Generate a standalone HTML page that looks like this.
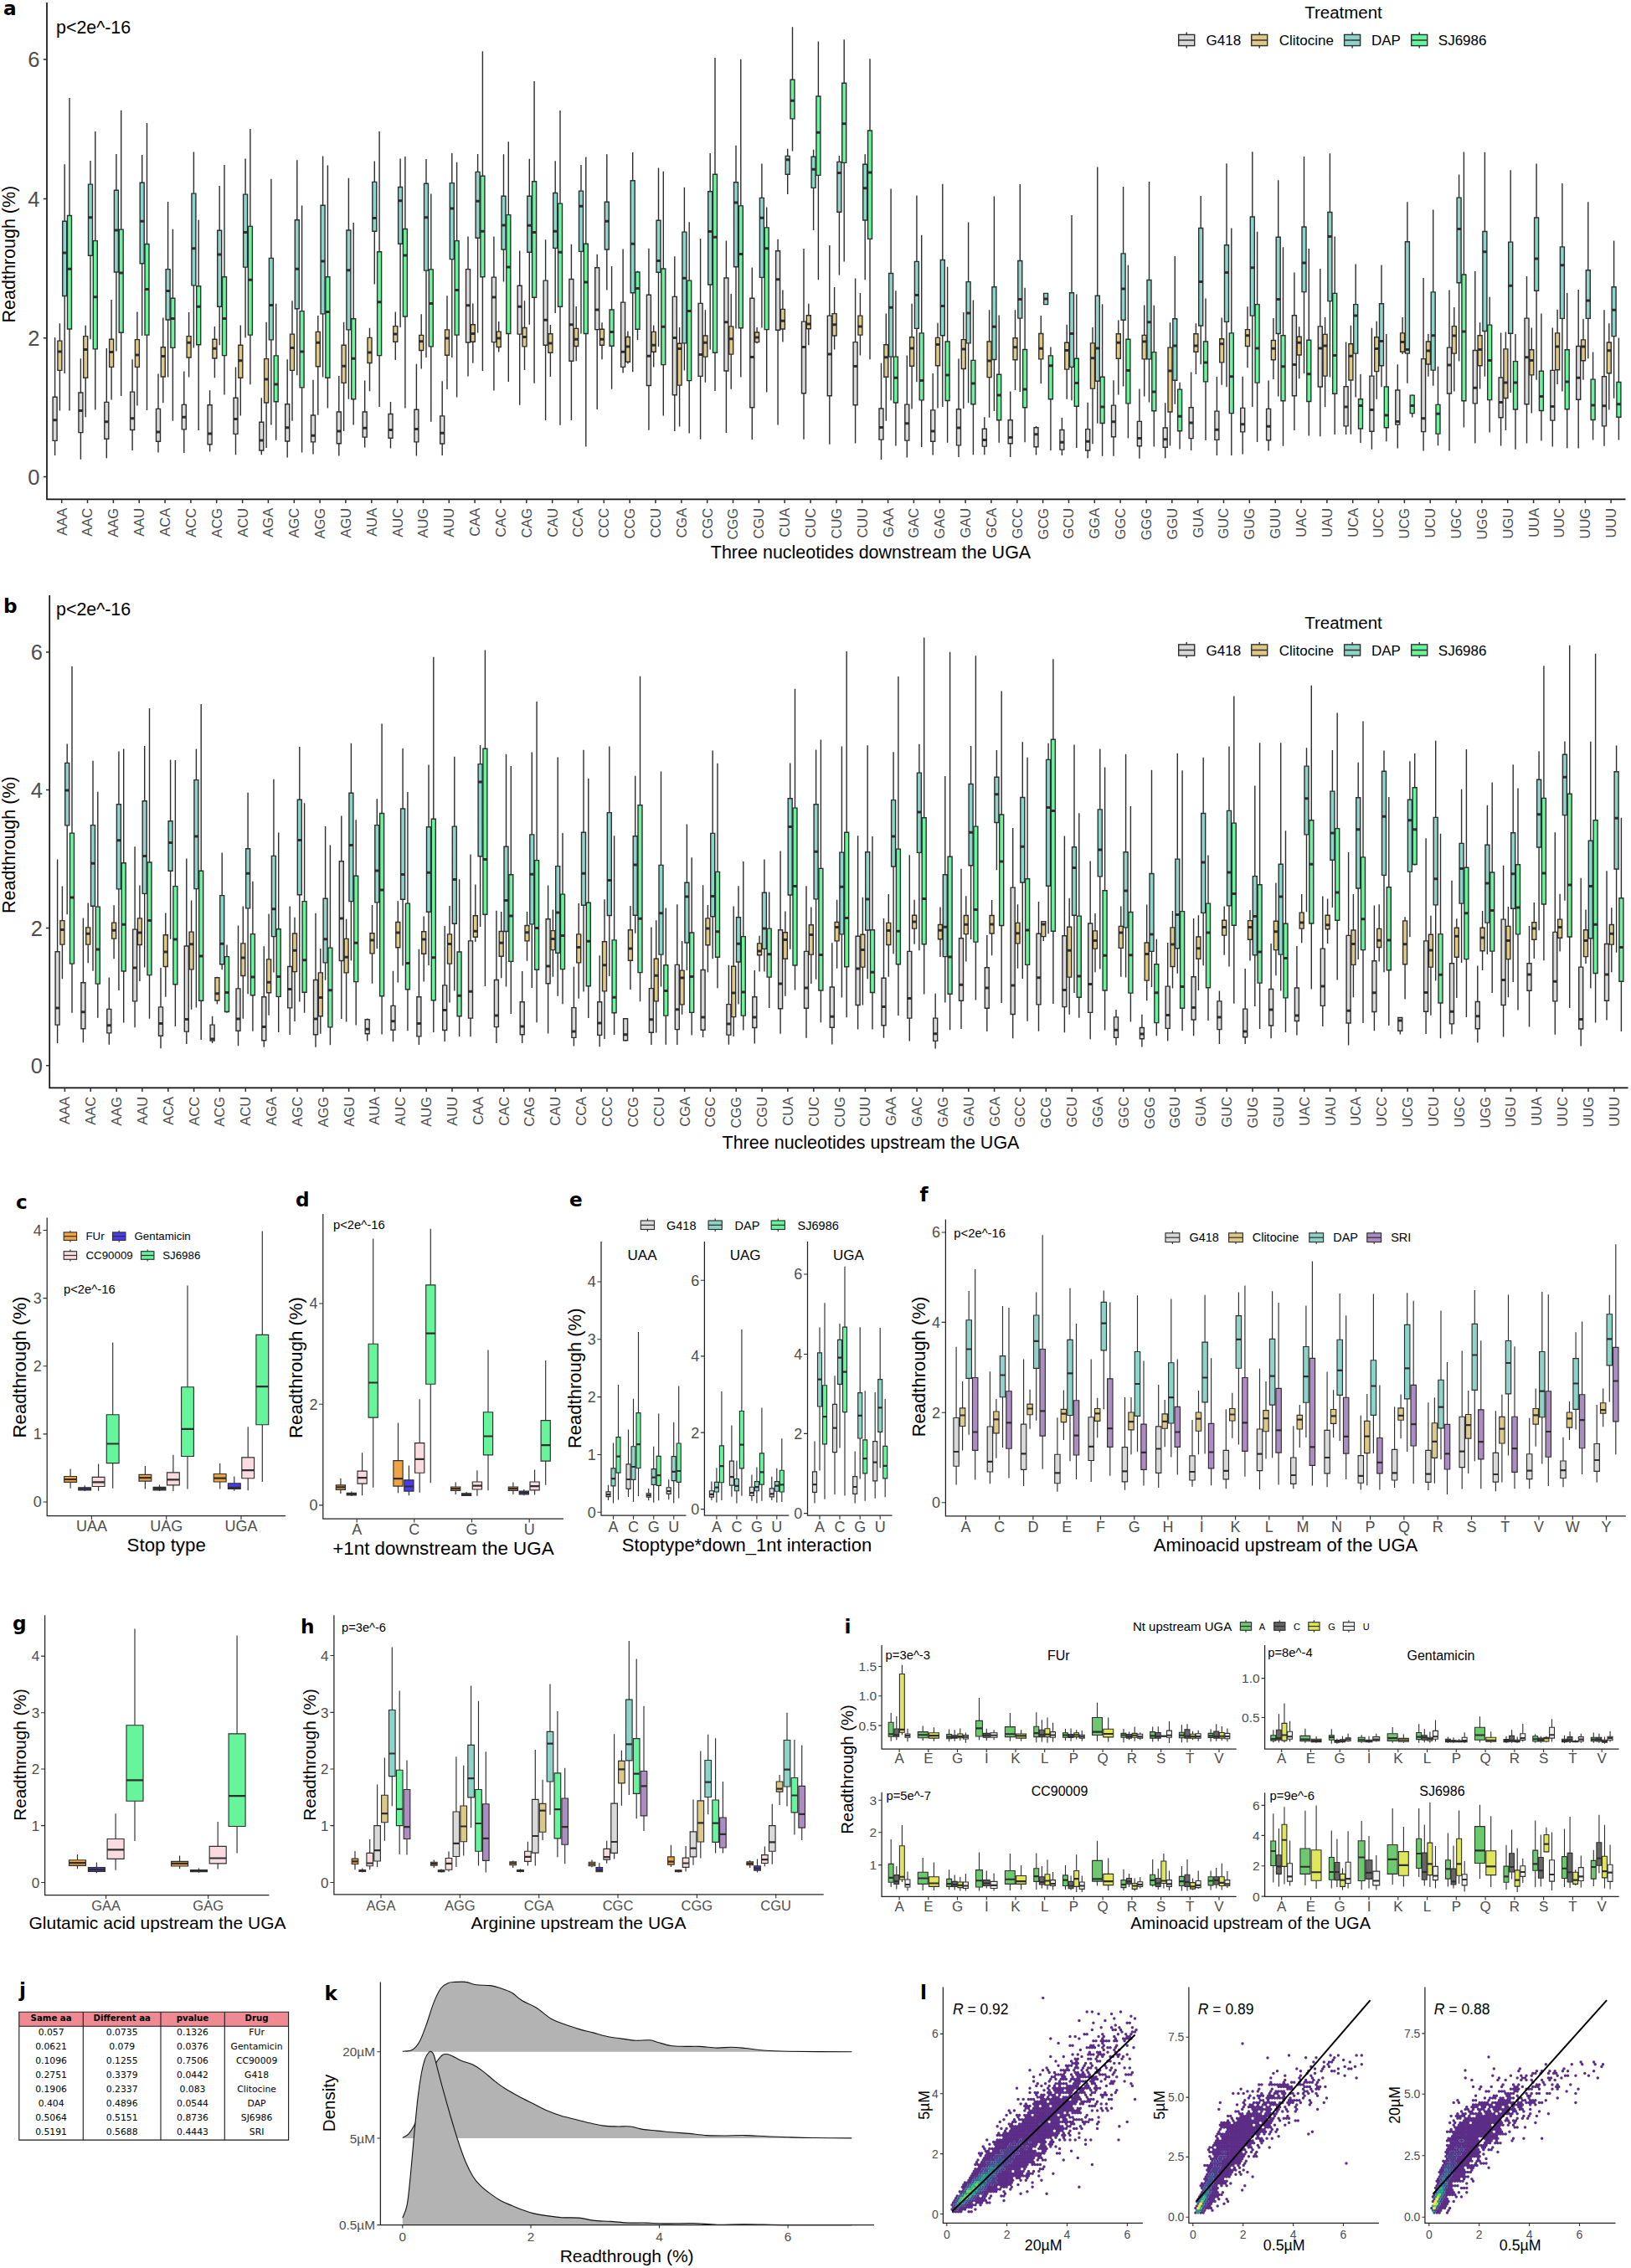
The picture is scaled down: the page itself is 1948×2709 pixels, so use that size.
<!DOCTYPE html>
<html lang="en"><head><meta charset="utf-8"><title>Readthrough figure</title>
<style>html,body{margin:0;padding:0;background:#fff}svg{display:block}</style></head>
<body>
<svg width="1948" height="2709" viewBox="0 0 1948 2709" font-family="Liberation Sans, sans-serif">
<rect width="1948" height="2709" fill="#fff"/>
<path d="M65.6 403.1V544.1M96.4 428.3V548.7M127.3 416V547.2M158.1 429.2V538M189 446.4V540.5M219.8 443.6V541.1M250.6 466.3V539.5M281.5 438.4V543.2M312.3 475.2V543.2M343.2 429.2V546.6M374 453.7V542.6M404.8 449.1V544.5M435.7 454.6V534.6M466.5 480.1V535.6M497.4 434.7V544.5M528.2 455.2V544.1M559 282.6V449.4M589.9 282.6V466.6M620.7 299.5V483.8M651.6 286.3V502.1M682.4 291.8V502.1M713.2 303.8V489M744.1 297.4V445.4M774.9 296.8V513.8M805.8 306.3V515M836.6 285.1V524.8M867.4 287.6V516.9M898.3 319.4V525.1M929.1 285.7V507.4M960 297.1V524.8M990.8 293.1V530.7M1021.6 332.6V529.4M1052.5 433.8V549M1083.3 424.6V546.6M1114.2 446V543.5M1145 428.6V546M1175.8 498.2V543.2M1206.7 467.5V546M1237.5 508.9V543.5M1268.4 499.1V544.1M1299.2 480.7V547.2M1330 454.3V544.8M1360.9 464.4V547.8M1391.7 481.3V547.2M1422.6 444.5V538M1453.4 450V544.1M1484.2 449.7V542.6M1515.1 454.6V538.6M1545.9 325.6V514.1M1576.8 321V521.2M1607.6 408.6V519M1638.4 391.8V536.8M1669.3 435.3V535.6M1700.1 332V538.6M1731 346.4V538.6M1761.8 324V529.4M1792.6 397.6V532.5M1823.5 329.9V529.4M1854.3 391.5V533.4M1885.2 346.1V535.6M1916 370.3V532.8" stroke="#2e2e2e" stroke-width="1.4" fill="none"/>
<path d="M63.1 474.2h5V526.4h-5zM93.9 469h5V516.6h-5zM124.8 480.4h5V524.2h-5zM155.6 468.1h5V513.5h-5zM186.5 488.4h5V527.3h-5zM217.3 483.4h5V512.9h-5zM248.1 483.8h5V530.7h-5zM279 475.2h5V518.4h-5zM309.8 504.3h5V538h-5zM340.7 482.8h5V527h-5zM371.5 496h5V527.9h-5zM402.3 492h5V529.7h-5zM433.2 492h5V522.1h-5zM464 494.5h5V523.3h-5zM494.9 489.3h5V527.9h-5zM525.7 496.9h5V530h-5zM556.5 321.6h5V409h-5zM587.4 331.1h5V408.6h-5zM618.2 341.2h5V399.1h-5zM649.1 335.1h5V412.3h-5zM679.9 333.5h5V431.3h-5zM710.7 319.7h5V393.6h-5zM741.6 361.1h5V438.4h-5zM772.4 352.2h5V460.5h-5zM803.3 354.4h5V471.8h-5zM834.1 362.4h5V449.4h-5zM864.9 332h5V443h-5zM895.8 356.2h5V486.8h-5zM926.6 299.8h5V394.2h-5zM957.5 384.1h5V469.7h-5zM988.3 377.1h5V472.7h-5zM1019.1 408.6h5V483.8h-5zM1050 488h5V525.1h-5zM1080.8 483.1h5V526.1h-5zM1111.7 489.9h5V527.3h-5zM1142.5 488.7h5V531.9h-5zM1173.3 512.3h5V533.1h-5zM1204.2 501.8h5V529.7h-5zM1235 510.7h5V533.7h-5zM1265.9 513.5h5V537.1h-5zM1296.7 512.6h5V538h-5zM1327.5 484.1h5V521.8h-5zM1358.4 503.4h5V532.8h-5zM1389.2 511h5V534.3h-5zM1420.1 486.8h5V523.6h-5zM1450.9 491.1h5V525.4h-5zM1481.7 487.4h5V515.9h-5zM1512.6 488.4h5V525.8h-5zM1543.4 376.8h5V472.7h-5zM1574.3 389.9h5V462h-5zM1605.1 461.7h5V508.9h-5zM1635.9 449.1h5V515.3h-5zM1666.8 466h5V507.1h-5zM1697.6 428.6h5V515.6h-5zM1728.5 415.1h5V470h-5zM1759.3 418.5h5V481.9h-5zM1790.1 451h5V498.8h-5zM1821 380.1h5V482.8h-5zM1851.8 442.4h5V502.1h-5zM1882.7 413.5h5V477.3h-5zM1913.5 449.7h5V508.9h-5z" stroke="#2e2e2e" stroke-width="1.4" fill="#d9d9d9"/>
<path d="M63.1 501.8h5M93.9 490.5h5M124.8 503.7h5M155.6 499.7h5M186.5 515.9h5M217.3 498.2h5M248.1 518.1h5M279 500.6h5M309.8 526.1h5M340.7 510.7h5M371.5 520.2h5M402.3 515h5M433.2 511.3h5M464 513.5h5M494.9 512.6h5M525.7 517.2h5M556.5 364.8h5M587.4 355h5M618.2 366.3h5M649.1 382.3h5M679.9 387.8h5M710.7 370h5M741.6 420.3h5M772.4 425.2h5M803.3 403.4h5M834.1 423.4h5M864.9 384.7h5M895.8 426.4h5M926.6 333.8h5M957.5 414.5h5M988.3 423.1h5M1019.1 437.5h5M1050 510.4h5M1080.8 505.8h5M1111.7 515h5M1142.5 511h5M1173.3 525.4h5M1204.2 522.4h5M1235 518.7h5M1265.9 528.2h5M1296.7 527.3h5M1327.5 503.7h5M1358.4 523.6h5M1389.2 524.8h5M1420.1 504.9h5M1450.9 513.2h5M1481.7 506.7h5M1512.6 509.2h5M1543.4 435.6h5M1574.3 416h5M1605.1 485.9h5M1635.9 489.6h5M1666.8 503.4h5M1697.6 499.7h5M1728.5 435.9h5M1759.3 463.2h5M1790.1 480.4h5M1821 426.7h5M1851.8 485.6h5M1882.7 451.3h5M1913.5 484.7h5" stroke="#2e2e2e" stroke-width="3.0" fill="none"/>
<path d="M71.4 386.3V490.5M102.2 388.7V498.2M133.1 358.1V477.6M163.9 372.5V484.4M194.8 379.5V481.3M225.6 373.1V450.6M256.4 389.9V451.3M287.3 388.4V496.6M318.1 384.7V534.9M349 359.3V502.8M379.8 377.1V495.7M410.6 384.7V515M441.5 391.8V467.2M472.3 372.5V430.1M503.2 375.2V440.5M534 353.2V465.1M564.8 362.4V433.8M595.7 384.1V420.6M626.5 359.3V442.1M657.4 388.1V450M688.2 366V431.3M719 385.3V429.2M749.9 395.5V434.4M780.7 388.4V438.4M811.6 390.9V509.5M842.4 370.3V456.8M873.2 351V464.7M904.1 390.9V410.2M934.9 346.4V408.6M965.8 362.7V412.3M996.6 343V417.5M1027.4 350.1V424.6M1058.3 374.6V502.8M1089.1 362.7V488.4M1120 385.7V487.4M1150.8 373.1V488M1181.6 370.3V498.8M1212.5 370.3V466M1243.3 377.1V458.3M1274.2 387.8V476.7M1305 390.9V530.3M1335.8 382.6V471.5M1366.7 364.5V473.6M1397.5 385.3V532.5M1428.4 386.3V447M1459.2 379.5V459.8M1490 366.3V439.3M1520.9 380.1V453.1M1551.7 390.3V452.2M1582.6 378.9V485.9M1613.4 388.7V518.7M1644.2 383.8V476.7M1675.1 378.9V423.1M1705.9 399.1V449.7M1736.8 367V467.5M1767.6 385.3V464.4M1798.4 396.4V514.1M1829.3 391.5V493.6M1860.1 369.7V458.9M1891 381.1V453.7M1921.8 386.3V489.6" stroke="#2e2e2e" stroke-width="1.4" fill="none"/>
<path d="M68.9 407.1h5V442.4h-5zM99.7 401.6h5V451.3h-5zM130.6 405.3h5V438.4h-5zM161.4 405.6h5V438.4h-5zM192.3 414.8h5V450h-5zM223.1 401.6h5V427h-5zM253.9 405.3h5V428h-5zM284.8 412.3h5V451.3h-5zM315.6 428.6h5V481h-5zM346.5 399.1h5V442.4h-5zM377.3 396.4h5V437.8h-5zM408.1 412.3h5V457.4h-5zM439 403.4h5V433.5h-5zM469.8 389.6h5V408.3h-5zM500.7 400.4h5V418.5h-5zM531.5 393.9h5V424.3h-5zM562.3 387.8h5V408.3h-5zM593.2 396.1h5V414.5h-5zM624 391.5h5V413.9h-5zM654.9 398.8h5V421.2h-5zM685.7 392.4h5V413.5h-5zM716.5 393.3h5V412.3h-5zM747.4 402.5h5V432.3h-5zM778.2 396.4h5V420.3h-5zM809.1 410.2h5V460.1h-5zM839.9 401h5V426.1h-5zM870.7 389.9h5V423.1h-5zM901.6 397h5V408.6h-5zM932.4 369.4h5V393h-5zM963.3 376.8h5V392.7h-5zM994.1 374.6h5V401h-5zM1024.9 377.1h5V400.1h-5zM1055.8 411.7h5V450.3h-5zM1086.6 402.8h5V437.2h-5zM1117.5 403.4h5V436.8h-5zM1148.3 405.6h5V440.5h-5zM1179.1 408h5V450.6h-5zM1210 403.7h5V429.8h-5zM1240.8 398.5h5V428.9h-5zM1271.7 409.3h5V441.1h-5zM1302.5 409.9h5V464.1h-5zM1333.3 398.8h5V428.3h-5zM1364.2 400.4h5V428.9h-5zM1395 415.1h5V492h-5zM1425.9 398.8h5V420.3h-5zM1456.7 404.7h5V432.9h-5zM1487.5 393.6h5V413.5h-5zM1518.4 406.5h5V429.8h-5zM1549.2 402.2h5V424h-5zM1580.1 399.4h5V449.1h-5zM1610.9 410.8h5V454h-5zM1641.7 402.8h5V443.6h-5zM1672.6 397.9h5V420.3h-5zM1703.4 408h5V435h-5zM1734.3 389.6h5V422.1h-5zM1765.1 400.7h5V436.8h-5zM1795.9 416.9h5V475.5h-5zM1826.8 417.8h5V447.9h-5zM1857.6 397.9h5V441.8h-5zM1888.5 405.9h5V430.7h-5zM1919.3 409h5V445.7h-5z" stroke="#2e2e2e" stroke-width="1.4" fill="#dec887"/>
<path d="M68.9 420h5M99.7 417.5h5M130.6 420.6h5M161.4 424h5M192.3 425.5h5M223.1 409.3h5M253.9 416.3h5M284.8 430.7h5M315.6 453.1h5M346.5 415.4h5M377.3 409.3h5M408.1 437.2h5M439 420.9h5M469.8 399.1h5M500.7 407.7h5M531.5 404h5M562.3 398.5h5M593.2 404h5M624 402.5h5M654.9 409.9h5M685.7 405.3h5M716.5 405.3h5M747.4 413.9h5M778.2 412.3h5M809.1 416.6h5M839.9 409.3h5M870.7 404.7h5M901.6 403.1h5M932.4 383.2h5M963.3 386.9h5M994.1 387.8h5M1024.9 389.9h5M1055.8 426.7h5M1086.6 416h5M1117.5 411.4h5M1148.3 416.9h5M1179.1 431h5M1210 414.8h5M1240.8 416.3h5M1271.7 418.5h5M1302.5 427.7h5M1333.3 409.3h5M1364.2 408h5M1395 443h5M1425.9 412.9h5M1456.7 410.8h5M1487.5 400.7h5M1518.4 416.3h5M1549.2 409.3h5M1580.1 412.9h5M1610.9 425.2h5M1641.7 416.6h5M1672.6 408.6h5M1703.4 419.1h5M1734.3 401h5M1765.1 417.5h5M1795.9 457.1h5M1826.8 430.4h5M1857.6 413.9h5M1888.5 413.9h5M1919.3 418.8h5" stroke="#2e2e2e" stroke-width="3.0" fill="none"/>
<path d="M77.2 196.2V446M108 191.9V405.3M138.9 183.9V419.4M169.7 184.9V401M200.6 241V450.6M231.4 181.5V415.4M262.2 221.9V412.3M293.1 189.5V403.4M323.9 213.7V507.4M354.8 191.3V448.2M385.6 186.4V450.6M416.4 212.8V476.7M447.3 192.5V339.4M478.1 189.5V390.9M509 190.1V427M539.8 183V427M570.6 183.9V397.6M601.5 184.2V336.6M632.3 189.8V387.8M663.2 192.2V374M694 197.1V398.5M724.8 184.2V346.4M755.7 182.1V444.2M786.5 200.5V413.9M817.4 223.8V442.4M848.2 183V417.5M879 173.8V392.4M909.9 195.6V391.5M940.7 177.8V232.1M971.6 178.7V275M1002.4 186.1V328.6M1033.2 184.2V334.2M1064.1 225.6V478.2M1094.9 233.6V456.2M1125.8 219.8V485.9M1156.6 265.5V481.3M1187.4 234.5V491.1M1218.3 220.1V468.1M1249.1 350.1V363.9M1280 256.9V478.2M1310.8 199.6V505.8M1341.6 222.9V461.4M1372.5 217V480.4M1403.3 305.9V482.8M1434.2 233.9V435.3M1465 195.3V462.3M1495.8 181.2V485.9M1526.7 215.2V473.6M1557.5 187V446M1588.4 183.3V450.6M1619.2 315.5V474.6M1650 316.4V462.3M1680.9 241.3V457.7M1711.7 250.5V460.8M1742.6 208.5V431.6M1773.4 181.8V449.7M1804.2 203.2V469M1835.1 195.6V453.7M1865.9 218.9V467.5M1896.8 241.3V428.3M1927.6 287.6V475.8" stroke="#2e2e2e" stroke-width="1.4" fill="none"/>
<path d="M74.7 264.3h5V353.5h-5zM105.5 220.1h5V305.3h-5zM136.4 227.2h5V325h-5zM167.2 218.3h5V314.8h-5zM198.1 321.6h5V382h-5zM228.9 231.1h5V340.9h-5zM259.7 275.3h5V366.3h-5zM290.6 232.1h5V319.1h-5zM321.4 308.4h5V405.9h-5zM352.3 262.7h5V368.8h-5zM383.1 245.2h5V374.9h-5zM413.9 275h5V393.9h-5zM444.8 217.4h5V276.2h-5zM475.6 223.5h5V291.2h-5zM506.5 219.2h5V323.1h-5zM537.3 218.6h5V309.6h-5zM568.1 205.4h5V284.2h-5zM599 234.2h5V298h-5zM629.8 234.2h5V301.3h-5zM660.7 230.5h5V296.4h-5zM691.5 228.1h5V300.4h-5zM722.3 241.3h5V298h-5zM753.2 215.8h5V349.8h-5zM784 263.3h5V325.3h-5zM814.9 277.1h5V409.9h-5zM845.7 228.7h5V340h-5zM876.5 217.7h5V318.8h-5zM907.4 236.4h5V331.4h-5zM938.2 186.4h5V208.2h-5zM969.1 187.3h5V224.4h-5zM999.9 193.4h5V253.2h-5zM1030.7 196.2h5V263h-5zM1061.6 326.5h5V426.1h-5zM1092.4 312.4h5V392.4h-5zM1123.3 310.5h5V400.7h-5zM1154.1 336.6h5V409.9h-5zM1184.9 342.7h5V429.5h-5zM1215.8 311.5h5V380.1h-5zM1246.6 350.4h5V363.6h-5zM1277.5 349.8h5V438.4h-5zM1308.3 353.2h5V455.2h-5zM1339.1 302.9h5V382.3h-5zM1370 334.5h5V428.9h-5zM1400.8 380.7h5V454.3h-5zM1431.7 272.5h5V389h-5zM1462.5 292.8h5V384.4h-5zM1493.3 259h5V377.1h-5zM1524.2 283.3h5V398.5h-5zM1555 271h5V348.6h-5zM1585.9 253.5h5V359.6h-5zM1616.7 363.6h5V422.1h-5zM1647.5 362.7h5V436.8h-5zM1678.4 288.8h5V422.1h-5zM1709.2 348.9h5V442.1h-5zM1740.1 236.1h5V337.8h-5zM1770.9 276.5h5V395.5h-5zM1801.7 289.1h5V398.2h-5zM1832.6 260h5V347.3h-5zM1863.4 294.9h5V380.4h-5zM1894.3 322.8h5V380.4h-5zM1925.1 342.7h5V401.6h-5z" stroke="#2e2e2e" stroke-width="1.4" fill="#8dd3c7"/>
<path d="M74.7 302h5M105.5 259.7h5M136.4 275h5M167.2 264.3h5M198.1 347.6h5M228.9 296.8h5M259.7 304.1h5M290.6 277.4h5M321.4 364.5h5M352.3 321.3h5M383.1 312.1h5M413.9 322.8h5M444.8 260.6h5M475.6 239.7h5M506.5 259.7h5M537.3 248.9h5M568.1 240.3h5M599 268.9h5M629.8 269.2h5M660.7 276.2h5M691.5 246.2h5M722.3 264.3h5M753.2 291.2h5M784 311.5h5M814.9 332.3h5M845.7 276.5h5M876.5 241.9h5M907.4 260.3h5M938.2 190.7h5M969.1 202.3h5M999.9 206.6h5M1030.7 224.7h5M1061.6 367.3h5M1092.4 352.5h5M1123.3 365.4h5M1154.1 374h5M1184.9 390.3h5M1215.8 357.4h5M1246.6 357.1h5M1277.5 398.5h5M1308.3 416h5M1339.1 344.9h5M1370 384.7h5M1400.8 412.9h5M1431.7 336.6h5M1462.5 325.6h5M1493.3 319.7h5M1524.2 357.4h5M1555 313.9h5M1585.9 282.6h5M1616.7 377.1h5M1647.5 407.4h5M1678.4 417.5h5M1709.2 400.7h5M1740.1 273.5h5M1770.9 300.7h5M1801.7 341.2h5M1832.6 309h5M1863.4 316.7h5M1894.3 359h5M1925.1 370.3h5" stroke="#2e2e2e" stroke-width="3.0" fill="none"/>
<path d="M83 117.1V490.5M113.8 157V489.6M144.7 131.8V473M175.5 147.1V489.9M206.4 273.8V502.8M237.2 262.7V514.1M268 197.1V471.5M298.9 153.9V459.2M329.7 362.7V525.8M360.6 245.6V540.5M391.4 197.4V487.4M422.2 266.1V507.4M453.1 157V485.9M483.9 187V487.4M514.8 231.5V503.7M545.6 193.7V474.6M576.4 61.3V443M607.3 169.2V455.9M638.1 96.9V457.7M669 132.1V507.7M699.8 187.6V533.4M730.6 317.9V464.7M761.5 323.4V405.9M792.3 204.8V496.6M823.2 265.2V517.5M854 69V466.9M884.8 70.8V450.6M915.7 247.4V468.4M946.5 32.2V180.6M977.4 49.4V334.2M1008.2 47.2V312.4M1039 70.2V429.2M1069.9 347.3V532.5M1100.7 280.8V534M1131.6 318.8V528.8M1162.4 358.4V543.2M1193.2 376.5V528.8M1224.1 343.7V528.2M1254.9 414.5V538M1285.8 351.6V534.9M1316.6 363.3V544.8M1347.4 316.4V523.6M1378.3 364.8V533.4M1409.1 456.8V536.5M1440 356.5V526.1M1470.8 272.5V544.1M1501.6 276.8V527.9M1532.5 295.2V532.8M1563.3 297.1V520.5M1594.2 282.6V519M1625 447V529.1M1655.8 399.1V527.3M1686.7 471.5V498.5M1717.5 437.8V532.2M1748.4 181.5V510.4M1779.2 354.7V516.6M1810 399.1V536.8M1840.9 374.6V526.4M1871.7 350.1V535.3M1902.6 420.6V525.4M1933.4 403.4V525.4" stroke="#2e2e2e" stroke-width="1.4" fill="none"/>
<path d="M80.5 257.5h5V393h-5zM111.3 287.6h5V416.9h-5zM142.2 274.1h5V397.3h-5zM173 291.5h5V400.1h-5zM203.9 356.2h5V415.4h-5zM234.7 341.8h5V411.7h-5zM265.5 330.8h5V424.6h-5zM296.4 270.4h5V400.1h-5zM327.2 424.9h5V479.8h-5zM358.1 371.6h5V462.9h-5zM388.9 330.8h5V451.3h-5zM419.7 380.7h5V476.7h-5zM450.6 300.7h5V424.6h-5zM481.4 273.5h5V378h-5zM512.3 321.9h5V413.9h-5zM543.1 287.6h5V400.1h-5zM573.9 210.3h5V330.8h-5zM604.8 256.6h5V398.5h-5zM635.6 216.7h5V355.3h-5zM666.5 243.1h5V366.3h-5zM697.3 291.2h5V398.5h-5zM728.1 370h5V413.2h-5zM759 325h5V393.3h-5zM789.8 321h5V435.6h-5zM820.7 335.1h5V454.6h-5zM851.5 208.2h5V421.2h-5zM882.3 245.9h5V391.8h-5zM913.2 271.9h5V393.6h-5zM944 95.3h5V141.9h-5zM974.9 115h5V209.4h-5zM1005.7 99.3h5V194.4h-5zM1036.5 156h5V285.4h-5zM1067.4 426.1h5V481h-5zM1098.2 397.9h5V477.9h-5zM1129.1 408h5V478.5h-5zM1159.9 430.4h5V482.8h-5zM1190.7 447.3h5V501.8h-5zM1221.6 417.5h5V486.8h-5zM1252.4 424.9h5V476.7h-5zM1283.3 428.3h5V485.3h-5zM1314.1 450.3h5V505.5h-5zM1344.9 405.3h5V481.9h-5zM1375.8 420.6h5V490.8h-5zM1406.6 465.1h5V514.7h-5zM1437.5 408h5V455.9h-5zM1468.3 397.9h5V493.6h-5zM1499.1 363.6h5V457.1h-5zM1530 400.7h5V478.8h-5zM1560.8 406.2h5V479.5h-5zM1591.7 350.4h5V470.3h-5zM1622.5 476.7h5V512h-5zM1653.3 462h5V510.7h-5zM1684.2 472.1h5V493.6h-5zM1715 483.4h5V518.1h-5zM1745.9 328h5V478.8h-5zM1776.7 388.1h5V477.6h-5zM1807.5 431.6h5V489h-5zM1838.4 443.3h5V490.5h-5zM1869.2 417.8h5V488.7h-5zM1900.1 453.1h5V501.5h-5zM1930.9 456.5h5V498.2h-5z" stroke="#2e2e2e" stroke-width="1.4" fill="#66f59b"/>
<path d="M80.5 321.3h5M111.3 354.7h5M142.2 325.9h5M173 345.5h5M203.9 380.4h5M234.7 366.3h5M265.5 380.4h5M296.4 334.2h5M327.2 458.9h5M358.1 420h5M388.9 372.5h5M419.7 428.3h5M450.6 360.8h5M481.4 305h5M512.3 362.4h5M543.1 346.4h5M573.9 276.2h5M604.8 319.1h5M635.6 277.4h5M666.5 301.3h5M697.3 336.9h5M728.1 396.4h5M759 344.6h5M789.8 390.3h5M820.7 371.6h5M851.5 283.3h5M882.3 303.5h5M913.2 296.8h5M944 120.2h5M974.9 158.2h5M1005.7 147.8h5M1036.5 206h5M1067.4 451.3h5M1098.2 454.6h5M1129.1 447.9h5M1159.9 458h5M1190.7 472.1h5M1221.6 465.1h5M1252.4 436.8h5M1283.3 457.4h5M1314.1 485.9h5M1344.9 442.4h5M1375.8 468.1h5M1406.6 497.2h5M1437.5 432.9h5M1468.3 449.7h5M1499.1 416h5M1530 437.8h5M1560.8 446.7h5M1591.7 424.6h5M1622.5 484.4h5M1653.3 496h5M1684.2 484.4h5M1715 494.2h5M1745.9 396.1h5M1776.7 430.4h5M1807.5 457.1h5M1838.4 473.6h5M1869.2 455.9h5M1900.1 484.1h5M1930.9 482.8h5" stroke="#2e2e2e" stroke-width="3.0" fill="none"/>
<path d="M56 3V596.3H1941.5" stroke="#111" stroke-width="1.7" fill="none"/>
<path d="M51.8 71.1h4.2M51.8 237.6h4.2M51.8 403.7h4.2M51.8 569.6h4.2" stroke="#2e2e2e" stroke-width="1.5"/>
<text x="47.5" y="80.2" font-size="25.5" text-anchor="end" fill="#4d4d4d">6</text>
<text x="47.5" y="246.7" font-size="25.5" text-anchor="end" fill="#4d4d4d">4</text>
<text x="47.5" y="412.8" font-size="25.5" text-anchor="end" fill="#4d4d4d">2</text>
<text x="47.5" y="578.7" font-size="25.5" text-anchor="end" fill="#4d4d4d">0</text>
<path d="M73.7 596.3v4.6M104.5 596.3v4.6M135.4 596.3v4.6M166.2 596.3v4.6M197.1 596.3v4.6M227.9 596.3v4.6M258.7 596.3v4.6M289.6 596.3v4.6M320.4 596.3v4.6M351.3 596.3v4.6M382.1 596.3v4.6M412.9 596.3v4.6M443.8 596.3v4.6M474.6 596.3v4.6M505.5 596.3v4.6M536.3 596.3v4.6M567.1 596.3v4.6M598 596.3v4.6M628.8 596.3v4.6M659.7 596.3v4.6M690.5 596.3v4.6M721.3 596.3v4.6M752.2 596.3v4.6M783 596.3v4.6M813.9 596.3v4.6M844.7 596.3v4.6M875.5 596.3v4.6M906.4 596.3v4.6M937.2 596.3v4.6M968.1 596.3v4.6M998.9 596.3v4.6M1029.7 596.3v4.6M1060.6 596.3v4.6M1091.4 596.3v4.6M1122.3 596.3v4.6M1153.1 596.3v4.6M1183.9 596.3v4.6M1214.8 596.3v4.6M1245.6 596.3v4.6M1276.5 596.3v4.6M1307.3 596.3v4.6M1338.1 596.3v4.6M1369 596.3v4.6M1399.8 596.3v4.6M1430.7 596.3v4.6M1461.5 596.3v4.6M1492.3 596.3v4.6M1523.2 596.3v4.6M1554 596.3v4.6M1584.9 596.3v4.6M1615.7 596.3v4.6M1646.5 596.3v4.6M1677.4 596.3v4.6M1708.2 596.3v4.6M1739.1 596.3v4.6M1769.9 596.3v4.6M1800.7 596.3v4.6M1831.6 596.3v4.6M1862.4 596.3v4.6M1893.3 596.3v4.6M1924.1 596.3v4.6" stroke="#2e2e2e" stroke-width="1.5"/>
<text font-size="16.5" text-anchor="end" fill="#4d4d4d" transform="translate(79.6,606.8) rotate(-90)">AAA</text>
<text font-size="16.5" text-anchor="end" fill="#4d4d4d" transform="translate(110.4,606.8) rotate(-90)">AAC</text>
<text font-size="16.5" text-anchor="end" fill="#4d4d4d" transform="translate(141.3,606.8) rotate(-90)">AAG</text>
<text font-size="16.5" text-anchor="end" fill="#4d4d4d" transform="translate(172.1,606.8) rotate(-90)">AAU</text>
<text font-size="16.5" text-anchor="end" fill="#4d4d4d" transform="translate(203,606.8) rotate(-90)">ACA</text>
<text font-size="16.5" text-anchor="end" fill="#4d4d4d" transform="translate(233.8,606.8) rotate(-90)">ACC</text>
<text font-size="16.5" text-anchor="end" fill="#4d4d4d" transform="translate(264.6,606.8) rotate(-90)">ACG</text>
<text font-size="16.5" text-anchor="end" fill="#4d4d4d" transform="translate(295.5,606.8) rotate(-90)">ACU</text>
<text font-size="16.5" text-anchor="end" fill="#4d4d4d" transform="translate(326.3,606.8) rotate(-90)">AGA</text>
<text font-size="16.5" text-anchor="end" fill="#4d4d4d" transform="translate(357.2,606.8) rotate(-90)">AGC</text>
<text font-size="16.5" text-anchor="end" fill="#4d4d4d" transform="translate(388,606.8) rotate(-90)">AGG</text>
<text font-size="16.5" text-anchor="end" fill="#4d4d4d" transform="translate(418.8,606.8) rotate(-90)">AGU</text>
<text font-size="16.5" text-anchor="end" fill="#4d4d4d" transform="translate(449.7,606.8) rotate(-90)">AUA</text>
<text font-size="16.5" text-anchor="end" fill="#4d4d4d" transform="translate(480.5,606.8) rotate(-90)">AUC</text>
<text font-size="16.5" text-anchor="end" fill="#4d4d4d" transform="translate(511.4,606.8) rotate(-90)">AUG</text>
<text font-size="16.5" text-anchor="end" fill="#4d4d4d" transform="translate(542.2,606.8) rotate(-90)">AUU</text>
<text font-size="16.5" text-anchor="end" fill="#4d4d4d" transform="translate(573,606.8) rotate(-90)">CAA</text>
<text font-size="16.5" text-anchor="end" fill="#4d4d4d" transform="translate(603.9,606.8) rotate(-90)">CAC</text>
<text font-size="16.5" text-anchor="end" fill="#4d4d4d" transform="translate(634.7,606.8) rotate(-90)">CAG</text>
<text font-size="16.5" text-anchor="end" fill="#4d4d4d" transform="translate(665.6,606.8) rotate(-90)">CAU</text>
<text font-size="16.5" text-anchor="end" fill="#4d4d4d" transform="translate(696.4,606.8) rotate(-90)">CCA</text>
<text font-size="16.5" text-anchor="end" fill="#4d4d4d" transform="translate(727.2,606.8) rotate(-90)">CCC</text>
<text font-size="16.5" text-anchor="end" fill="#4d4d4d" transform="translate(758.1,606.8) rotate(-90)">CCG</text>
<text font-size="16.5" text-anchor="end" fill="#4d4d4d" transform="translate(788.9,606.8) rotate(-90)">CCU</text>
<text font-size="16.5" text-anchor="end" fill="#4d4d4d" transform="translate(819.8,606.8) rotate(-90)">CGA</text>
<text font-size="16.5" text-anchor="end" fill="#4d4d4d" transform="translate(850.6,606.8) rotate(-90)">CGC</text>
<text font-size="16.5" text-anchor="end" fill="#4d4d4d" transform="translate(881.4,606.8) rotate(-90)">CGG</text>
<text font-size="16.5" text-anchor="end" fill="#4d4d4d" transform="translate(912.3,606.8) rotate(-90)">CGU</text>
<text font-size="16.5" text-anchor="end" fill="#4d4d4d" transform="translate(943.1,606.8) rotate(-90)">CUA</text>
<text font-size="16.5" text-anchor="end" fill="#4d4d4d" transform="translate(974,606.8) rotate(-90)">CUC</text>
<text font-size="16.5" text-anchor="end" fill="#4d4d4d" transform="translate(1004.8,606.8) rotate(-90)">CUG</text>
<text font-size="16.5" text-anchor="end" fill="#4d4d4d" transform="translate(1035.6,606.8) rotate(-90)">CUU</text>
<text font-size="16.5" text-anchor="end" fill="#4d4d4d" transform="translate(1066.5,606.8) rotate(-90)">GAA</text>
<text font-size="16.5" text-anchor="end" fill="#4d4d4d" transform="translate(1097.3,606.8) rotate(-90)">GAC</text>
<text font-size="16.5" text-anchor="end" fill="#4d4d4d" transform="translate(1128.2,606.8) rotate(-90)">GAG</text>
<text font-size="16.5" text-anchor="end" fill="#4d4d4d" transform="translate(1159,606.8) rotate(-90)">GAU</text>
<text font-size="16.5" text-anchor="end" fill="#4d4d4d" transform="translate(1189.8,606.8) rotate(-90)">GCA</text>
<text font-size="16.5" text-anchor="end" fill="#4d4d4d" transform="translate(1220.7,606.8) rotate(-90)">GCC</text>
<text font-size="16.5" text-anchor="end" fill="#4d4d4d" transform="translate(1251.5,606.8) rotate(-90)">GCG</text>
<text font-size="16.5" text-anchor="end" fill="#4d4d4d" transform="translate(1282.4,606.8) rotate(-90)">GCU</text>
<text font-size="16.5" text-anchor="end" fill="#4d4d4d" transform="translate(1313.2,606.8) rotate(-90)">GGA</text>
<text font-size="16.5" text-anchor="end" fill="#4d4d4d" transform="translate(1344,606.8) rotate(-90)">GGC</text>
<text font-size="16.5" text-anchor="end" fill="#4d4d4d" transform="translate(1374.9,606.8) rotate(-90)">GGG</text>
<text font-size="16.5" text-anchor="end" fill="#4d4d4d" transform="translate(1405.7,606.8) rotate(-90)">GGU</text>
<text font-size="16.5" text-anchor="end" fill="#4d4d4d" transform="translate(1436.6,606.8) rotate(-90)">GUA</text>
<text font-size="16.5" text-anchor="end" fill="#4d4d4d" transform="translate(1467.4,606.8) rotate(-90)">GUC</text>
<text font-size="16.5" text-anchor="end" fill="#4d4d4d" transform="translate(1498.2,606.8) rotate(-90)">GUG</text>
<text font-size="16.5" text-anchor="end" fill="#4d4d4d" transform="translate(1529.1,606.8) rotate(-90)">GUU</text>
<text font-size="16.5" text-anchor="end" fill="#4d4d4d" transform="translate(1559.9,606.8) rotate(-90)">UAC</text>
<text font-size="16.5" text-anchor="end" fill="#4d4d4d" transform="translate(1590.8,606.8) rotate(-90)">UAU</text>
<text font-size="16.5" text-anchor="end" fill="#4d4d4d" transform="translate(1621.6,606.8) rotate(-90)">UCA</text>
<text font-size="16.5" text-anchor="end" fill="#4d4d4d" transform="translate(1652.4,606.8) rotate(-90)">UCC</text>
<text font-size="16.5" text-anchor="end" fill="#4d4d4d" transform="translate(1683.3,606.8) rotate(-90)">UCG</text>
<text font-size="16.5" text-anchor="end" fill="#4d4d4d" transform="translate(1714.1,606.8) rotate(-90)">UCU</text>
<text font-size="16.5" text-anchor="end" fill="#4d4d4d" transform="translate(1745,606.8) rotate(-90)">UGC</text>
<text font-size="16.5" text-anchor="end" fill="#4d4d4d" transform="translate(1775.8,606.8) rotate(-90)">UGG</text>
<text font-size="16.5" text-anchor="end" fill="#4d4d4d" transform="translate(1806.6,606.8) rotate(-90)">UGU</text>
<text font-size="16.5" text-anchor="end" fill="#4d4d4d" transform="translate(1837.5,606.8) rotate(-90)">UUA</text>
<text font-size="16.5" text-anchor="end" fill="#4d4d4d" transform="translate(1868.3,606.8) rotate(-90)">UUC</text>
<text font-size="16.5" text-anchor="end" fill="#4d4d4d" transform="translate(1899.2,606.8) rotate(-90)">UUG</text>
<text font-size="16.5" text-anchor="end" fill="#4d4d4d" transform="translate(1930,606.8) rotate(-90)">UUU</text>
<text font-size="21.5" text-anchor="middle" transform="translate(18,303.6) rotate(-90)">Readthrough (%)</text>
<text x="1040" y="666.5" font-size="21.5" text-anchor="middle">Three nucleotides downstream the UGA</text>
<text x="4" y="17.8" font-size="23.2" font-weight="bold" font-family="DejaVu Sans, sans-serif">a</text>
<text x="67" y="39.5" font-size="21.4">p&lt;2e^-16</text>
<text x="1604.5" y="21.8" font-size="20.5" text-anchor="middle">Treatment</text>
<path d="M1417.2 38.4V57.6" stroke="#2e2e2e" stroke-width="1.4"/>
<rect x="1407.7" y="41.4" width="19" height="13.2" fill="#d9d9d9" stroke="#2e2e2e" stroke-width="1.4"/>
<path d="M1407.7 48h19" stroke="#2e2e2e" stroke-width="1.47"/>
<text x="1440.5" y="54.1" font-size="17">G418</text>
<path d="M1504.2 38.4V57.6" stroke="#2e2e2e" stroke-width="1.4"/>
<rect x="1494.7" y="41.4" width="19" height="13.2" fill="#dec887" stroke="#2e2e2e" stroke-width="1.4"/>
<path d="M1494.7 48h19" stroke="#2e2e2e" stroke-width="1.47"/>
<text x="1527.7" y="54.1" font-size="17">Clitocine</text>
<path d="M1615.1 38.4V57.6" stroke="#2e2e2e" stroke-width="1.4"/>
<rect x="1605.6" y="41.4" width="19" height="13.2" fill="#8dd3c7" stroke="#2e2e2e" stroke-width="1.4"/>
<path d="M1605.6 48h19" stroke="#2e2e2e" stroke-width="1.47"/>
<text x="1638" y="54.1" font-size="17">DAP</text>
<path d="M1695.2 38.4V57.6" stroke="#2e2e2e" stroke-width="1.4"/>
<rect x="1685.7" y="41.4" width="19" height="13.2" fill="#66f59b" stroke="#2e2e2e" stroke-width="1.4"/>
<path d="M1685.7 48h19" stroke="#2e2e2e" stroke-width="1.47"/>
<text x="1717.8" y="54.1" font-size="17">SJ6986</text>
<path d="M68.6 1026.4V1245.9M99.4 1096.6V1245.3M130.3 1167.4V1247.7M161.1 1011.3V1227.2M192 1156V1252.3M222.8 1025.5V1247.1M253.6 1213.7V1245.9M284.5 1105.5V1249.2M315.3 1130.3V1250.8M346.2 1082.5V1236.1M377 1090.7V1250.8M407.8 974.6V1217.1M438.7 1216.4V1243.4M469.5 1159.7V1244.3M500.4 1133.7V1248M531.2 1106.1V1244M562 1020.5V1238.2M592.9 1087.7V1245.9M623.7 1160V1245.9M654.6 1057.6V1234.5M685.4 1154.8V1249.5M716.2 1141.3V1250.2M747.1 1216.4V1243.4M777.9 1107.6V1248M808.8 1080.3V1248M839.6 1057.3V1239.1M870.4 1152.7V1247.7M901.3 1159.1V1246.5M932.1 1016.6V1234.8M963 1058.3V1239.7M993.8 1126.3V1247.4M1024.6 998.2V1229.6M1055.5 1096.9V1239.7M1086.3 1021.2V1243.4M1117.2 1186.7V1252.6M1148 1037.7V1229M1178.8 1117.1V1232.1M1209.7 989V1240.3M1240.5 1077V1231.8M1271.4 998.5V1233.3M1302.2 1028.5V1241.3M1333 1206V1248.6M1363.9 1211.8V1250.5M1394.7 1126V1243.4M1425.6 1096.9V1237.3M1456.4 1183.6V1247.1M1487.2 1157V1247.1M1518.1 1126.9V1240.3M1548.9 1130V1236.4M1579.8 1070.5V1225.9M1610.6 1018.1V1248.6M1641.4 1081.6V1231.2M1672.3 1215.2V1235.4M1703.1 1001.2V1235.1M1734 1051.8V1235.4M1764.8 1153.6V1245.3M1795.6 1033.7V1238.5M1826.5 1106.1V1226.6M1857.3 994.2V1235.8M1888.2 1048.7V1249.5M1919 1040.2V1218.6" stroke="#2e2e2e" stroke-width="1.4" fill="none"/>
<path d="M66.1 1136.7h5V1224.1h-5zM96.9 1173.8h5V1228.7h-5zM127.8 1205.4h5V1233.9h-5zM158.6 1110.1h5V1195.9h-5zM189.5 1202.9h5V1237.3h-5zM220.3 1130h5V1232.1h-5zM251.1 1224.1h5V1243.1h-5zM282 1180.9h5V1231.2h-5zM312.8 1190.7h5V1242.8h-5zM343.7 1154.5h5V1203.9h-5zM374.5 1170.5h5V1235.8h-5zM405.3 1028.8h5V1147.5h-5zM436.2 1217.7h5V1234.8h-5zM467 1201.4h5V1230.2h-5zM497.9 1190.7h5V1237.9h-5zM528.7 1176.9h5V1230.5h-5zM559.5 1123.9h5V1216.1h-5zM590.4 1170.5h5V1226.6h-5zM621.2 1196.8h5V1235.8h-5zM652.1 1097.8h5V1174.7h-5zM682.9 1203.6h5V1239.4h-5zM713.7 1196.8h5V1236.4h-5zM744.6 1216.7h5V1242.8h-5zM775.4 1180.6h5V1233.3h-5zM806.3 1152.4h5V1229.6h-5zM837.1 1158.5h5V1230.2h-5zM867.9 1199.6h5V1236.1h-5zM898.8 1190.7h5V1227.5h-5zM929.6 1110.7h5V1204.8h-5zM960.5 1136.4h5V1204.2h-5zM991.3 1179h5V1227.2h-5zM1022.1 1118.3h5V1200.5h-5zM1053 1168.3h5V1224.7h-5zM1083.8 1136.4h5V1216.1h-5zM1114.7 1216.1h5V1243.4h-5zM1145.5 1120.8h5V1195.3h-5zM1176.3 1155.7h5V1204.2h-5zM1207.2 1060.1h5V1211.5h-5zM1238 1115.3h5V1199.9h-5zM1268.9 1117.7h5V1202.6h-5zM1299.7 1103h5V1209.4h-5zM1330.5 1214.9h5V1239.4h-5zM1361.4 1227.5h5V1240.7h-5zM1392.2 1178.1h5V1228.4h-5zM1423.1 1166.8h5V1218h-5zM1453.9 1195.9h5V1229.6h-5zM1484.7 1205.1h5V1238.8h-5zM1515.6 1181.5h5V1225h-5zM1546.4 1180h5V1219.5h-5zM1577.3 1133.1h5V1201.4h-5zM1608.1 1117.4h5V1222h-5zM1638.9 1147.8h5V1208.5h-5zM1669.8 1215.5h5V1231.2h-5zM1700.6 1123.9h5V1208.2h-5zM1731.5 1150.8h5V1222.9h-5zM1762.3 1196.5h5V1228.7h-5zM1793.1 1098.1h5V1200.5h-5zM1824 1150.8h5V1183.3h-5zM1854.8 1113.4h5V1195.9h-5zM1885.7 1155.1h5V1229h-5zM1916.5 1127.5h5V1195.3h-5z" stroke="#2e2e2e" stroke-width="1.4" fill="#d9d9d9"/>
<path d="M66.1 1203.9h5M96.9 1208.8h5M127.8 1224.7h5M158.6 1156h5M189.5 1222.6h5M220.3 1217.4h5M251.1 1241h5M282 1217.1h5M312.8 1226.6h5M343.7 1181.5h5M374.5 1217.1h5M405.3 1096.9h5M436.2 1229.3h5M467 1219.8h5M497.9 1222.6h5M528.7 1206.6h5M559.5 1184.2h5M590.4 1213.1h5M621.2 1225.9h5M652.1 1153.9h5M682.9 1232.1h5M713.7 1222h5M744.6 1235.8h5M775.4 1217.7h5M806.3 1205.7h5M837.1 1214.9h5M867.9 1222.9h5M898.8 1214.9h5M929.6 1175.1h5M960.5 1180h5M991.3 1214.3h5M1022.1 1157h5M1053 1202.6h5M1083.8 1192.5h5M1114.7 1234.8h5M1145.5 1176.3h5M1176.3 1180h5M1207.2 1176.9h5M1238 1167.7h5M1268.9 1182.4h5M1299.7 1175.4h5M1330.5 1230.2h5M1361.4 1235.1h5M1392.2 1212.5h5M1423.1 1203.6h5M1453.9 1214.9h5M1484.7 1232.1h5M1515.6 1206h5M1546.4 1213.1h5M1577.3 1178.1h5M1608.1 1207.2h5M1638.9 1185.8h5M1669.8 1218.9h5M1700.6 1185.5h5M1731.5 1208.2h5M1762.3 1213.7h5M1793.1 1170.5h5M1824 1164h5M1854.8 1172.3h5M1885.7 1217.4h5M1916.5 1164h5" stroke="#2e2e2e" stroke-width="3.0" fill="none"/>
<path d="M74.4 1058.6V1169.2M105.2 1078.5V1150.2M136.1 1081.2V1145.3M166.9 1057.6V1172M197.8 1090.4V1190.7M228.6 1075.4V1205.7M259.4 1166.8V1199.6M290.3 1082.5V1216.7M321.1 1091.4V1212.8M352 1095.7V1220.1M382.8 1133.1V1234.8M413.6 1097.8V1220.4M444.5 1080.9V1174.7M475.3 1076.3V1173.5M506.2 1094.4V1172.6M537 1081.9V1197.4M567.8 1056.4V1125.1M598.7 1088.9V1168.3M629.5 1088.9V1147.8M660.4 1086.5V1166.8M691.2 1079.1V1192.8M722 1074.2V1241M752.9 1081.9V1182.1M783.7 1099.3V1233.6M814.6 1123.9V1211.8M845.4 1080.9V1161.3M876.2 1082.5V1237.9M907.1 1117.7V1160.6M937.9 1088.6V1189.8M968.8 1083.4V1175.1M999.6 1074.8V1156.7M1030.4 1071.7V1200.5M1061.3 1068.1V1166.8M1092.1 1074.8V1127.8M1123 1083.4V1142.9M1153.8 1070.2V1148.4M1184.6 1075.1V1141.3M1215.5 1080.3V1156.7M1246.3 1100.3V1123.9M1277.2 1072.7V1211.8M1308 1091.1V1161.3M1338.8 1082.5V1166.8M1369.7 1080.6V1195.3M1400.5 1088V1180.6M1431.4 1093.2V1183M1462.2 1082.5V1140.7M1493 1087.1V1147.5M1523.9 1054.6V1165.2M1554.7 1068.1V1126.3M1585.6 1073.6V1126.9M1616.4 1068.1V1191.3M1647.2 1080.3V1148.4M1678.1 1095.3V1193.4M1708.9 1093.8V1212.8M1739.8 1097.2V1191.9M1770.6 1088V1159.1M1801.4 1083.1V1191.3M1832.3 1077.9V1145M1863.1 1067.8V1136.4M1894 1086.5V1151.1M1924.8 1084.3V1161.3" stroke="#2e2e2e" stroke-width="1.4" fill="none"/>
<path d="M71.9 1099.6h5V1128.1h-5zM102.7 1107.9h5V1128.1h-5zM133.6 1102.1h5V1121.1h-5zM164.4 1096.9h5V1128.5h-5zM195.3 1116.8h5V1154.5h-5zM226.1 1113.1h5V1157.9h-5zM256.9 1167.7h5V1195h-5zM287.8 1126.9h5V1165.5h-5zM318.6 1145.9h5V1185.8h-5zM349.5 1115h5V1160.6h-5zM380.3 1161.9h5V1213.7h-5zM411.1 1121.4h5V1161.9h-5zM442 1114.7h5V1138.9h-5zM472.8 1101.5h5V1131.8h-5zM503.7 1112.8h5V1139.2h-5zM534.5 1115.9h5V1151.1h-5zM565.3 1093.8h5V1119.3h-5zM596.2 1112.5h5V1142.3h-5zM627 1105.5h5V1123.9h-5zM657.9 1111.6h5V1134.6h-5zM688.7 1115.9h5V1149.9h-5zM719.5 1124.8h5V1183.9h-5zM750.4 1110.7h5V1147.2h-5zM781.2 1145.3h5V1195.9h-5zM812.1 1159.1h5V1199.9h-5zM842.9 1096.9h5V1128.8h-5zM873.7 1154.2h5V1214.6h-5zM904.6 1126.9h5V1140.7h-5zM935.4 1113.7h5V1145.3h-5zM966.3 1104.8h5V1140.1h-5zM997.1 1101.5h5V1123.9h-5zM1027.9 1116.2h5V1155.1h-5zM1058.8 1102.4h5V1128.5h-5zM1089.6 1093.2h5V1109.1h-5zM1120.5 1104.5h5V1121.7h-5zM1151.3 1093.5h5V1115.6h-5zM1182.1 1093.5h5V1115h-5zM1213 1102.4h5V1126.9h-5zM1243.8 1100.6h5V1118.6h-5zM1274.7 1107.3h5V1167.1h-5zM1305.5 1111.9h5V1133.1h-5zM1336.3 1106.4h5V1132.4h-5zM1367.2 1126h5V1171.1h-5zM1398 1107.9h5V1154.5h-5zM1428.9 1119h5V1145.3h-5zM1459.7 1099.3h5V1117.1h-5zM1490.5 1099.6h5V1122.3h-5zM1521.4 1100.3h5V1134.6h-5zM1552.2 1090.1h5V1109.1h-5zM1583.1 1093.2h5V1109.8h-5zM1613.9 1111h5V1152.4h-5zM1644.7 1109.4h5V1131.5h-5zM1675.6 1099.9h5V1151.8h-5zM1706.4 1116.2h5V1155.1h-5zM1737.3 1108.2h5V1143.2h-5zM1768.1 1108.2h5V1135.8h-5zM1798.9 1106.4h5V1145.6h-5zM1829.8 1101.8h5V1122.3h-5zM1860.6 1098.1h5V1120.2h-5zM1891.5 1110.7h5V1142.6h-5zM1922.3 1104.5h5V1128.1h-5z" stroke="#2e2e2e" stroke-width="1.4" fill="#dec887"/>
<path d="M71.9 1110.4h5M102.7 1115.3h5M133.6 1111.3h5M164.4 1114h5M195.3 1137h5M226.1 1127.8h5M256.9 1186.7h5M287.8 1144.1h5M318.6 1173.2h5M349.5 1135.2h5M380.3 1191.6h5M411.1 1143.2h5M442 1122.9h5M472.8 1114h5M503.7 1122h5M534.5 1127.5h5M565.3 1112.2h5M596.2 1126.3h5M627 1113.7h5M657.9 1121.4h5M688.7 1131.5h5M719.5 1152.7h5M750.4 1133.1h5M781.2 1165.2h5M812.1 1168h5M842.9 1109.1h5M873.7 1186.1h5M904.6 1136.1h5M935.4 1122.6h5M966.3 1116.5h5M997.1 1107.6h5M1027.9 1134.6h5M1058.8 1111.6h5M1089.6 1100.9h5M1120.5 1111.3h5M1151.3 1104.2h5M1182.1 1103.9h5M1213 1114.7h5M1243.8 1103.9h5M1274.7 1135.2h5M1305.5 1123.5h5M1336.3 1114h5M1367.2 1139.5h5M1398 1128.1h5M1428.9 1132.7h5M1459.7 1107.6h5M1490.5 1107.6h5M1521.4 1112.8h5M1552.2 1102.1h5M1583.1 1104.8h5M1613.9 1127.5h5M1644.7 1123.2h5M1675.6 1127.8h5M1706.4 1134.9h5M1737.3 1118.3h5M1768.1 1119.9h5M1798.9 1123.5h5M1829.8 1109.1h5M1860.6 1107.6h5M1891.5 1123.5h5M1922.3 1115.3h5" stroke="#2e2e2e" stroke-width="3.0" fill="none"/>
<path d="M80.2 888.4V1092.3M111 908.7V1159.7M141.9 897.6V1183M172.7 890.9V1155.4M203.6 907.4V1121.7M234.4 894.5V1203.6M265.2 1018.4V1158.2M296.1 946.7V1187.3M326.9 930.7V1161.6M357.8 892.1V1196.5M388.6 987.1V1170.8M419.4 887.8V1147.5M450.3 954.3V1133.1M481.1 893.9V1153.6M512 913.6V1153M542.8 903.7V1183.6M573.6 890V1107M604.5 900.7V1178.4M635.3 898.5V1180M666.2 904.4V1189.8M697 895.8V1184.6M727.8 891.5V1165.9M758.7 926.7V1114.7M789.5 921.5V1178.4M820.4 984.4V1159.1M851.2 896.4V1145.3M882 1058.3V1199.6M912.9 1026.4V1160.6M943.7 911.4V1133.7M974.6 895.5V1169.8M1005.4 891.5V1191.6M1036.2 890.3V1169.2M1067.1 898.2V1139.2M1097.9 888.7V1135.2M1128.8 927V1197.4M1159.6 890.9V1122M1190.4 896.1V1039.2M1221.3 886.3V1168.9M1252.1 887.8V1115.3M1283 889.6V1186.1M1313.8 894.5V1157.6M1344.6 900.7V1167.4M1375.5 919.7V1179M1406.3 899.8V1162.8M1437.2 904.7V1153.3M1468 891.5V1154.5M1498.8 938.4V1202M1529.7 887.2V1183.6M1560.5 893.3V1089.2M1591.4 896.1V1084M1622.2 910.8V1145.9M1653 896.4V1161.3M1683.9 909.3V1119.3M1714.7 884.7V1171.4M1745.6 942.7V1149.9M1776.4 961.7V1140.1M1807.2 913.2V1172.9M1838.1 897.3V1111.3M1868.9 885.4V1075.7M1899.8 885.7V1180.6M1930.6 890.6V1137.7" stroke="#2e2e2e" stroke-width="1.4" fill="none"/>
<path d="M77.7 911.4h5V985.9h-5zM108.5 985.6h5V1082.2h-5zM139.4 960.8h5V1061.9h-5zM170.2 956.8h5V1067.4h-5zM201.1 980.7h5V1040.2h-5zM231.9 931.6h5V1061.6h-5zM262.7 1069.6h5V1151.8h-5zM293.6 1013.8h5V1084.9h-5zM324.4 1022.4h5V1118.6h-5zM355.3 955.2h5V1068.7h-5zM386.1 1073.3h5V1149.9h-5zM416.9 947.3h5V1076.6h-5zM447.8 985.6h5V1077.9h-5zM478.6 966h5V1074.2h-5zM509.5 987.7h5V1089.2h-5zM540.3 987.1h5V1103.3h-5zM571.1 912.6h5V1022.7h-5zM602 1011.3h5V1112.5h-5zM632.8 996.9h5V1103.9h-5zM663.7 1034.6h5V1138.3h-5zM694.5 994.2h5V1081.2h-5zM725.3 970.6h5V1093.5h-5zM756.2 998.8h5V1093.2h-5zM787 1033.4h5V1140.1h-5zM817.9 1054.3h5V1126h-5zM848.7 995.4h5V1094.7h-5zM879.5 1095.7h5V1149h-5zM910.4 1066.2h5V1133.4h-5zM941.2 953.7h5V1069h-5zM972.1 960.8h5V1073.9h-5zM1002.9 1018.1h5V1115.9h-5zM1033.7 1017.8h5V1111h-5zM1064.6 955.6h5V1035h-5zM1095.4 923.1h5V1018.4h-5zM1126.3 1044.8h5V1142.6h-5zM1157.1 936.5h5V1033.7h-5zM1187.9 928.3h5V982.5h-5zM1218.8 952.5h5V1054h-5zM1249.6 907.4h5V1058.3h-5zM1280.5 1011.7h5V1093.2h-5zM1311.3 966.9h5V1046.9h-5zM1342.1 1017.8h5V1107.9h-5zM1373 1043.5h5V1136.4h-5zM1403.8 1026.1h5V1132.7h-5zM1434.7 971.5h5V1090.4h-5zM1465.5 968.4h5V1081.9h-5zM1496.3 1046.6h5V1140.7h-5zM1527.2 1032.2h5V1140.1h-5zM1558 915.1h5V996.9h-5zM1588.9 945.1h5V1027.3h-5zM1619.7 952.8h5V1061h-5zM1650.5 921.2h5V1045.4h-5zM1681.4 955.2h5V1041.1h-5zM1712.2 976.4h5V1080.9h-5zM1743.1 1007.4h5V1079.1h-5zM1773.9 1009.2h5V1102.1h-5zM1804.7 994.8h5V1085.2h-5zM1835.6 931.3h5V1012h-5zM1866.4 901.3h5V973.6h-5zM1897.3 1004.3h5V1120.8h-5zM1928.1 921.8h5V1038h-5z" stroke="#2e2e2e" stroke-width="1.4" fill="#8dd3c7"/>
<path d="M77.7 943.9h5M108.5 1031.3h5M139.4 1003.7h5M170.2 1022.4h5M201.1 1006.4h5M231.9 999.1h5M262.7 1127.2h5M293.6 1043.2h5M324.4 1085.8h5M355.3 1003.4h5M386.1 1121.7h5M416.9 1009.5h5M447.8 1039.9h5M478.6 1044.5h5M509.5 1042.3h5M540.3 1050.6h5M571.1 934.1h5M602 1075.4h5M632.8 1044.2h5M663.7 1090.1h5M694.5 1043.2h5M725.3 1051.5h5M756.2 1033.1h5M787 1090.7h5M817.9 1071.1h5M848.7 1070.5h5M879.5 1127.2h5M910.4 1109.1h5M941.2 987.4h5M972.1 1017.2h5M1002.9 1059.2h5M1033.7 1073.9h5M1064.6 999.1h5M1095.4 970h5M1126.3 1107.3h5M1157.1 994.2h5M1187.9 948.8h5M1218.8 1011.3h5M1249.6 964.4h5M1280.5 1036.5h5M1311.3 1015h5M1342.1 1064.1h5M1373 1115.9h5M1403.8 1092.6h5M1434.7 1030h5M1465.5 1042h5M1496.3 1094.4h5M1527.2 1071.1h5M1558 953.7h5M1588.9 995.1h5M1619.7 990.8h5M1650.5 975.2h5M1681.4 979.8h5M1712.2 1049.7h5M1743.1 1037.4h5M1773.9 1054.9h5M1804.7 1043.8h5M1835.6 972.7h5M1866.4 928.3h5M1897.3 1058.6h5M1928.1 977.3h5" stroke="#2e2e2e" stroke-width="3.0" fill="none"/>
<path d="M86 796.1V1209.7M116.8 945.7V1215.8M147.7 894.5V1221.6M178.5 846.1V1216.7M209.4 908V1225.9M240.2 840.9V1241.9M271 1128.5V1209.7M301.9 1052.7V1231.8M332.7 994.5V1233M363.6 959.2V1209.7M394.4 1009.5V1248.3M425.2 979.2V1224.4M456.1 864.5V1235.4M486.9 946.1V1231.2M517.8 784.8V1233M548.6 1050.3V1237.9M579.4 776.5V1178.1M610.3 915.1V1210.9M641.1 838.1V1221.3M672 995.1V1199.3M702.8 930.1V1216.1M733.6 998.2V1236.1M764.5 807.8V1196.2M795.3 1084.6V1247.7M826.2 1024.2V1236.4M857 911.7V1180.3M887.8 1029.1V1230.5M918.7 1065.6V1203.9M949.5 822.8V1182.4M980.4 883.5V1221.3M1011.2 778.1V1215.2M1042 999.1V1229.6M1072.9 808.1V1213.1M1103.7 761.5V1187.6M1134.6 778.7V1230.2M1165.4 783.3V1194.4M1196.2 825.6V1198M1227.1 904.7V1219.8M1257.9 787.3V1199M1288.8 971.2V1215.8M1319.6 916.6V1230.5M1350.4 962.9V1220.4M1381.3 1121.7V1237.3M1412.1 920.3V1231.2M1443 1021.5V1218.9M1473.8 831.4V1198.7M1504.6 887.2V1229M1535.5 992.3V1233M1566.3 818.8V1181.5M1597.2 851.6V1170.5M1628 861.4V1222M1658.8 951.9V1225M1689.7 900.1V1033.4M1720.5 995.7V1240.3M1751.4 894.9V1214.9M1782.2 934.4V1186.1M1813 941.5V1206.6M1843.9 795.2V1147.2M1874.7 770.7V1203.9M1905.6 780.8V1221.6M1936.4 976.7V1232.1" stroke="#2e2e2e" stroke-width="1.4" fill="none"/>
<path d="M83.5 995.1h5V1151.1h-5zM114.3 1083.1h5V1175.1h-5zM145.2 1030.7h5V1160h-5zM176 1030h5V1164.6h-5zM206.9 1058.6h5V1175.7h-5zM237.7 1040.2h5V1195.3h-5zM268.5 1142.6h5V1208.5h-5zM299.4 1115.6h5V1188.8h-5zM330.2 1109.8h5V1190.4h-5zM361.1 1076.6h5V1185.2h-5zM391.9 1132.1h5V1226.9h-5zM422.7 1046.3h5V1172.6h-5zM453.6 971.5h5V1189.8h-5zM484.4 1079.1h5V1181.8h-5zM515.3 978.2h5V1194.7h-5zM546.1 1137h5V1213.7h-5zM576.9 894.2h5V1092.3h-5zM607.8 1044.8h5V1148.4h-5zM638.6 1027.6h5V1158.2h-5zM669.5 1068.1h5V1157.6h-5zM700.3 1078.2h5V1177.8h-5zM731.1 1122.9h5V1209.7h-5zM762 961.7h5V1161.6h-5zM792.8 1152.7h5V1213.1h-5zM823.7 1114h5V1209.4h-5zM854.5 1041.4h5V1143.2h-5zM885.3 1118.6h5V1213.1h-5zM916.2 1109.1h5V1167.1h-5zM947 965.1h5V1153h-5zM977.9 1037.4h5V1183h-5zM1008.7 994.2h5V1154.8h-5zM1039.5 1110.7h5V1185.5h-5zM1070.4 1014.1h5V1151.8h-5zM1101.2 976.7h5V1127.8h-5zM1132.1 1023.3h5V1187.3h-5zM1162.9 987.1h5V1125.1h-5zM1193.7 973h5V1105.5h-5zM1224.6 1049.7h5V1152.4h-5zM1255.4 883.2h5V1112.2h-5zM1286.3 1094.1h5V1191.3h-5zM1317.1 1063.8h5V1183h-5zM1347.9 1089.5h5V1186.1h-5zM1378.8 1151.8h5V1221.6h-5zM1409.6 1088.6h5V1204.2h-5zM1440.5 1079.1h5V1179.7h-5zM1471.3 983.1h5V1105.2h-5zM1502.1 1056.7h5V1174.1h-5zM1533 1103.3h5V1191.9h-5zM1563.8 979.8h5V1103h-5zM1594.7 989.6h5V1099.3h-5zM1625.5 1023.9h5V1134.6h-5zM1656.3 1059.8h5V1158.8h-5zM1687.2 940.8h5V1032.5h-5zM1718 1115.6h5V1198h-5zM1748.9 1036.2h5V1145.6h-5zM1779.7 1042h5V1136.1h-5zM1810.5 1032.8h5V1115.9h-5zM1841.4 953.4h5V1080h-5zM1872.2 948.2h5V1119h-5zM1903.1 979.8h5V1162.5h-5zM1933.9 1072.7h5V1172.3h-5z" stroke="#2e2e2e" stroke-width="1.4" fill="#66f59b"/>
<path d="M83.5 1072h5M114.3 1134h5M145.2 1104.2h5M176 1099.6h5M206.9 1122h5M237.7 1141.9h5M268.5 1185.5h5M299.4 1167.1h5M330.2 1166.5h5M361.1 1146.8h5M391.9 1182.7h5M422.7 1126.3h5M453.6 1062.9h5M484.4 1150.5h5M515.3 1143.8h5M546.1 1189.2h5M576.9 1026.4h5M607.8 1094.1h5M638.6 1108.5h5M669.5 1117.4h5M700.3 1124.2h5M731.1 1191.3h5M762 1097.2h5M792.8 1183.6h5M823.7 1166.5h5M854.5 1112.8h5M885.3 1184.9h5M916.2 1139.8h5M947 1058.6h5M977.9 1140.4h5M1008.7 1096.6h5M1039.5 1161.3h5M1070.4 1112.2h5M1101.2 1073.6h5M1132.1 1142.9h5M1162.9 1086.5h5M1193.7 1029.1h5M1224.6 1111h5M1255.4 968.4h5M1286.3 1165.9h5M1317.1 1141.3h5M1347.9 1140.7h5M1378.8 1185.8h5M1409.6 1178.4h5M1440.5 1114h5M1471.3 1067.4h5M1502.1 1137h5M1533 1144.4h5M1563.8 1032.2h5M1594.7 1065.9h5M1625.5 1097.8h5M1656.3 1122.9h5M1687.2 990.8h5M1718 1164.3h5M1748.9 1090.7h5M1779.7 1087.4h5M1810.5 1084h5M1841.4 1042.9h5M1872.2 1057h5M1903.1 1104.2h5M1933.9 1131.5h5" stroke="#2e2e2e" stroke-width="3.0" fill="none"/>
<path d="M59.2 711V1299.4H1944.5" stroke="#111" stroke-width="1.7" fill="none"/>
<path d="M55 779h4.2M55 943.6h4.2M55 1108.5h4.2M55 1272.8h4.2" stroke="#2e2e2e" stroke-width="1.5"/>
<text x="51" y="788.1" font-size="25.5" text-anchor="end" fill="#4d4d4d">6</text>
<text x="51" y="952.7" font-size="25.5" text-anchor="end" fill="#4d4d4d">4</text>
<text x="51" y="1117.6" font-size="25.5" text-anchor="end" fill="#4d4d4d">2</text>
<text x="51" y="1281.9" font-size="25.5" text-anchor="end" fill="#4d4d4d">0</text>
<path d="M77.4 1299.4v4.6M108.2 1299.4v4.6M139.1 1299.4v4.6M169.9 1299.4v4.6M200.8 1299.4v4.6M231.6 1299.4v4.6M262.4 1299.4v4.6M293.3 1299.4v4.6M324.1 1299.4v4.6M355 1299.4v4.6M385.8 1299.4v4.6M416.6 1299.4v4.6M447.5 1299.4v4.6M478.3 1299.4v4.6M509.2 1299.4v4.6M540 1299.4v4.6M570.8 1299.4v4.6M601.7 1299.4v4.6M632.5 1299.4v4.6M663.4 1299.4v4.6M694.2 1299.4v4.6M725 1299.4v4.6M755.9 1299.4v4.6M786.7 1299.4v4.6M817.6 1299.4v4.6M848.4 1299.4v4.6M879.2 1299.4v4.6M910.1 1299.4v4.6M940.9 1299.4v4.6M971.8 1299.4v4.6M1002.6 1299.4v4.6M1033.4 1299.4v4.6M1064.3 1299.4v4.6M1095.1 1299.4v4.6M1126 1299.4v4.6M1156.8 1299.4v4.6M1187.6 1299.4v4.6M1218.5 1299.4v4.6M1249.3 1299.4v4.6M1280.2 1299.4v4.6M1311 1299.4v4.6M1341.8 1299.4v4.6M1372.7 1299.4v4.6M1403.5 1299.4v4.6M1434.4 1299.4v4.6M1465.2 1299.4v4.6M1496 1299.4v4.6M1526.9 1299.4v4.6M1557.7 1299.4v4.6M1588.6 1299.4v4.6M1619.4 1299.4v4.6M1650.2 1299.4v4.6M1681.1 1299.4v4.6M1711.9 1299.4v4.6M1742.8 1299.4v4.6M1773.6 1299.4v4.6M1804.4 1299.4v4.6M1835.3 1299.4v4.6M1866.1 1299.4v4.6M1897 1299.4v4.6M1927.8 1299.4v4.6" stroke="#2e2e2e" stroke-width="1.5"/>
<text font-size="16.5" text-anchor="end" fill="#4d4d4d" transform="translate(83.3,1309.9) rotate(-90)">AAA</text>
<text font-size="16.5" text-anchor="end" fill="#4d4d4d" transform="translate(114.1,1309.9) rotate(-90)">AAC</text>
<text font-size="16.5" text-anchor="end" fill="#4d4d4d" transform="translate(145,1309.9) rotate(-90)">AAG</text>
<text font-size="16.5" text-anchor="end" fill="#4d4d4d" transform="translate(175.8,1309.9) rotate(-90)">AAU</text>
<text font-size="16.5" text-anchor="end" fill="#4d4d4d" transform="translate(206.7,1309.9) rotate(-90)">ACA</text>
<text font-size="16.5" text-anchor="end" fill="#4d4d4d" transform="translate(237.5,1309.9) rotate(-90)">ACC</text>
<text font-size="16.5" text-anchor="end" fill="#4d4d4d" transform="translate(268.3,1309.9) rotate(-90)">ACG</text>
<text font-size="16.5" text-anchor="end" fill="#4d4d4d" transform="translate(299.2,1309.9) rotate(-90)">ACU</text>
<text font-size="16.5" text-anchor="end" fill="#4d4d4d" transform="translate(330,1309.9) rotate(-90)">AGA</text>
<text font-size="16.5" text-anchor="end" fill="#4d4d4d" transform="translate(360.9,1309.9) rotate(-90)">AGC</text>
<text font-size="16.5" text-anchor="end" fill="#4d4d4d" transform="translate(391.7,1309.9) rotate(-90)">AGG</text>
<text font-size="16.5" text-anchor="end" fill="#4d4d4d" transform="translate(422.5,1309.9) rotate(-90)">AGU</text>
<text font-size="16.5" text-anchor="end" fill="#4d4d4d" transform="translate(453.4,1309.9) rotate(-90)">AUA</text>
<text font-size="16.5" text-anchor="end" fill="#4d4d4d" transform="translate(484.2,1309.9) rotate(-90)">AUC</text>
<text font-size="16.5" text-anchor="end" fill="#4d4d4d" transform="translate(515.1,1309.9) rotate(-90)">AUG</text>
<text font-size="16.5" text-anchor="end" fill="#4d4d4d" transform="translate(545.9,1309.9) rotate(-90)">AUU</text>
<text font-size="16.5" text-anchor="end" fill="#4d4d4d" transform="translate(576.7,1309.9) rotate(-90)">CAA</text>
<text font-size="16.5" text-anchor="end" fill="#4d4d4d" transform="translate(607.6,1309.9) rotate(-90)">CAC</text>
<text font-size="16.5" text-anchor="end" fill="#4d4d4d" transform="translate(638.4,1309.9) rotate(-90)">CAG</text>
<text font-size="16.5" text-anchor="end" fill="#4d4d4d" transform="translate(669.3,1309.9) rotate(-90)">CAU</text>
<text font-size="16.5" text-anchor="end" fill="#4d4d4d" transform="translate(700.1,1309.9) rotate(-90)">CCA</text>
<text font-size="16.5" text-anchor="end" fill="#4d4d4d" transform="translate(730.9,1309.9) rotate(-90)">CCC</text>
<text font-size="16.5" text-anchor="end" fill="#4d4d4d" transform="translate(761.8,1309.9) rotate(-90)">CCG</text>
<text font-size="16.5" text-anchor="end" fill="#4d4d4d" transform="translate(792.6,1309.9) rotate(-90)">CCU</text>
<text font-size="16.5" text-anchor="end" fill="#4d4d4d" transform="translate(823.5,1309.9) rotate(-90)">CGA</text>
<text font-size="16.5" text-anchor="end" fill="#4d4d4d" transform="translate(854.3,1309.9) rotate(-90)">CGC</text>
<text font-size="16.5" text-anchor="end" fill="#4d4d4d" transform="translate(885.1,1309.9) rotate(-90)">CGG</text>
<text font-size="16.5" text-anchor="end" fill="#4d4d4d" transform="translate(916,1309.9) rotate(-90)">CGU</text>
<text font-size="16.5" text-anchor="end" fill="#4d4d4d" transform="translate(946.8,1309.9) rotate(-90)">CUA</text>
<text font-size="16.5" text-anchor="end" fill="#4d4d4d" transform="translate(977.7,1309.9) rotate(-90)">CUC</text>
<text font-size="16.5" text-anchor="end" fill="#4d4d4d" transform="translate(1008.5,1309.9) rotate(-90)">CUG</text>
<text font-size="16.5" text-anchor="end" fill="#4d4d4d" transform="translate(1039.3,1309.9) rotate(-90)">CUU</text>
<text font-size="16.5" text-anchor="end" fill="#4d4d4d" transform="translate(1070.2,1309.9) rotate(-90)">GAA</text>
<text font-size="16.5" text-anchor="end" fill="#4d4d4d" transform="translate(1101,1309.9) rotate(-90)">GAC</text>
<text font-size="16.5" text-anchor="end" fill="#4d4d4d" transform="translate(1131.9,1309.9) rotate(-90)">GAG</text>
<text font-size="16.5" text-anchor="end" fill="#4d4d4d" transform="translate(1162.7,1309.9) rotate(-90)">GAU</text>
<text font-size="16.5" text-anchor="end" fill="#4d4d4d" transform="translate(1193.5,1309.9) rotate(-90)">GCA</text>
<text font-size="16.5" text-anchor="end" fill="#4d4d4d" transform="translate(1224.4,1309.9) rotate(-90)">GCC</text>
<text font-size="16.5" text-anchor="end" fill="#4d4d4d" transform="translate(1255.2,1309.9) rotate(-90)">GCG</text>
<text font-size="16.5" text-anchor="end" fill="#4d4d4d" transform="translate(1286.1,1309.9) rotate(-90)">GCU</text>
<text font-size="16.5" text-anchor="end" fill="#4d4d4d" transform="translate(1316.9,1309.9) rotate(-90)">GGA</text>
<text font-size="16.5" text-anchor="end" fill="#4d4d4d" transform="translate(1347.7,1309.9) rotate(-90)">GGC</text>
<text font-size="16.5" text-anchor="end" fill="#4d4d4d" transform="translate(1378.6,1309.9) rotate(-90)">GGG</text>
<text font-size="16.5" text-anchor="end" fill="#4d4d4d" transform="translate(1409.4,1309.9) rotate(-90)">GGU</text>
<text font-size="16.5" text-anchor="end" fill="#4d4d4d" transform="translate(1440.3,1309.9) rotate(-90)">GUA</text>
<text font-size="16.5" text-anchor="end" fill="#4d4d4d" transform="translate(1471.1,1309.9) rotate(-90)">GUC</text>
<text font-size="16.5" text-anchor="end" fill="#4d4d4d" transform="translate(1501.9,1309.9) rotate(-90)">GUG</text>
<text font-size="16.5" text-anchor="end" fill="#4d4d4d" transform="translate(1532.8,1309.9) rotate(-90)">GUU</text>
<text font-size="16.5" text-anchor="end" fill="#4d4d4d" transform="translate(1563.6,1309.9) rotate(-90)">UAC</text>
<text font-size="16.5" text-anchor="end" fill="#4d4d4d" transform="translate(1594.5,1309.9) rotate(-90)">UAU</text>
<text font-size="16.5" text-anchor="end" fill="#4d4d4d" transform="translate(1625.3,1309.9) rotate(-90)">UCA</text>
<text font-size="16.5" text-anchor="end" fill="#4d4d4d" transform="translate(1656.1,1309.9) rotate(-90)">UCC</text>
<text font-size="16.5" text-anchor="end" fill="#4d4d4d" transform="translate(1687,1309.9) rotate(-90)">UCG</text>
<text font-size="16.5" text-anchor="end" fill="#4d4d4d" transform="translate(1717.8,1309.9) rotate(-90)">UCU</text>
<text font-size="16.5" text-anchor="end" fill="#4d4d4d" transform="translate(1748.7,1309.9) rotate(-90)">UGC</text>
<text font-size="16.5" text-anchor="end" fill="#4d4d4d" transform="translate(1779.5,1309.9) rotate(-90)">UGG</text>
<text font-size="16.5" text-anchor="end" fill="#4d4d4d" transform="translate(1810.3,1309.9) rotate(-90)">UGU</text>
<text font-size="16.5" text-anchor="end" fill="#4d4d4d" transform="translate(1841.2,1309.9) rotate(-90)">UUA</text>
<text font-size="16.5" text-anchor="end" fill="#4d4d4d" transform="translate(1872,1309.9) rotate(-90)">UUC</text>
<text font-size="16.5" text-anchor="end" fill="#4d4d4d" transform="translate(1902.9,1309.9) rotate(-90)">UUG</text>
<text font-size="16.5" text-anchor="end" fill="#4d4d4d" transform="translate(1933.7,1309.9) rotate(-90)">UUU</text>
<text font-size="21.5" text-anchor="middle" transform="translate(18,1009.2) rotate(-90)">Readthrough (%)</text>
<text x="1040" y="1372.2" font-size="21.5" text-anchor="middle">Three nucleotides upstream the UGA</text>
<text x="4" y="731.6" font-size="23.2" font-weight="bold" font-family="DejaVu Sans, sans-serif">b</text>
<text x="67" y="734.6" font-size="21.4">p&lt;2e^-16</text>
<text x="1604.5" y="751" font-size="20.5" text-anchor="middle">Treatment</text>
<path d="M1417.2 766.9V786.1" stroke="#2e2e2e" stroke-width="1.4"/>
<rect x="1407.7" y="769.9" width="19" height="13.2" fill="#d9d9d9" stroke="#2e2e2e" stroke-width="1.4"/>
<path d="M1407.7 776.5h19" stroke="#2e2e2e" stroke-width="1.47"/>
<text x="1440.5" y="782.6" font-size="17">G418</text>
<path d="M1504.2 766.9V786.1" stroke="#2e2e2e" stroke-width="1.4"/>
<rect x="1494.7" y="769.9" width="19" height="13.2" fill="#dec887" stroke="#2e2e2e" stroke-width="1.4"/>
<path d="M1494.7 776.5h19" stroke="#2e2e2e" stroke-width="1.47"/>
<text x="1527.7" y="782.6" font-size="17">Clitocine</text>
<path d="M1615.1 766.9V786.1" stroke="#2e2e2e" stroke-width="1.4"/>
<rect x="1605.6" y="769.9" width="19" height="13.2" fill="#8dd3c7" stroke="#2e2e2e" stroke-width="1.4"/>
<path d="M1605.6 776.5h19" stroke="#2e2e2e" stroke-width="1.47"/>
<text x="1638" y="782.6" font-size="17">DAP</text>
<path d="M1695.2 766.9V786.1" stroke="#2e2e2e" stroke-width="1.4"/>
<rect x="1685.7" y="769.9" width="19" height="13.2" fill="#66f59b" stroke="#2e2e2e" stroke-width="1.4"/>
<path d="M1685.7 776.5h19" stroke="#2e2e2e" stroke-width="1.47"/>
<text x="1717.8" y="782.6" font-size="17">SJ6986</text>
<path d="M84.1 1754.5V1777.7M173.4 1751.1V1778.5M262.7 1748.1V1778.5" stroke="#2e2e2e" stroke-width="1.15" fill="none"/>
<path d="M76.7 1763.5h14.8V1770.4h-14.8zM166 1761.4h14.8V1769.1h-14.8zM255.3 1760.5h14.8V1770h-14.8z" stroke="#2e2e2e" stroke-width="1.15" fill="#f1a340"/>
<path d="M76.7 1767h14.8M166 1765.2h14.8M255.3 1765.7h14.8" stroke="#2e2e2e" stroke-width="2.2" fill="none"/>
<path d="M101.2 1774.2V1781.1M190.5 1773.4V1781.1M279.8 1763.5V1780.7" stroke="#2e2e2e" stroke-width="1.15" fill="none"/>
<path d="M93.8 1776.8h14.8V1779.8h-14.8zM183.1 1776.4h14.8V1779.8h-14.8zM272.4 1771.7h14.8V1778.5h-14.8z" stroke="#2e2e2e" stroke-width="1.15" fill="#4a3af0"/>
<path d="M93.8 1778.5h14.8M183.1 1778.1h14.8M272.4 1776.8h14.8" stroke="#2e2e2e" stroke-width="2.2" fill="none"/>
<path d="M117.6 1748.5V1780.7M206.9 1737.8V1781.1M296.2 1704.3V1780.3" stroke="#2e2e2e" stroke-width="1.15" fill="none"/>
<path d="M110.2 1764.4h14.8V1775.5h-14.8zM199.5 1758.8h14.8V1773.8h-14.8zM288.8 1740.8h14.8V1765.7h-14.8z" stroke="#2e2e2e" stroke-width="1.15" fill="#fadce0"/>
<path d="M110.2 1770.4h14.8M199.5 1767.4h14.8M288.8 1756.2h14.8" stroke="#2e2e2e" stroke-width="2.2" fill="none"/>
<path d="M134.7 1603.4V1777.7M224 1535.6V1778.5M313.3 1470.4V1770" stroke="#2e2e2e" stroke-width="1.15" fill="none"/>
<path d="M127.3 1689.7h14.8V1747.6h-14.8zM216.6 1656.7h14.8V1739.5h-14.8zM305.9 1594.4h14.8V1701.7h-14.8z" stroke="#2e2e2e" stroke-width="1.15" fill="#66f59b"/>
<path d="M127.3 1724.5h14.8M216.6 1706.9h14.8M305.9 1656.2h14.8" stroke="#2e2e2e" stroke-width="2.2" fill="none"/>
<path d="M56.2 1454.5V1810.7H341" stroke="#222" stroke-width="1.25" fill="none"/>
<path d="M51.5 1469.5h4.7M51.5 1550.6h4.7M51.5 1631.8h4.7M51.5 1712.9h4.7M51.5 1794h4.7" stroke="#2e2e2e" stroke-width="1.1"/>
<text x="49.8" y="1475.9" font-size="18" text-anchor="end" fill="#4d4d4d">4</text>
<text x="49.8" y="1557" font-size="18" text-anchor="end" fill="#4d4d4d">3</text>
<text x="49.8" y="1638.2" font-size="18" text-anchor="end" fill="#4d4d4d">2</text>
<text x="49.8" y="1719.3" font-size="18" text-anchor="end" fill="#4d4d4d">1</text>
<text x="49.8" y="1800.4" font-size="18" text-anchor="end" fill="#4d4d4d">0</text>
<path d="M109.4 1810.7v4.5M198.7 1810.7v4.5M288 1810.7v4.5" stroke="#2e2e2e" stroke-width="1.1"/>
<text x="109.4" y="1829.4" font-size="18" text-anchor="middle" fill="#4d4d4d">UAA</text>
<text x="198.7" y="1829.4" font-size="18" text-anchor="middle" fill="#4d4d4d">UAG</text>
<text x="288" y="1829.4" font-size="18" text-anchor="middle" fill="#4d4d4d">UGA</text>
<text x="198.7" y="1852.5" font-size="22.3" text-anchor="middle">Stop type</text>
<text font-size="22.2" text-anchor="middle" transform="translate(31,1633) rotate(-90)">Readthrough (%)</text>
<text x="19" y="1444" font-size="23.2" font-weight="bold" font-family="DejaVu Sans, sans-serif">c</text>
<text x="76" y="1545" font-size="14.8">p&lt;2e^-16</text>
<path d="M83.9 1469.7V1483.7" stroke="#2e2e2e" stroke-width="1.15"/>
<rect x="76.2" y="1471.9" width="15.4" height="9.6" fill="#f1a340" stroke="#2e2e2e" stroke-width="1.15"/>
<path d="M76.2 1476.7h15.4" stroke="#2e2e2e" stroke-width="1.2075"/>
<text x="102.5" y="1481.4" font-size="13.3">FUr</text>
<path d="M142.2 1469.7V1483.7" stroke="#2e2e2e" stroke-width="1.15"/>
<rect x="134.5" y="1471.9" width="15.4" height="9.6" fill="#4a3af0" stroke="#2e2e2e" stroke-width="1.15"/>
<path d="M134.5 1476.7h15.4" stroke="#2e2e2e" stroke-width="1.2075"/>
<text x="160.5" y="1481.4" font-size="13.3">Gentamicin</text>
<path d="M83.9 1492.5V1506.5" stroke="#2e2e2e" stroke-width="1.15"/>
<rect x="76.2" y="1494.7" width="15.4" height="9.6" fill="#fadce0" stroke="#2e2e2e" stroke-width="1.15"/>
<path d="M76.2 1499.5h15.4" stroke="#2e2e2e" stroke-width="1.2075"/>
<text x="102.5" y="1504.2" font-size="13.3">CC90009</text>
<path d="M176.2 1492.5V1506.5" stroke="#2e2e2e" stroke-width="1.15"/>
<rect x="168.5" y="1494.7" width="15.4" height="9.6" fill="#66f59b" stroke="#2e2e2e" stroke-width="1.15"/>
<path d="M168.5 1499.5h15.4" stroke="#2e2e2e" stroke-width="1.2075"/>
<text x="194.2" y="1504.2" font-size="13.3">SJ6986</text>
<path d="M406.9 1766.1V1784.1M475.5 1699.6V1783.3M544.2 1770.4V1785M612.9 1770.4V1785" stroke="#2e2e2e" stroke-width="1.15" fill="none"/>
<path d="M401.3 1773.8h11.2V1779.4h-11.2zM469.9 1744.6h11.2V1775.1h-11.2zM538.6 1776h11.2V1780.3h-11.2zM607.3 1776h11.2V1780.3h-11.2z" stroke="#2e2e2e" stroke-width="1.15" fill="#f1a340"/>
<path d="M401.3 1776.4h11.2M469.9 1766.1h11.2M538.6 1778.1h11.2M607.3 1778.1h11.2" stroke="#2e2e2e" stroke-width="2.2" fill="none"/>
<path d="M419.8 1781.5V1787.1M488.4 1750.6V1786.3M557.1 1782V1787.1M625.8 1779V1786.3" stroke="#2e2e2e" stroke-width="1.15" fill="none"/>
<path d="M414.2 1783.3h11.2V1785.8h-11.2zM482.8 1767.8h11.2V1781.1h-11.2zM551.5 1783.7h11.2V1786.3h-11.2zM620.2 1781.1h11.2V1785h-11.2z" stroke="#2e2e2e" stroke-width="1.15" fill="#4a3af0"/>
<path d="M414.2 1785h11.2M482.8 1775.5h11.2M551.5 1785h11.2M620.2 1782.8h11.2" stroke="#2e2e2e" stroke-width="2.2" fill="none"/>
<path d="M432.6 1735.2V1786.3M501.2 1671.2V1782.8M569.9 1756.2V1786.7M638.6 1755.4V1785.4" stroke="#2e2e2e" stroke-width="1.15" fill="none"/>
<path d="M427 1757.1h11.2V1772.1h-11.2zM495.6 1723.6h11.2V1759.2h-11.2zM564.3 1770h11.2V1779h-11.2zM633 1770h11.2V1779.8h-11.2z" stroke="#2e2e2e" stroke-width="1.15" fill="#fadce0"/>
<path d="M427 1765.2h11.2M495.6 1742.9h11.2M564.3 1774.7h11.2M633 1775.1h11.2" stroke="#2e2e2e" stroke-width="2.2" fill="none"/>
<path d="M445.7 1479.4V1776.8M514.3 1467.8V1771.2M583 1612.4V1780.3M651.7 1624.9V1773.8" stroke="#2e2e2e" stroke-width="1.15" fill="none"/>
<path d="M440.1 1605.2h11.2V1693.1h-11.2zM508.7 1534.8h11.2V1653.2h-11.2zM577.4 1686.7h11.2V1737.8h-11.2zM646.1 1696.6h11.2V1745.1h-11.2z" stroke="#2e2e2e" stroke-width="1.15" fill="#66f59b"/>
<path d="M440.1 1651.5h11.2M508.7 1592.7h11.2M577.4 1715.5h11.2M646.1 1726.2h11.2" stroke="#2e2e2e" stroke-width="2.2" fill="none"/>
<path d="M385.8 1450V1814H673" stroke="#222" stroke-width="1.25" fill="none"/>
<path d="M381.1 1557h4.7M381.1 1677.3h4.7M381.1 1797.9h4.7" stroke="#2e2e2e" stroke-width="1.1"/>
<text x="379.4" y="1563.4" font-size="18" text-anchor="end" fill="#4d4d4d">4</text>
<text x="379.4" y="1683.7" font-size="18" text-anchor="end" fill="#4d4d4d">2</text>
<text x="379.4" y="1804.3" font-size="18" text-anchor="end" fill="#4d4d4d">0</text>
<path d="M426.2 1814v4.5M494.8 1814v4.5M563.5 1814v4.5M632.2 1814v4.5" stroke="#2e2e2e" stroke-width="1.1"/>
<text x="426.2" y="1833.4" font-size="18" text-anchor="middle" fill="#4d4d4d">A</text>
<text x="494.8" y="1833.4" font-size="18" text-anchor="middle" fill="#4d4d4d">C</text>
<text x="563.5" y="1833.4" font-size="18" text-anchor="middle" fill="#4d4d4d">G</text>
<text x="632.2" y="1833.4" font-size="18" text-anchor="middle" fill="#4d4d4d">U</text>
<text x="529.4" y="1856.5" font-size="22.4" text-anchor="middle">+1nt downstream the UGA</text>
<text font-size="22.2" text-anchor="middle" transform="translate(360.5,1633.5) rotate(-90)">Readthrough (%)</text>
<text x="353" y="1441" font-size="23.2" font-weight="bold" font-family="DejaVu Sans, sans-serif">d</text>
<text x="398" y="1467.5" font-size="14.8">p&lt;2e^-16</text>
<path d="M726.5 1773.8V1792M750.5 1707.4V1788.1M774.7 1778.1V1792.3M798.7 1767.3V1791.2M849.9 1769.6V1792M873.9 1702.4V1787.8M897.9 1761.5V1792.8M921.8 1763.8V1792M973 1721.6V1795.5M997 1643.3V1784.9M1021.2 1733.5V1795.5M1045.2 1663.1V1789.7" stroke="#2e2e2e" stroke-width="1.15" fill="none"/>
<path d="M724 1781.8h5V1787.6h-5zM748 1748.8h5V1778.3h-5zM772.2 1783.9h5V1788.1h-5zM796.2 1776.7h5V1784.4h-5zM847.4 1780.7h5V1788.1h-5zM871.4 1745.1h5V1774.1h-5zM895.4 1776.2h5V1786.5h-5zM919.3 1777.8h5V1787.8h-5zM970.5 1757.8h5V1782.3h-5zM994.5 1677.4h5V1734.6h-5zM1018.7 1763.6h5V1784.4h-5zM1042.7 1721.6h5V1768.8h-5z" stroke="#2e2e2e" stroke-width="1.15" fill="#d9d9d9"/>
<path d="M724 1785.2h5M748 1767h5M772.2 1786h5M796.2 1781h5M847.4 1784.9h5M871.4 1764.1h5M895.4 1783.1h5M919.3 1784.4h5M970.5 1773.1h5M994.5 1705.6h5M1018.7 1776h5M1042.7 1746.7h5" stroke="#2e2e2e" stroke-width="2.2" fill="none"/>
<path d="M732.5 1723.5V1795.5M756.5 1670.8V1794.1M780.7 1727.7V1794.7M804.7 1698.7V1795.5M855.9 1753.3V1794.7M879.9 1744.8V1795.5M903.9 1752.5V1795.5M927.8 1753.8V1794.7M979 1585.6V1756.4M1003 1581.1V1729.6M1027.2 1585.3V1766.5M1051.2 1585.9V1753.3" stroke="#2e2e2e" stroke-width="1.15" fill="none"/>
<path d="M730 1753.8h5V1774.9h-5zM754 1727.7h5V1767.3h-5zM778.2 1754.6h5V1773.3h-5zM802.2 1739.6h5V1768.6h-5zM853.4 1770.4h5V1782h-5zM877.4 1766.5h5V1780.7h-5zM901.4 1769.6h5V1780.7h-5zM925.3 1769.6h5V1781.2h-5zM976.5 1615.9h5V1680h-5zM1000.5 1600.4h5V1653.4h-5zM1024.7 1663.6h5V1718h-5zM1048.7 1647.6h5V1710.3h-5z" stroke="#2e2e2e" stroke-width="1.15" fill="#8dd3c7"/>
<path d="M730 1766.2h5M754 1752h5M778.2 1764.6h5M802.2 1757.8h5M853.4 1776.7h5M877.4 1774.9h5M901.4 1776.2h5M925.3 1774.6h5M976.5 1647.6h5M1000.5 1621.7h5M1024.7 1690.8h5M1048.7 1681.3h5" stroke="#2e2e2e" stroke-width="2.2" fill="none"/>
<path d="M738.5 1653.9V1791.5M762.5 1590.9V1787M786.7 1688.4V1792.3M810.7 1655.5V1789.4M861.9 1662.1V1792M885.9 1588V1786.8M909.9 1681.6V1792.8M933.8 1718.2V1794.1M985 1556.3V1790.7M1009 1512.8V1786.5M1033.2 1661.3V1792.8M1057.2 1671V1788.3" stroke="#2e2e2e" stroke-width="1.15" fill="none"/>
<path d="M736 1716.6h5V1759.1h-5zM760 1687.6h5V1753.5h-5zM784.2 1739.3h5V1774.4h-5zM808.2 1724h5V1770.4h-5zM859.4 1726.9h5V1770.7h-5zM883.4 1685.5h5V1753.8h-5zM907.4 1735.9h5V1773.1h-5zM931.3 1756.2h5V1782h-5zM982.5 1654.7h5V1724.8h-5zM1006.5 1585.1h5V1686.6h-5zM1030.7 1719.8h5V1759.9h-5zM1054.7 1727.4h5V1765.9h-5z" stroke="#2e2e2e" stroke-width="1.15" fill="#66f59b"/>
<path d="M736 1739.6h5M760 1725.1h5M784.2 1762.2h5M808.2 1757h5M859.4 1751.2h5M883.4 1725.6h5M907.4 1758.3h5M931.3 1773.3h5M982.5 1692.1h5M1006.5 1638.6h5M1030.7 1742.2h5M1054.7 1750.9h5" stroke="#2e2e2e" stroke-width="2.2" fill="none"/>
<path d="M718 1483V1810.2H819.5" stroke="#222" stroke-width="1.25" fill="none"/>
<path d="M713.5 1531h4.5M713.5 1599.8h4.5M713.5 1668.6h4.5M713.5 1737.5h4.5M713.5 1806.3h4.5" stroke="#2e2e2e" stroke-width="1.1"/>
<text x="711.8" y="1537.4" font-size="18" text-anchor="end" fill="#4d4d4d">4</text>
<text x="711.8" y="1606.2" font-size="18" text-anchor="end" fill="#4d4d4d">3</text>
<text x="711.8" y="1675" font-size="18" text-anchor="end" fill="#4d4d4d">2</text>
<text x="711.8" y="1743.9" font-size="18" text-anchor="end" fill="#4d4d4d">1</text>
<text x="711.8" y="1812.7" font-size="18" text-anchor="end" fill="#4d4d4d">0</text>
<path d="M732.5 1810.2v4.5M756.5 1810.2v4.5M780.7 1810.2v4.5M804.7 1810.2v4.5" stroke="#2e2e2e" stroke-width="1.1"/>
<text x="732.5" y="1829.7" font-size="18" text-anchor="middle" fill="#4d4d4d">A</text>
<text x="756.5" y="1829.7" font-size="18" text-anchor="middle" fill="#4d4d4d">C</text>
<text x="780.7" y="1829.7" font-size="18" text-anchor="middle" fill="#4d4d4d">G</text>
<text x="804.7" y="1829.7" font-size="18" text-anchor="middle" fill="#4d4d4d">U</text>
<path d="M841.4 1483V1810.2H942.3" stroke="#222" stroke-width="1.25" fill="none"/>
<path d="M836.9 1529.2h4.5M836.9 1619.9h4.5M836.9 1711.1h4.5M836.9 1802.6h4.5" stroke="#2e2e2e" stroke-width="1.1"/>
<text x="835.2" y="1535.6" font-size="18" text-anchor="end" fill="#4d4d4d">6</text>
<text x="835.2" y="1626.3" font-size="18" text-anchor="end" fill="#4d4d4d">4</text>
<text x="835.2" y="1717.5" font-size="18" text-anchor="end" fill="#4d4d4d">2</text>
<text x="835.2" y="1809" font-size="18" text-anchor="end" fill="#4d4d4d">0</text>
<path d="M855.9 1810.2v4.5M879.9 1810.2v4.5M903.9 1810.2v4.5M927.8 1810.2v4.5" stroke="#2e2e2e" stroke-width="1.1"/>
<text x="855.9" y="1829.7" font-size="18" text-anchor="middle" fill="#4d4d4d">A</text>
<text x="879.9" y="1829.7" font-size="18" text-anchor="middle" fill="#4d4d4d">C</text>
<text x="903.9" y="1829.7" font-size="18" text-anchor="middle" fill="#4d4d4d">G</text>
<text x="927.8" y="1829.7" font-size="18" text-anchor="middle" fill="#4d4d4d">U</text>
<path d="M964.5 1483V1810.2H1065.5" stroke="#222" stroke-width="1.25" fill="none"/>
<path d="M960 1522h4.5M960 1617.5h4.5M960 1712.4h4.5M960 1807.6h4.5" stroke="#2e2e2e" stroke-width="1.1"/>
<text x="958.3" y="1528.4" font-size="18" text-anchor="end" fill="#4d4d4d">6</text>
<text x="958.3" y="1623.9" font-size="18" text-anchor="end" fill="#4d4d4d">4</text>
<text x="958.3" y="1718.8" font-size="18" text-anchor="end" fill="#4d4d4d">2</text>
<text x="958.3" y="1814" font-size="18" text-anchor="end" fill="#4d4d4d">0</text>
<path d="M979 1810.2v4.5M1003 1810.2v4.5M1027.2 1810.2v4.5M1051.2 1810.2v4.5" stroke="#2e2e2e" stroke-width="1.1"/>
<text x="979" y="1829.7" font-size="18" text-anchor="middle" fill="#4d4d4d">A</text>
<text x="1003" y="1829.7" font-size="18" text-anchor="middle" fill="#4d4d4d">C</text>
<text x="1027.2" y="1829.7" font-size="18" text-anchor="middle" fill="#4d4d4d">G</text>
<text x="1051.2" y="1829.7" font-size="18" text-anchor="middle" fill="#4d4d4d">U</text>
<text x="767" y="1504.7" font-size="17" text-anchor="middle">UAA</text>
<text x="890.1" y="1504.7" font-size="17" text-anchor="middle">UAG</text>
<text x="1013.3" y="1504.7" font-size="17" text-anchor="middle">UGA</text>
<text x="892" y="1852.5" font-size="22" text-anchor="middle">Stoptype*down_1nt interaction</text>
<text font-size="22" text-anchor="middle" transform="translate(693.7,1646.3) rotate(-90)">Readthrough (%)</text>
<text x="680" y="1441" font-size="23.2" font-weight="bold" font-family="DejaVu Sans, sans-serif">e</text>
<path d="M773.4 1455.5V1471" stroke="#2e2e2e" stroke-width="1.15"/>
<rect x="765.3" y="1458" width="16.2" height="10.5" fill="#d9d9d9" stroke="#2e2e2e" stroke-width="1.15"/>
<path d="M765.3 1463.3h16.2" stroke="#2e2e2e" stroke-width="1.2075"/>
<text x="796" y="1468.5" font-size="14.5">G418</text>
<path d="M854.2 1455.5V1471" stroke="#2e2e2e" stroke-width="1.15"/>
<rect x="846.1" y="1458" width="16.2" height="10.5" fill="#8dd3c7" stroke="#2e2e2e" stroke-width="1.15"/>
<path d="M846.1 1463.3h16.2" stroke="#2e2e2e" stroke-width="1.2075"/>
<text x="877.5" y="1468.5" font-size="14.5">DAP</text>
<path d="M929.3 1455.5V1471" stroke="#2e2e2e" stroke-width="1.15"/>
<rect x="921.2" y="1458" width="16.2" height="10.5" fill="#66f59b" stroke="#2e2e2e" stroke-width="1.15"/>
<path d="M921.2 1463.3h16.2" stroke="#2e2e2e" stroke-width="1.2075"/>
<text x="952.6" y="1468.5" font-size="14.5">SJ6986</text>
<path d="M1142.1 1608.8V1773.6M1182.4 1638.2V1772.3M1222.6 1623.6V1775M1262.9 1693.2V1781.7M1303.2 1623.4V1770.1M1343.5 1669V1779.8M1383.7 1654.1V1776.9M1424 1695.9V1775.8M1464.3 1683.3V1778.2M1504.5 1634.7V1779M1544.8 1703.2V1778.2M1585.1 1638.5V1776.3M1625.3 1690.8V1779.6M1665.6 1680.3V1776.9M1705.9 1675.2V1780.1M1746.2 1613.4V1778.5M1786.4 1685.2V1781.2M1826.7 1693.8V1778.2M1867 1716.7V1776.3M1907.2 1678.1V1770.7" stroke="#2e2e2e" stroke-width="1.15" fill="none"/>
<path d="M1138.9 1693.5h6.4V1751.2h-6.4zM1179.2 1704h6.4V1758h-6.4zM1219.4 1701.1h6.4V1755.3h-6.4zM1259.7 1737.2h6.4V1771.7h-6.4zM1300 1692.7h6.4V1744.5h-6.4zM1340.2 1728.6h6.4V1769.9h-6.4zM1380.5 1703.8h6.4V1759.3h-6.4zM1420.8 1738.8h6.4V1768h-6.4zM1461.1 1732.4h6.4V1766.9h-6.4zM1501.3 1707h6.4V1756.6h-6.4zM1541.6 1741h6.4V1772.3h-6.4zM1581.9 1708.4h6.4V1759.9h-6.4zM1622.1 1738.6h6.4V1771.2h-6.4zM1662.4 1731.3h6.4V1768h-6.4zM1702.7 1732.4h6.4V1770.4h-6.4zM1743 1692.2h6.4V1752.6h-6.4zM1783.2 1735.3h6.4V1770.1h-6.4zM1823.5 1736.7h6.4V1766.6h-6.4zM1863.8 1745h6.4V1765.5h-6.4zM1904 1724.5h6.4V1757.4h-6.4z" stroke="#2e2e2e" stroke-width="1.15" fill="#d9d9d9"/>
<path d="M1138.9 1734h6.4M1179.2 1745.8h6.4M1219.4 1736.4h6.4M1259.7 1759.3h6.4M1300 1727.8h6.4M1340.2 1757.4h6.4M1380.5 1730.5h6.4M1420.8 1758h6.4M1461.1 1756.9h6.4M1501.3 1736.7h6.4M1541.6 1762h6.4M1581.9 1741h6.4M1622.1 1762.8h6.4M1662.4 1759.3h6.4M1702.7 1760.7h6.4M1743 1733.7h6.4M1783.2 1761h6.4M1823.5 1756.6h6.4M1863.8 1756.1h6.4M1904 1744h6.4" stroke="#2e2e2e" stroke-width="2.2" fill="none"/>
<path d="M1149.6 1650.1V1732.6M1189.9 1671.1V1741.8M1230.1 1659.8V1706.7M1270.4 1660.6V1720M1310.7 1669.8V1717.3M1351 1669V1737.2M1391.2 1671.9V1728.3M1431.5 1660.9V1737.2M1471.8 1663.8V1717.8M1512 1650.1V1742.6M1552.3 1677.9V1729.1M1592.6 1660.3V1717M1632.8 1664.9V1774.2M1673.1 1665.5V1718.3M1713.4 1669.2V1771.7M1753.7 1660.9V1760.1M1793.9 1665.7V1770.4M1834.2 1658.4V1727.8M1874.5 1674.1V1720M1914.7 1658.4V1704.3" stroke="#2e2e2e" stroke-width="1.15" fill="none"/>
<path d="M1146.4 1681.9h6.4V1703.5h-6.4zM1186.7 1686h6.4V1711.9h-6.4zM1226.9 1677.1h6.4V1689.7h-6.4zM1267.2 1683.3h6.4V1698.6h-6.4zM1307.5 1682.5h6.4V1697.3h-6.4zM1347.8 1687h6.4V1707.8h-6.4zM1388 1688.9h6.4V1706.2h-6.4zM1428.3 1687h6.4V1709.2h-6.4zM1468.6 1682.5h6.4V1697h-6.4zM1508.8 1684.6h6.4V1709.7h-6.4zM1549.1 1690.3h6.4V1707h-6.4zM1589.4 1683.5h6.4V1700.3h-6.4zM1629.6 1697.3h6.4V1735.6h-6.4zM1669.9 1681.9h6.4V1696.2h-6.4zM1710.2 1699.7h6.4V1741.3h-6.4zM1750.5 1689.5h6.4V1718.1h-6.4zM1790.7 1692.4h6.4V1724h-6.4zM1831 1682.5h6.4V1701.1h-6.4zM1871.3 1687h6.4V1705.1h-6.4zM1911.5 1675.7h6.4V1688.1h-6.4z" stroke="#2e2e2e" stroke-width="1.15" fill="#dec887"/>
<path d="M1146.4 1690.5h6.4M1186.7 1695.4h6.4M1226.9 1682.5h6.4M1267.2 1688.7h6.4M1307.5 1688.4h6.4M1347.8 1698.1h6.4M1388 1697.8h6.4M1428.3 1694.6h6.4M1468.6 1689.5h6.4M1508.8 1694.1h6.4M1549.1 1695.7h6.4M1589.4 1691.4h6.4M1629.6 1715.6h6.4M1669.9 1690.8h6.4M1710.2 1721.8h6.4M1750.5 1702.1h6.4M1790.7 1706.7h6.4M1831 1690.3h6.4M1871.3 1694.3h6.4M1911.5 1684.1h6.4" stroke="#2e2e2e" stroke-width="2.2" fill="none"/>
<path d="M1157.2 1541.9V1713.7M1197.5 1560V1729.1M1237.7 1543.5V1696.8M1278 1538.4V1745.3M1318.3 1541.4V1683.3M1358.5 1547.3V1733.7M1398.8 1551.6V1740.5M1439.1 1546.8V1736.4M1479.4 1543.5V1725.6M1519.6 1542.2V1741.3M1559.9 1559.4V1717M1600.2 1545.1V1721M1640.4 1545.4V1735.9M1680.7 1544.3V1734M1721 1565.6V1743.2M1761.3 1541.1V1745.3M1801.5 1546.5V1738.6M1841.8 1543V1748.5M1882.1 1591.3V1707.5M1922.3 1546.8V1674.4" stroke="#2e2e2e" stroke-width="1.15" fill="none"/>
<path d="M1154 1576.7h6.4V1646.3h-6.4zM1194.3 1619.6h6.4V1668.7h-6.4zM1234.5 1571h6.4V1634.4h-6.4zM1274.8 1600.4h6.4V1690.5h-6.4zM1315.1 1555.4h6.4V1612.9h-6.4zM1355.3 1614.5h6.4V1691.4h-6.4zM1395.6 1627.7h6.4V1700h-6.4zM1435.9 1603.1h6.4V1674.9h-6.4zM1476.2 1571.6h6.4V1634.2h-6.4zM1516.4 1599.4h6.4V1678.1h-6.4zM1556.7 1608.5h6.4V1675.2h-6.4zM1597 1600.2h6.4V1666.3h-6.4zM1637.2 1624.7h6.4V1690.3h-6.4zM1677.5 1582.4h6.4V1670.9h-6.4zM1717.8 1648.2h6.4V1705.9h-6.4zM1758.1 1581.3h6.4V1660.3h-6.4zM1798.3 1601.5h6.4V1664.9h-6.4zM1838.6 1614.5h6.4V1692.7h-6.4zM1878.9 1622.6h6.4V1683.3h-6.4zM1919.1 1569.7h6.4V1630.9h-6.4z" stroke="#2e2e2e" stroke-width="1.15" fill="#8dd3c7"/>
<path d="M1154 1611.5h6.4M1194.3 1642.5h6.4M1234.5 1601.8h6.4M1274.8 1640.4h6.4M1315.1 1580.7h6.4M1355.3 1653h6.4M1395.6 1669.2h6.4M1435.9 1645.5h6.4M1476.2 1599.9h6.4M1516.4 1643.6h6.4M1556.7 1644.1h6.4M1597 1636.9h6.4M1637.2 1655.5h6.4M1677.5 1634.4h6.4M1717.8 1680.6h6.4M1758.1 1618.5h6.4M1798.3 1628h6.4M1838.6 1661.7h6.4M1878.9 1652.5h6.4M1919.1 1599.4h6.4" stroke="#2e2e2e" stroke-width="2.2" fill="none"/>
<path d="M1164.7 1516V1767.4M1205 1562.1V1765.5M1245.2 1475.3V1754.8M1285.5 1581V1766.9M1325.8 1555.4V1762.8M1366 1625.5V1774.4M1406.3 1623.6V1761.5M1446.6 1622.3V1774.2M1486.9 1535.4V1763.7M1527.1 1555.9V1773.6M1567.4 1506.6V1774.4M1607.7 1571.3V1766.9M1647.9 1654.4V1779.6M1688.2 1553.8V1772.3M1728.5 1626.9V1785M1768.8 1601.3V1778.2M1809 1608.3V1778.2M1849.3 1546.2V1775M1889.6 1578.6V1761M1929.8 1486.3V1737.2" stroke="#2e2e2e" stroke-width="1.15" fill="none"/>
<path d="M1161.5 1645.5h6.4V1732.4h-6.4zM1201.8 1661.7h6.4V1730.2h-6.4zM1242 1611.5h6.4V1715.1h-6.4zM1282.3 1672.7h6.4V1738h-6.4zM1322.6 1646.8h6.4V1728.3h-6.4zM1362.8 1701.1h6.4V1755.3h-6.4zM1403.1 1680.3h6.4V1728.3h-6.4zM1443.4 1700.3h6.4V1753.9h-6.4zM1483.7 1645.5h6.4V1733.4h-6.4zM1523.9 1658.4h6.4V1735.1h-6.4zM1564.2 1622.3h6.4V1750.4h-6.4zM1604.5 1669.2h6.4V1736.1h-6.4zM1644.7 1717.5h6.4V1759.9h-6.4zM1685 1654.4h6.4V1727h-6.4zM1725.3 1701.3h6.4V1755h-6.4zM1765.6 1683.8h6.4V1742.9h-6.4zM1805.8 1692.2h6.4V1758.3h-6.4zM1846.1 1661.7h6.4V1740.2h-6.4zM1886.4 1665.7h6.4V1729.7h-6.4zM1926.6 1609.3h6.4V1697.8h-6.4z" stroke="#2e2e2e" stroke-width="1.15" fill="#ad8cc3"/>
<path d="M1161.5 1710.5h6.4M1201.8 1699.4h6.4M1242 1685.4h6.4M1282.3 1714.6h6.4M1322.6 1706.2h6.4M1362.8 1734.8h6.4M1403.1 1710.5h6.4M1443.4 1734.5h6.4M1483.7 1699.4h6.4M1523.9 1708.4h6.4M1564.2 1728.3h6.4M1604.5 1715.9h6.4M1644.7 1746.9h6.4M1685 1701.1h6.4M1725.3 1736.4h6.4M1765.6 1722.1h6.4M1805.8 1730.2h6.4M1846.1 1710h6.4M1886.4 1696.2h6.4M1926.6 1649.5h6.4" stroke="#2e2e2e" stroke-width="2.2" fill="none"/>
<path d="M1129.4 1456.6V1810.8H1941.8" stroke="#222" stroke-width="1.25" fill="none"/>
<path d="M1124.7 1472h4.7M1124.7 1579.4h4.7M1124.7 1687.3h4.7M1124.7 1794.7h4.7" stroke="#2e2e2e" stroke-width="1.1"/>
<text x="1123" y="1478.4" font-size="18" text-anchor="end" fill="#4d4d4d">6</text>
<text x="1123" y="1585.8" font-size="18" text-anchor="end" fill="#4d4d4d">4</text>
<text x="1123" y="1693.7" font-size="18" text-anchor="end" fill="#4d4d4d">2</text>
<text x="1123" y="1801.1" font-size="18" text-anchor="end" fill="#4d4d4d">0</text>
<path d="M1153.4 1810.8v4.7M1193.7 1810.8v4.7M1233.9 1810.8v4.7M1274.2 1810.8v4.7M1314.5 1810.8v4.7M1354.8 1810.8v4.7M1395 1810.8v4.7M1435.3 1810.8v4.7M1475.6 1810.8v4.7M1515.8 1810.8v4.7M1556.1 1810.8v4.7M1596.4 1810.8v4.7M1636.6 1810.8v4.7M1676.9 1810.8v4.7M1717.2 1810.8v4.7M1757.5 1810.8v4.7M1797.7 1810.8v4.7M1838 1810.8v4.7M1878.3 1810.8v4.7M1918.5 1810.8v4.7" stroke="#2e2e2e" stroke-width="1.1"/>
<text x="1153.4" y="1829.9" font-size="18" text-anchor="middle" fill="#4d4d4d">A</text>
<text x="1193.7" y="1829.9" font-size="18" text-anchor="middle" fill="#4d4d4d">C</text>
<text x="1233.9" y="1829.9" font-size="18" text-anchor="middle" fill="#4d4d4d">D</text>
<text x="1274.2" y="1829.9" font-size="18" text-anchor="middle" fill="#4d4d4d">E</text>
<text x="1314.5" y="1829.9" font-size="18" text-anchor="middle" fill="#4d4d4d">F</text>
<text x="1354.8" y="1829.9" font-size="18" text-anchor="middle" fill="#4d4d4d">G</text>
<text x="1395" y="1829.9" font-size="18" text-anchor="middle" fill="#4d4d4d">H</text>
<text x="1435.3" y="1829.9" font-size="18" text-anchor="middle" fill="#4d4d4d">I</text>
<text x="1475.6" y="1829.9" font-size="18" text-anchor="middle" fill="#4d4d4d">K</text>
<text x="1515.8" y="1829.9" font-size="18" text-anchor="middle" fill="#4d4d4d">L</text>
<text x="1556.1" y="1829.9" font-size="18" text-anchor="middle" fill="#4d4d4d">M</text>
<text x="1596.4" y="1829.9" font-size="18" text-anchor="middle" fill="#4d4d4d">N</text>
<text x="1636.6" y="1829.9" font-size="18" text-anchor="middle" fill="#4d4d4d">P</text>
<text x="1676.9" y="1829.9" font-size="18" text-anchor="middle" fill="#4d4d4d">Q</text>
<text x="1717.2" y="1829.9" font-size="18" text-anchor="middle" fill="#4d4d4d">R</text>
<text x="1757.5" y="1829.9" font-size="18" text-anchor="middle" fill="#4d4d4d">S</text>
<text x="1797.7" y="1829.9" font-size="18" text-anchor="middle" fill="#4d4d4d">T</text>
<text x="1838" y="1829.9" font-size="18" text-anchor="middle" fill="#4d4d4d">V</text>
<text x="1878.3" y="1829.9" font-size="18" text-anchor="middle" fill="#4d4d4d">W</text>
<text x="1918.5" y="1829.9" font-size="18" text-anchor="middle" fill="#4d4d4d">Y</text>
<text x="1535.5" y="1852.5" font-size="22" text-anchor="middle">Aminoacid upstream of the UGA</text>
<text font-size="22" text-anchor="middle" transform="translate(1104.5,1632.5) rotate(-90)">Readthrough (%)</text>
<text x="1098.5" y="1435" font-size="23.2" font-weight="bold" font-family="DejaVu Sans, sans-serif">f</text>
<text x="1139.3" y="1478.2" font-size="14.8">p&lt;2e^-16</text>
<path d="M1400.4 1470.3V1486.1" stroke="#2e2e2e" stroke-width="1.15"/>
<rect x="1392" y="1472.8" width="16.8" height="10.8" fill="#d9d9d9" stroke="#2e2e2e" stroke-width="1.15"/>
<path d="M1392 1478.2h16.8" stroke="#2e2e2e" stroke-width="1.2075"/>
<text x="1420.4" y="1483.4" font-size="14.5">G418</text>
<path d="M1476 1470.3V1486.1" stroke="#2e2e2e" stroke-width="1.15"/>
<rect x="1467.6" y="1472.8" width="16.8" height="10.8" fill="#dec887" stroke="#2e2e2e" stroke-width="1.15"/>
<path d="M1467.6 1478.2h16.8" stroke="#2e2e2e" stroke-width="1.2075"/>
<text x="1495.7" y="1483.4" font-size="14.5">Clitocine</text>
<path d="M1572.2 1470.3V1486.1" stroke="#2e2e2e" stroke-width="1.15"/>
<rect x="1563.8" y="1472.8" width="16.8" height="10.8" fill="#8dd3c7" stroke="#2e2e2e" stroke-width="1.15"/>
<path d="M1563.8 1478.2h16.8" stroke="#2e2e2e" stroke-width="1.2075"/>
<text x="1592.2" y="1483.4" font-size="14.5">DAP</text>
<path d="M1641.2 1470.3V1486.1" stroke="#2e2e2e" stroke-width="1.15"/>
<rect x="1632.8" y="1472.8" width="16.8" height="10.8" fill="#ad8cc3" stroke="#2e2e2e" stroke-width="1.15"/>
<path d="M1632.8 1478.2h16.8" stroke="#2e2e2e" stroke-width="1.2075"/>
<text x="1661.2" y="1483.4" font-size="14.5">SRI</text>
<path d="M92.5 2215V2232.2M214.6 2216.6V2232.2" stroke="#2e2e2e" stroke-width="1.15" fill="none"/>
<path d="M82.5 2221.7h20V2228.4h-20zM204.6 2223.3h20V2229h-20z" stroke="#2e2e2e" stroke-width="1.15" fill="#f1a340"/>
<path d="M82.5 2225.2h20M204.6 2225.8h20" stroke="#2e2e2e" stroke-width="2.2" fill="none"/>
<path d="M115.4 2224.6V2237.3M237.5 2231.6V2236.7" stroke="#2e2e2e" stroke-width="1.15" fill="none"/>
<path d="M105.4 2230.6h20V2235.4h-20zM227.5 2233.5h20V2235.7h-20z" stroke="#2e2e2e" stroke-width="1.15" fill="#4a3af0"/>
<path d="M105.4 2233.2h20M227.5 2234.8h20" stroke="#2e2e2e" stroke-width="2.2" fill="none"/>
<path d="M138.1 2166.2V2233.8M260.2 2176.1V2232.5" stroke="#2e2e2e" stroke-width="1.15" fill="none"/>
<path d="M128.1 2196.5h20V2220.4h-20zM250.2 2205.4h20V2225.8h-20z" stroke="#2e2e2e" stroke-width="1.15" fill="#fadce0"/>
<path d="M128.1 2209.3h20M250.2 2219.5h20" stroke="#2e2e2e" stroke-width="2.2" fill="none"/>
<path d="M161 1945.6V2199.1M283.1 1953.6V2213.4" stroke="#2e2e2e" stroke-width="1.15" fill="none"/>
<path d="M151 2060.7h20V2151.2h-20zM273.1 2070.9h20V2181.5h-20z" stroke="#2e2e2e" stroke-width="1.15" fill="#66f59b"/>
<path d="M151 2126.4h20M273.1 2145.2h20" stroke="#2e2e2e" stroke-width="2.2" fill="none"/>
<path d="M53.6 1929.3V2263.5H321.4" stroke="#222" stroke-width="1.25" fill="none"/>
<path d="M49.1 1978.1h4.5M49.1 2045.7h4.5M49.1 2113h4.5M49.1 2180.6h4.5M49.1 2248.5h4.5" stroke="#2e2e2e" stroke-width="1.1"/>
<text x="47.1" y="1984.2" font-size="17" text-anchor="end" fill="#4d4d4d">4</text>
<text x="47.1" y="2051.8" font-size="17" text-anchor="end" fill="#4d4d4d">3</text>
<text x="47.1" y="2119.1" font-size="17" text-anchor="end" fill="#4d4d4d">2</text>
<text x="47.1" y="2186.7" font-size="17" text-anchor="end" fill="#4d4d4d">1</text>
<text x="47.1" y="2254.6" font-size="17" text-anchor="end" fill="#4d4d4d">0</text>
<path d="M126.6 2263.5v4.5M248.7 2263.5v4.5" stroke="#2e2e2e" stroke-width="1.1"/>
<text x="126.6" y="2281.5" font-size="16.5" text-anchor="middle" fill="#4d4d4d">GAA</text>
<text x="248.7" y="2281.5" font-size="16.5" text-anchor="middle" fill="#4d4d4d">GAG</text>
<text x="188" y="2303.5" font-size="21" text-anchor="middle">Glutamic acid upstream the UGA</text>
<text font-size="20.7" text-anchor="middle" transform="translate(31,2096) rotate(-90)">Readthrough (%)</text>
<text x="15" y="1946.5" font-size="23.2" font-weight="bold" font-family="DejaVu Sans, sans-serif">g</text>
<path d="M424 2210.9V2233.2M518.3 2221.4V2230.9M612.7 2222.6V2230.9M707 2221.4V2230.3M801.4 2203.8V2230M895.7 2222V2230.9" stroke="#2e2e2e" stroke-width="1.15" fill="none"/>
<path d="M420.2 2220.1h7.6V2226.5h-7.6zM514.5 2224.2h7.6V2228.1h-7.6zM608.9 2223.9h7.6V2227.7h-7.6zM703.2 2224.2h7.6V2228.7h-7.6zM797.6 2217.9h7.6V2227.1h-7.6zM891.9 2223.9h7.6V2227.7h-7.6z" stroke="#2e2e2e" stroke-width="1.15" fill="#f1a340"/>
<path d="M420.2 2223.3h7.6M514.5 2226.2h7.6M608.9 2225.5h7.6M703.2 2226.5h7.6M797.6 2223.6h7.6M891.9 2225.8h7.6" stroke="#2e2e2e" stroke-width="2.2" fill="none"/>
<path d="M432.8 2231.6V2236.4M527.1 2232.5V2236.4M621.5 2232.2V2236.4M715.8 2225.2V2236M810.2 2233.2V2236.4M904.5 2220.4V2236.4" stroke="#2e2e2e" stroke-width="1.15" fill="none"/>
<path d="M429 2233.5h7.6V2235.4h-7.6zM523.3 2233.8h7.6V2235.7h-7.6zM617.7 2233.5h7.6V2235.4h-7.6zM712 2230.6h7.6V2235.7h-7.6zM806.4 2233.8h7.6V2235.7h-7.6zM900.7 2228.7h7.6V2234.1h-7.6z" stroke="#2e2e2e" stroke-width="1.15" fill="#4a3af0"/>
<path d="M429 2234.4h7.6M523.3 2234.8h7.6M617.7 2234.4h7.6M712 2233.8h7.6M806.4 2234.8h7.6M900.7 2231.6h7.6" stroke="#2e2e2e" stroke-width="2.2" fill="none"/>
<path d="M441.7 2197.1V2233.2M536 2211.5V2235.4M630.4 2199.7V2228.4M724.7 2198.7V2225.8M819.1 2205.1V2235.4M913.4 2205.4V2229.3" stroke="#2e2e2e" stroke-width="1.15" fill="none"/>
<path d="M437.9 2213.4h7.6V2228.7h-7.6zM532.2 2219.5h7.6V2233.2h-7.6zM626.6 2211.2h7.6V2223.3h-7.6zM720.9 2208.3h7.6V2221.1h-7.6zM815.3 2219.1h7.6V2230.3h-7.6zM909.6 2215.6h7.6V2225.5h-7.6z" stroke="#2e2e2e" stroke-width="1.15" fill="#fadce0"/>
<path d="M437.9 2225.5h7.6M532.2 2225.8h7.6M626.6 2217.9h7.6M720.9 2218.2h7.6M815.3 2225.5h7.6M909.6 2221.1h7.6" stroke="#2e2e2e" stroke-width="2.2" fill="none"/>
<path d="M450.6 2131.5V2230M544.9 2098.3V2230M639.3 2090V2228.4M733.6 2071.2V2220.4M828 2149.6V2227.7M922.3 2154.7V2226.8" stroke="#2e2e2e" stroke-width="1.15" fill="none"/>
<path d="M446.8 2180.6h7.6V2223h-7.6zM541.1 2164h7.6V2217.5h-7.6zM635.5 2149.3h7.6V2213.1h-7.6zM729.8 2154.1h7.6V2213.4h-7.6zM824.2 2187.9h7.6V2217.9h-7.6zM918.5 2180.6h7.6V2211.2h-7.6z" stroke="#2e2e2e" stroke-width="1.15" fill="#d9d9d9"/>
<path d="M446.8 2210.2h7.6M541.1 2201.9h7.6M635.5 2193h7.6M729.8 2200h7.6M824.2 2207.7h7.6M918.5 2200.3h7.6" stroke="#2e2e2e" stroke-width="2.2" fill="none"/>
<path d="M459.4 2099.6V2198.7M553.7 2108.8V2216.6M648.1 2125.7V2198.1M742.4 2090.7V2156.7M836.8 2091.6V2219.5M931.1 2120V2156" stroke="#2e2e2e" stroke-width="1.15" fill="none"/>
<path d="M455.6 2144.2h7.6V2176.7h-7.6zM549.9 2157h7.6V2199.7h-7.6zM644.3 2154.4h7.6V2188.2h-7.6zM738.6 2103.4h7.6V2129.9h-7.6zM833 2150.9h7.6V2200h-7.6zM927.3 2128h7.6V2140.1h-7.6z" stroke="#2e2e2e" stroke-width="1.15" fill="#dec887"/>
<path d="M455.6 2166.2h7.6M549.9 2181.5h7.6M644.3 2162.7h7.6M738.6 2113.3h7.6M833 2177.4h7.6M927.3 2136.6h7.6" stroke="#2e2e2e" stroke-width="2.2" fill="none"/>
<path d="M468.3 1967.6V2157.3M562.6 2013.5V2183.1M657 2011.6V2167.8M751.3 1959.9V2143.9M845.7 2071.8V2167.2M940 2045.7V2157.6" stroke="#2e2e2e" stroke-width="1.15" fill="none"/>
<path d="M464.5 2042.5h7.6V2121.6h-7.6zM558.8 2084.3h7.6V2146.8h-7.6zM653.2 2068.3h7.6V2128h-7.6zM747.5 2030.1h7.6V2102.8h-7.6zM841.9 2102.5h7.6V2146.5h-7.6zM936.2 2078.5h7.6V2134h-7.6z" stroke="#2e2e2e" stroke-width="1.15" fill="#8dd3c7"/>
<path d="M464.5 2094.5h7.6M558.8 2124.1h7.6M653.2 2082.7h7.6M747.5 2083.3h7.6M841.9 2128.6h7.6M936.2 2113.6h7.6" stroke="#2e2e2e" stroke-width="2.2" fill="none"/>
<path d="M477.2 2019.6V2215M571.5 2031.7V2228.4M665.9 2044.1V2218.2M760.2 1981.6V2172.3M854.6 2076.3V2213.4M948.9 2077.9V2191.4" stroke="#2e2e2e" stroke-width="1.15" fill="none"/>
<path d="M473.4 2114.2h7.6V2180.6h-7.6zM567.7 2137.5h7.6V2211.2h-7.6zM662.1 2117.8h7.6V2195.9h-7.6zM756.4 2076.6h7.6V2142.3h-7.6zM850.8 2150h7.6V2200.3h-7.6zM945.1 2123.5h7.6V2164.9h-7.6z" stroke="#2e2e2e" stroke-width="1.15" fill="#66f59b"/>
<path d="M473.4 2160.8h7.6M567.7 2178h7.6M662.1 2161.1h7.6M756.4 2118.7h7.6M850.8 2177.7h7.6M945.1 2144.5h7.6" stroke="#2e2e2e" stroke-width="2.2" fill="none"/>
<path d="M486 2102.5V2215.6M580.3 2092.3V2236.4M674.7 2111.7V2226.2M769 2037.7V2186.9M863.4 2128V2213.4M957.7 2084.6V2198.1" stroke="#2e2e2e" stroke-width="1.15" fill="none"/>
<path d="M482.2 2137.5h7.6V2196.5h-7.6zM576.5 2154.7h7.6V2222.3h-7.6zM670.9 2148h7.6V2203.2h-7.6zM765.2 2115.5h7.6V2168.8h-7.6zM859.6 2171h7.6V2207h-7.6zM953.9 2133.4h7.6V2183.1h-7.6z" stroke="#2e2e2e" stroke-width="1.15" fill="#ad8cc3"/>
<path d="M482.2 2182.2h7.6M576.5 2195.9h7.6M670.9 2182.2h7.6M765.2 2133.4h7.6M859.6 2190.8h7.6M953.9 2166.9h7.6" stroke="#2e2e2e" stroke-width="2.2" fill="none"/>
<path d="M398.9 1929.3V2262.8H983.7" stroke="#222" stroke-width="1.25" fill="none"/>
<path d="M394.4 1977.5h4.5M394.4 2045.4h4.5M394.4 2113h4.5M394.4 2180.6h4.5M394.4 2248.5h4.5" stroke="#2e2e2e" stroke-width="1.1"/>
<text x="392.4" y="1983.6" font-size="17" text-anchor="end" fill="#4d4d4d">4</text>
<text x="392.4" y="2051.5" font-size="17" text-anchor="end" fill="#4d4d4d">3</text>
<text x="392.4" y="2119.1" font-size="17" text-anchor="end" fill="#4d4d4d">2</text>
<text x="392.4" y="2186.7" font-size="17" text-anchor="end" fill="#4d4d4d">1</text>
<text x="392.4" y="2254.6" font-size="17" text-anchor="end" fill="#4d4d4d">0</text>
<path d="M455 2262.8v4.5M549.3 2262.8v4.5M643.7 2262.8v4.5M738 2262.8v4.5M832.4 2262.8v4.5M926.7 2262.8v4.5" stroke="#2e2e2e" stroke-width="1.1"/>
<text x="455" y="2281.5" font-size="16.5" text-anchor="middle" fill="#4d4d4d">AGA</text>
<text x="549.3" y="2281.5" font-size="16.5" text-anchor="middle" fill="#4d4d4d">AGG</text>
<text x="643.7" y="2281.5" font-size="16.5" text-anchor="middle" fill="#4d4d4d">CGA</text>
<text x="738" y="2281.5" font-size="16.5" text-anchor="middle" fill="#4d4d4d">CGC</text>
<text x="832.4" y="2281.5" font-size="16.5" text-anchor="middle" fill="#4d4d4d">CGG</text>
<text x="926.7" y="2281.5" font-size="16.5" text-anchor="middle" fill="#4d4d4d">CGU</text>
<text x="691" y="2303.5" font-size="21" text-anchor="middle">Arginine upstream the UGA</text>
<text font-size="20.7" text-anchor="middle" transform="translate(376.5,2096) rotate(-90)">Readthrough (%)</text>
<text x="359" y="1951" font-size="23.2" font-weight="bold" font-family="DejaVu Sans, sans-serif">h</text>
<text x="408" y="1948.5" font-size="14.7">p=3e^-6</text>
<path d="M1064.2 2046.1V2079.7M1102.2 2061.4V2079.1M1133.6 2065.6V2080.3M1169.5 2028.1V2078.2M1206.4 2046.1V2079.7M1237.8 2045.2V2081.2M1272.5 2065V2079.1M1310.5 2033.8V2079.7M1342 2065V2081.2M1376.7 2062.6V2080.6M1411.4 2060.2V2081.2M1446.1 2065.3V2080.3" stroke="#2e2e2e" stroke-width="1.1" fill="none"/>
<path d="M1061.2 2057.2h5.9V2074.3h-5.9zM1096.3 2068.6h11.9V2075.8h-11.9zM1130.7 2071.6h5.9V2076.7h-5.9zM1165.5 2055.4h7.9V2074h-7.9zM1200.4 2062.6h11.9V2074.6h-11.9zM1234.8 2062.3h5.9V2074.6h-5.9zM1269.5 2069.8h5.9V2075.2h-5.9zM1304.6 2051.5h11.9V2072.5h-11.9zM1339 2070.4h5.9V2075.2h-5.9zM1373.7 2068.6h5.9V2076.1h-5.9zM1408.4 2069.2h5.9V2075.8h-5.9zM1443.1 2070.4h5.9V2075.5h-5.9z" stroke="#2e2e2e" stroke-width="1.1" fill="#6dc96d"/>
<path d="M1061.2 2071.3h5.9M1096.3 2072.2h11.9M1130.7 2074.6h5.9M1165.5 2064.4h7.9M1200.4 2071.3h11.9M1234.8 2070.1h5.9M1269.5 2072.5h5.9M1304.6 2068.6h11.9M1339 2072.5h5.9M1373.7 2073.4h5.9M1408.4 2072.8h5.9M1443.1 2073.4h5.9" stroke="#2e2e2e" stroke-width="2.1" fill="none"/>
<path d="M1070.8 2050V2078.2M1140.2 2066.2V2079.7M1178.3 2064.7V2079.1M1244.4 2054.2V2080.6M1279.1 2064.4V2079.7M1348.6 2068.6V2078.2M1383.3 2062.3V2079.7M1418 2059.3V2081.2M1452.7 2059.3V2079.7" stroke="#2e2e2e" stroke-width="1.1" fill="none"/>
<path d="M1067.8 2065h5.9V2074.3h-5.9zM1137.3 2072.8h5.9V2076.1h-5.9zM1174.3 2070.4h7.9V2075.2h-7.9zM1241.4 2066.2h5.9V2074.6h-5.9zM1276.1 2071.6h5.9V2075.5h-5.9zM1345.6 2071.6h5.9V2076.1h-5.9zM1380.3 2069.5h5.9V2076.1h-5.9zM1415 2065.9h5.9V2076.1h-5.9zM1449.8 2068h5.9V2076.1h-5.9z" stroke="#2e2e2e" stroke-width="1.1" fill="#666666"/>
<path d="M1067.8 2072.2h5.9M1137.3 2074.9h5.9M1174.3 2072.8h7.9M1241.4 2072.2h5.9M1276.1 2073.7h5.9M1345.6 2074h5.9M1380.3 2074h5.9M1415 2073.7h5.9M1449.8 2074h5.9" stroke="#2e2e2e" stroke-width="2.1" fill="none"/>
<path d="M1077.4 1988.7V2072.2M1115.4 2063.2V2079.7M1146.8 2064.4V2079.1M1219.6 2066.2V2079.7M1251 2051.5V2081.8M1285.7 2066.2V2077.6M1323.7 2051.5V2080.6M1355.2 2062.6V2079.7M1389.9 2073.1V2074.3M1424.6 2067.7V2078.2M1459.3 2062V2079.1" stroke="#2e2e2e" stroke-width="1.1" fill="none"/>
<path d="M1074.4 1999.5h5.9V2069.2h-5.9zM1109.5 2069.8h11.9V2076.1h-11.9zM1143.9 2071h5.9V2075.8h-5.9zM1213.6 2071h11.9V2076.1h-11.9zM1248 2064.7h5.9V2074.6h-5.9zM1282.7 2069.8h5.9V2074.6h-5.9zM1317.8 2065.3h11.9V2074.9h-11.9zM1352.2 2070.4h5.9V2075.2h-5.9zM1386.9 2073.4h5.9V2074h-5.9zM1421.6 2071.3h5.9V2076.1h-5.9zM1456.3 2069.5h5.9V2076.1h-5.9z" stroke="#2e2e2e" stroke-width="1.1" fill="#e0e65a"/>
<path d="M1074.4 2065.9h5.9M1109.5 2073.1h11.9M1143.9 2074h5.9M1213.6 2073.4h11.9M1248 2071.6h5.9M1282.7 2072.2h5.9M1317.8 2071h11.9M1352.2 2072.8h5.9M1386.9 2073.7h5.9M1421.6 2074h5.9M1456.3 2073.7h5.9" stroke="#2e2e2e" stroke-width="2.1" fill="none"/>
<path d="M1084 2064.7V2080.3M1153.4 2069.5V2081.8M1187.1 2066.2V2078.2M1257.6 2057.8V2080.6M1292.3 2067.1V2079.7M1361.8 2069.2V2078.2M1396.5 2056V2082.1M1431.2 2066.8V2079.7M1465.9 2064.4V2080.3" stroke="#2e2e2e" stroke-width="1.1" fill="none"/>
<path d="M1081 2071h5.9V2075.2h-5.9zM1150.5 2072.5h5.9V2077h-5.9zM1183.1 2069.8h7.9V2075.2h-7.9zM1254.6 2068.6h5.9V2075.2h-5.9zM1289.3 2072.2h5.9V2076.1h-5.9zM1358.8 2071.3h5.9V2076.1h-5.9zM1393.5 2067.1h5.9V2075.2h-5.9zM1428.2 2070.7h5.9V2076.1h-5.9zM1462.9 2070.4h5.9V2076.7h-5.9z" stroke="#2e2e2e" stroke-width="1.1" fill="#f0f0f0"/>
<path d="M1081 2073.1h5.9M1150.5 2074.6h5.9M1183.1 2072.8h7.9M1254.6 2072.5h5.9M1289.3 2074.3h5.9M1358.8 2074.3h5.9M1393.5 2072.8h5.9M1428.2 2074h5.9M1462.9 2074h5.9" stroke="#2e2e2e" stroke-width="2.1" fill="none"/>
<path d="M1053.1 1965V2089H1476.7" stroke="#222" stroke-width="1.25" fill="none"/>
<path d="M1049.1 1990.5h4M1049.1 2025.7h4M1049.1 2061.1h4" stroke="#2e2e2e" stroke-width="1.1"/>
<text x="1047.1" y="1996" font-size="15.5" text-anchor="end" fill="#4d4d4d">1.5</text>
<text x="1047.1" y="2031.2" font-size="15.5" text-anchor="end" fill="#4d4d4d">1.0</text>
<text x="1047.1" y="2066.6" font-size="15.5" text-anchor="end" fill="#4d4d4d">0.5</text>
<path d="M1074.1 2089v4M1108.8 2089v4M1143.5 2089v4M1178.3 2089v4M1213 2089v4M1247.7 2089v4M1282.4 2089v4M1317.1 2089v4M1351.9 2089v4M1386.6 2089v4M1421.3 2089v4M1456 2089v4" stroke="#2e2e2e" stroke-width="1.1"/>
<text x="1074.1" y="2106" font-size="17" text-anchor="middle" fill="#4d4d4d">A</text>
<text x="1108.8" y="2106" font-size="17" text-anchor="middle" fill="#4d4d4d">E</text>
<text x="1143.5" y="2106" font-size="17" text-anchor="middle" fill="#4d4d4d">G</text>
<text x="1178.3" y="2106" font-size="17" text-anchor="middle" fill="#4d4d4d">I</text>
<text x="1213" y="2106" font-size="17" text-anchor="middle" fill="#4d4d4d">K</text>
<text x="1247.7" y="2106" font-size="17" text-anchor="middle" fill="#4d4d4d">L</text>
<text x="1282.4" y="2106" font-size="17" text-anchor="middle" fill="#4d4d4d">P</text>
<text x="1317.1" y="2106" font-size="17" text-anchor="middle" fill="#4d4d4d">Q</text>
<text x="1351.9" y="2106" font-size="17" text-anchor="middle" fill="#4d4d4d">R</text>
<text x="1386.6" y="2106" font-size="17" text-anchor="middle" fill="#4d4d4d">S</text>
<text x="1421.3" y="2106" font-size="17" text-anchor="middle" fill="#4d4d4d">T</text>
<text x="1456" y="2106" font-size="17" text-anchor="middle" fill="#4d4d4d">V</text>
<text x="1264.3" y="1983" font-size="16" text-anchor="middle">FUr</text>
<text x="1057.6" y="1981.5" font-size="14.8">p=3e^-3</text>
<path d="M1064.2 2196.9V2254M1102.2 2219.1V2257.9M1133.6 2233.3V2257M1169.5 2212.5V2258.5M1206.4 2214V2257.9M1237.8 2213.4V2257M1272.5 2227.9V2257M1310.5 2198.7V2252.5M1342 2232.7V2257.9M1376.7 2220.9V2253.4M1411.4 2229.1V2258.5M1446.1 2234.5V2257.6" stroke="#2e2e2e" stroke-width="1.1" fill="none"/>
<path d="M1061.2 2226.4h5.9V2248.3h-5.9zM1096.3 2236.3h11.9V2250.4h-11.9zM1130.7 2244.4h5.9V2253.4h-5.9zM1165.5 2233.6h7.9V2254h-7.9zM1200.4 2234.5h11.9V2250.4h-11.9zM1234.8 2231.8h5.9V2247.4h-5.9zM1269.5 2239.9h5.9V2252.5h-5.9zM1304.6 2222.4h11.9V2247.1h-11.9zM1339 2245.6h5.9V2254.6h-5.9zM1373.7 2239.3h5.9V2251.6h-5.9zM1408.4 2241.4h5.9V2252.5h-5.9zM1443.1 2241.7h5.9V2251.9h-5.9z" stroke="#2e2e2e" stroke-width="1.1" fill="#6dc96d"/>
<path d="M1061.2 2242.9h5.9M1096.3 2243.5h11.9M1130.7 2250.1h5.9M1165.5 2246.2h7.9M1200.4 2244.7h11.9M1234.8 2241.1h5.9M1269.5 2245.6h5.9M1304.6 2244.4h11.9M1339 2251h5.9M1373.7 2245.9h5.9M1408.4 2247.1h5.9M1443.1 2246.5h5.9" stroke="#2e2e2e" stroke-width="2.1" fill="none"/>
<path d="M1070.8 2229.1V2256.4M1140.2 2239.6V2257.6M1178.3 2234.5V2255.5M1244.4 2229.1V2255.5M1279.1 2240.5V2257.6M1348.6 2238.1V2254M1383.3 2232.1V2257M1418 2220.9V2258.5M1452.7 2230.9V2255.5" stroke="#2e2e2e" stroke-width="1.1" fill="none"/>
<path d="M1067.8 2239.6h5.9V2250.4h-5.9zM1137.3 2247.4h5.9V2253.4h-5.9zM1174.3 2245.6h7.9V2252.5h-7.9zM1241.4 2241.7h5.9V2251h-5.9zM1276.1 2247.4h5.9V2255.8h-5.9zM1345.6 2243.5h5.9V2250.1h-5.9zM1380.3 2243.5h5.9V2253.4h-5.9zM1415 2239.3h5.9V2253.4h-5.9zM1449.8 2241.7h5.9V2251h-5.9z" stroke="#2e2e2e" stroke-width="1.1" fill="#666666"/>
<path d="M1067.8 2247.1h5.9M1137.3 2251h5.9M1174.3 2249.5h7.9M1241.4 2248h5.9M1276.1 2252.5h5.9M1345.6 2247.4h5.9M1380.3 2249.5h5.9M1415 2248h5.9M1449.8 2245.9h5.9" stroke="#2e2e2e" stroke-width="2.1" fill="none"/>
<path d="M1077.4 2180.1V2248M1115.4 2224.5V2257.9M1146.8 2242V2258.5M1219.6 2227.9V2257M1251 2221.2V2257M1285.7 2215.2V2260M1323.7 2219.4V2257.9M1355.2 2243.5V2258.5M1389.9 2214V2255.5M1424.6 2243.5V2257.6M1459.3 2225.8V2257.6" stroke="#2e2e2e" stroke-width="1.1" fill="none"/>
<path d="M1074.4 2204.7h5.9V2245h-5.9zM1109.5 2241.7h11.9V2253.4h-11.9zM1143.9 2248h5.9V2254.6h-5.9zM1213.6 2240.5h11.9V2250.4h-11.9zM1248 2238.7h5.9V2251.6h-5.9zM1282.7 2234.5h5.9V2253.4h-5.9zM1317.8 2238.4h11.9V2251.6h-11.9zM1352.2 2249.5h5.9V2256.4h-5.9zM1386.9 2223h5.9V2249.5h-5.9zM1421.6 2248.6h5.9V2256.1h-5.9zM1456.3 2241.7h5.9V2252.5h-5.9z" stroke="#2e2e2e" stroke-width="1.1" fill="#e0e65a"/>
<path d="M1074.4 2241.7h5.9M1109.5 2249.5h11.9M1143.9 2251.9h5.9M1213.6 2247.1h11.9M1248 2246.5h5.9M1282.7 2244.1h5.9M1317.8 2247.1h11.9M1352.2 2252.5h5.9M1386.9 2246.5h5.9M1421.6 2253.4h5.9M1456.3 2248.9h5.9" stroke="#2e2e2e" stroke-width="2.1" fill="none"/>
<path d="M1084 2235.4V2258.5M1153.4 2238.1V2258.5M1187.1 2237.5V2258.5M1257.6 2236V2257.6M1292.3 2240.5V2260M1361.8 2242V2255.5M1396.5 2234.5V2257.9M1431.2 2234.5V2256.1M1465.9 2235.1V2254.9" stroke="#2e2e2e" stroke-width="1.1" fill="none"/>
<path d="M1081 2245h5.9V2254h-5.9zM1150.5 2248h5.9V2255.5h-5.9zM1183.1 2247.4h7.9V2255.5h-7.9zM1254.6 2245.6h5.9V2252.5h-5.9zM1289.3 2248h5.9V2256.4h-5.9zM1358.8 2247.7h5.9V2253.4h-5.9zM1393.5 2245.6h5.9V2253.4h-5.9zM1428.2 2246.5h5.9V2254.6h-5.9zM1462.9 2245.6h5.9V2252.5h-5.9z" stroke="#2e2e2e" stroke-width="1.1" fill="#f0f0f0"/>
<path d="M1081 2251h5.9M1150.5 2252.5h5.9M1183.1 2251.9h7.9M1254.6 2250.1h5.9M1289.3 2252.5h5.9M1358.8 2251h5.9M1393.5 2250.4h5.9M1428.2 2251.9h5.9M1462.9 2250.4h5.9" stroke="#2e2e2e" stroke-width="2.1" fill="none"/>
<path d="M1053.1 2140.7V2265.4H1476.7" stroke="#222" stroke-width="1.25" fill="none"/>
<path d="M1049.1 2150.3h4M1049.1 2188.8h4M1049.1 2227.6h4" stroke="#2e2e2e" stroke-width="1.1"/>
<text x="1047.1" y="2155.8" font-size="15.5" text-anchor="end" fill="#4d4d4d">3</text>
<text x="1047.1" y="2194.3" font-size="15.5" text-anchor="end" fill="#4d4d4d">2</text>
<text x="1047.1" y="2233.1" font-size="15.5" text-anchor="end" fill="#4d4d4d">1</text>
<path d="M1074.1 2265.4v4M1108.8 2265.4v4M1143.5 2265.4v4M1178.3 2265.4v4M1213 2265.4v4M1247.7 2265.4v4M1282.4 2265.4v4M1317.1 2265.4v4M1351.9 2265.4v4M1386.6 2265.4v4M1421.3 2265.4v4M1456 2265.4v4" stroke="#2e2e2e" stroke-width="1.1"/>
<text x="1074.1" y="2282.6" font-size="17" text-anchor="middle" fill="#4d4d4d">A</text>
<text x="1108.8" y="2282.6" font-size="17" text-anchor="middle" fill="#4d4d4d">E</text>
<text x="1143.5" y="2282.6" font-size="17" text-anchor="middle" fill="#4d4d4d">G</text>
<text x="1178.3" y="2282.6" font-size="17" text-anchor="middle" fill="#4d4d4d">I</text>
<text x="1213" y="2282.6" font-size="17" text-anchor="middle" fill="#4d4d4d">K</text>
<text x="1247.7" y="2282.6" font-size="17" text-anchor="middle" fill="#4d4d4d">L</text>
<text x="1282.4" y="2282.6" font-size="17" text-anchor="middle" fill="#4d4d4d">P</text>
<text x="1317.1" y="2282.6" font-size="17" text-anchor="middle" fill="#4d4d4d">Q</text>
<text x="1351.9" y="2282.6" font-size="17" text-anchor="middle" fill="#4d4d4d">R</text>
<text x="1386.6" y="2282.6" font-size="17" text-anchor="middle" fill="#4d4d4d">S</text>
<text x="1421.3" y="2282.6" font-size="17" text-anchor="middle" fill="#4d4d4d">T</text>
<text x="1456" y="2282.6" font-size="17" text-anchor="middle" fill="#4d4d4d">V</text>
<text x="1265.5" y="2144.9" font-size="16" text-anchor="middle">CC90009</text>
<text x="1058.5" y="2150.3" font-size="14.8">p=5e^-7</text>
<path d="M1520.8 2066.2V2081.2M1558.9 2064.7V2081.8M1590.3 2065.3V2082.7M1626.2 2072.2V2081.8M1663.2 2062.9V2081.8M1694.7 2059.3V2081.8M1729.4 2074.6V2081.8M1767.5 2050.3V2081.2M1799 2073.7V2081.8M1833.7 2071.3V2081.8M1868.5 2072.8V2082.1M1903.3 2069.5V2081.8" stroke="#2e2e2e" stroke-width="1.1" fill="none"/>
<path d="M1517.8 2072.8h5.9V2079.1h-5.9zM1552.9 2073.4h11.9V2079.7h-11.9zM1587.4 2072.8h5.9V2078.2h-5.9zM1622.2 2075.2h7.9V2080.3h-7.9zM1657.2 2070.7h11.9V2079.4h-11.9zM1691.7 2069.5h5.9V2077.6h-5.9zM1726.5 2077.3h5.9V2080.6h-5.9zM1761.5 2063.2h11.9V2078.2h-11.9zM1796 2077.6h5.9V2080.6h-5.9zM1830.8 2073.7h5.9V2080h-5.9zM1865.5 2077.3h5.9V2080.6h-5.9zM1900.3 2075.2h5.9V2079.7h-5.9z" stroke="#2e2e2e" stroke-width="1.1" fill="#6dc96d"/>
<path d="M1517.8 2077h5.9M1552.9 2077.6h11.9M1587.4 2074.9h5.9M1622.2 2078.2h7.9M1657.2 2076.1h11.9M1691.7 2074.6h5.9M1726.5 2079.1h5.9M1761.5 2072.5h11.9M1796 2079.1h5.9M1830.8 2077.3h5.9M1865.5 2079.1h5.9M1900.3 2077.6h5.9" stroke="#2e2e2e" stroke-width="2.1" fill="none"/>
<path d="M1527.4 2047.3V2081.2M1596.9 2076.7V2082.7M1635 2073.7V2081.8M1701.3 2065.3V2081.2M1736 2075.2V2081.8M1805.6 2066.2V2081.8M1840.3 2073.7V2081.8M1875.1 2068.3V2082.1M1909.9 2070.7V2081.8" stroke="#2e2e2e" stroke-width="1.1" fill="none"/>
<path d="M1524.4 2066.2h5.9V2078.2h-5.9zM1594 2078.5h5.9V2081.2h-5.9zM1631 2078.2h7.9V2080.6h-7.9zM1698.3 2072.8h5.9V2078.2h-5.9zM1733.1 2078.8h5.9V2080.6h-5.9zM1802.6 2073.4h5.9V2080.3h-5.9zM1837.4 2076.1h5.9V2080h-5.9zM1872.1 2074.6h5.9V2080.3h-5.9zM1906.9 2075.2h5.9V2080h-5.9z" stroke="#2e2e2e" stroke-width="1.1" fill="#666666"/>
<path d="M1524.4 2076.1h5.9M1594 2079.7h5.9M1631 2079.4h7.9M1698.3 2075.2h5.9M1733.1 2079.7h5.9M1802.6 2078.8h5.9M1837.4 2078.2h5.9M1872.1 2078.2h5.9M1906.9 2077.6h5.9" stroke="#2e2e2e" stroke-width="2.1" fill="none"/>
<path d="M1534 2034.4V2081.2M1572.1 2074V2081.8M1603.5 2073.7V2081.8M1676.4 2071.6V2081.8M1707.9 2068.6V2081.8M1742.6 2077.3V2081.2M1780.7 2068.3V2081.8M1812.2 2074.6V2081.8M1846.9 2073.7V2081.2M1881.7 2078.2V2081.2M1916.5 2074.6V2082.7" stroke="#2e2e2e" stroke-width="1.1" fill="none"/>
<path d="M1531 2058.4h5.9V2079.1h-5.9zM1566.1 2077.3h11.9V2080.6h-11.9zM1600.6 2077.9h5.9V2080.6h-5.9zM1670.4 2076.4h11.9V2080.3h-11.9zM1704.9 2075.2h5.9V2079.1h-5.9zM1739.7 2079.1h5.9V2080.6h-5.9zM1774.8 2075.2h11.9V2080.3h-11.9zM1809.2 2078.2h5.9V2080.6h-5.9zM1844 2075.2h5.9V2080h-5.9zM1878.7 2079.7h5.9V2080.6h-5.9zM1913.5 2078.2h5.9V2081.2h-5.9z" stroke="#2e2e2e" stroke-width="1.1" fill="#e0e65a"/>
<path d="M1531 2072.5h5.9M1566.1 2079.1h11.9M1600.6 2079.4h5.9M1670.4 2078.5h11.9M1704.9 2077h5.9M1739.7 2080h5.9M1774.8 2078.8h11.9M1809.2 2079.7h5.9M1844 2076.1h5.9M1878.7 2080h5.9M1913.5 2080h5.9" stroke="#2e2e2e" stroke-width="2.1" fill="none"/>
<path d="M1540.6 2055.7V2080.3M1610.1 2070.7V2080.6M1643.8 2070.7V2080.6M1714.5 2054.5V2080.3M1749.2 2069.2V2081.8M1818.8 2059V2080.6M1853.5 2053.3V2080.6M1888.3 2070.7V2081.8M1923.1 2067.7V2080.6" stroke="#2e2e2e" stroke-width="1.1" fill="none"/>
<path d="M1537.6 2068.3h5.9V2077.3h-5.9zM1607.2 2075.8h5.9V2079.4h-5.9zM1639.8 2074.6h7.9V2079.1h-7.9zM1711.5 2067.4h5.9V2077.3h-5.9zM1746.2 2075.2h5.9V2080.6h-5.9zM1815.8 2070.7h5.9V2078.5h-5.9zM1850.6 2063.2h5.9V2076.1h-5.9zM1885.3 2074.6h5.9V2080h-5.9zM1920.1 2074.3h5.9V2078.8h-5.9z" stroke="#2e2e2e" stroke-width="1.1" fill="#f0f0f0"/>
<path d="M1537.6 2074.3h5.9M1607.2 2077.3h5.9M1639.8 2077.6h7.9M1711.5 2074.3h5.9M1746.2 2079.1h5.9M1815.8 2076.1h5.9M1850.6 2072.2h5.9M1885.3 2077.6h5.9M1920.1 2076.1h5.9" stroke="#2e2e2e" stroke-width="2.1" fill="none"/>
<path d="M1510.6 1965V2089H1933.6" stroke="#222" stroke-width="1.25" fill="none"/>
<path d="M1506.6 2004.6h4M1506.6 2051.5h4" stroke="#2e2e2e" stroke-width="1.1"/>
<text x="1504.6" y="2010.1" font-size="15.5" text-anchor="end" fill="#4d4d4d">1.0</text>
<text x="1504.6" y="2057" font-size="15.5" text-anchor="end" fill="#4d4d4d">0.5</text>
<path d="M1530.7 2089v4M1565.5 2089v4M1600.2 2089v4M1635 2089v4M1669.8 2089v4M1704.6 2089v4M1739.3 2089v4M1774.1 2089v4M1808.9 2089v4M1843.6 2089v4M1878.4 2089v4M1913.2 2089v4" stroke="#2e2e2e" stroke-width="1.1"/>
<text x="1530.7" y="2106" font-size="17" text-anchor="middle" fill="#4d4d4d">A</text>
<text x="1565.5" y="2106" font-size="17" text-anchor="middle" fill="#4d4d4d">E</text>
<text x="1600.2" y="2106" font-size="17" text-anchor="middle" fill="#4d4d4d">G</text>
<text x="1635" y="2106" font-size="17" text-anchor="middle" fill="#4d4d4d">I</text>
<text x="1669.8" y="2106" font-size="17" text-anchor="middle" fill="#4d4d4d">K</text>
<text x="1704.6" y="2106" font-size="17" text-anchor="middle" fill="#4d4d4d">L</text>
<text x="1739.3" y="2106" font-size="17" text-anchor="middle" fill="#4d4d4d">P</text>
<text x="1774.1" y="2106" font-size="17" text-anchor="middle" fill="#4d4d4d">Q</text>
<text x="1808.9" y="2106" font-size="17" text-anchor="middle" fill="#4d4d4d">R</text>
<text x="1843.6" y="2106" font-size="17" text-anchor="middle" fill="#4d4d4d">S</text>
<text x="1878.4" y="2106" font-size="17" text-anchor="middle" fill="#4d4d4d">T</text>
<text x="1913.2" y="2106" font-size="17" text-anchor="middle" fill="#4d4d4d">V</text>
<text x="1720.9" y="1983" font-size="16" text-anchor="middle">Gentamicin</text>
<text x="1514.2" y="1978.5" font-size="14.8">p=8e^-4</text>
<path d="M1520.8 2166.3V2248.6M1558.9 2162.7V2251.9M1590.3 2186.4V2255.5M1626.2 2175V2257M1663.2 2160V2251M1694.7 2160V2242M1729.4 2189.4V2253.4M1767.5 2155.8V2244.1M1799 2203.8V2257M1833.7 2174.4V2254M1868.5 2184.6V2254M1903.3 2209.8V2253.1" stroke="#2e2e2e" stroke-width="1.1" fill="none"/>
<path d="M1517.8 2199h5.9V2228.5h-5.9zM1552.9 2208h11.9V2238.4h-11.9zM1587.4 2218.5h5.9V2245.3h-5.9zM1622.2 2198.7h7.9V2246.5h-7.9zM1657.2 2203.5h11.9V2238.4h-11.9zM1691.7 2196.3h5.9V2231.5h-5.9zM1726.5 2221.8h5.9V2244.1h-5.9zM1761.5 2181.6h11.9V2225.5h-11.9zM1796 2229.1h5.9V2248.3h-5.9zM1830.8 2210.1h5.9V2234.2h-5.9zM1865.5 2217.6h5.9V2243.5h-5.9zM1900.3 2222.4h5.9V2244.1h-5.9z" stroke="#2e2e2e" stroke-width="1.1" fill="#6dc96d"/>
<path d="M1517.8 2211h5.9M1552.9 2229.7h11.9M1587.4 2236h5.9M1622.2 2218.5h7.9M1657.2 2220.9h11.9M1691.7 2214h5.9M1726.5 2232.4h5.9M1761.5 2210.4h11.9M1796 2241.4h5.9M1830.8 2226.4h5.9M1865.5 2231.8h5.9M1900.3 2230h5.9" stroke="#2e2e2e" stroke-width="2.1" fill="none"/>
<path d="M1527.4 2184V2253.4M1596.9 2196.6V2254M1635 2193V2255.5M1701.3 2179.5V2252.5M1736 2204.4V2255.5M1805.6 2185.5V2244.4M1840.3 2191.5V2253.4M1875.1 2169.9V2254.9M1909.9 2167.8V2237.5" stroke="#2e2e2e" stroke-width="1.1" fill="none"/>
<path d="M1524.4 2215.8h5.9V2238.4h-5.9zM1594 2224.5h5.9V2245.6h-5.9zM1631 2221.8h7.9V2244.4h-7.9zM1698.3 2213.1h5.9V2245.3h-5.9zM1733.1 2232.1h5.9V2251h-5.9zM1802.6 2213.7h5.9V2236h-5.9zM1837.4 2218.5h5.9V2243.2h-5.9zM1872.1 2213.4h5.9V2248h-5.9zM1906.9 2200.8h5.9V2228.2h-5.9z" stroke="#2e2e2e" stroke-width="1.1" fill="#666666"/>
<path d="M1524.4 2229.4h5.9M1594 2236h5.9M1631 2236.9h7.9M1698.3 2236h5.9M1733.1 2247.4h5.9M1802.6 2230h5.9M1837.4 2234.2h5.9M1872.1 2236.3h5.9M1906.9 2219.7h5.9" stroke="#2e2e2e" stroke-width="2.1" fill="none"/>
<path d="M1534 2158.2V2250.4M1572.1 2156.4V2256.1M1603.5 2231.5V2257.6M1676.4 2181.9V2253.4M1707.9 2152.7V2254M1742.6 2162.4V2250.1M1780.7 2169.3V2254M1812.2 2207.4V2260M1846.9 2182.8V2212.5M1881.7 2233.3V2251.9M1916.5 2179.8V2255.5" stroke="#2e2e2e" stroke-width="1.1" fill="none"/>
<path d="M1531 2179.2h5.9V2229.4h-5.9zM1566.1 2209.8h11.9V2246.2h-11.9zM1600.6 2238.4h5.9V2253.4h-5.9zM1670.4 2211.6h11.9V2240.2h-11.9zM1704.9 2201.1h5.9V2239.6h-5.9zM1739.7 2196.3h5.9V2240.2h-5.9zM1774.8 2210.7h11.9V2239.6h-11.9zM1809.2 2233.9h5.9V2253.1h-5.9zM1844 2191.5h5.9V2211.9h-5.9zM1878.7 2236.3h5.9V2250.4h-5.9zM1913.5 2217.3h5.9V2242.9h-5.9z" stroke="#2e2e2e" stroke-width="1.1" fill="#e0e65a"/>
<path d="M1531 2197.8h5.9M1566.1 2236.3h11.9M1600.6 2245.6h5.9M1670.4 2227.9h11.9M1704.9 2226.4h5.9M1739.7 2226.4h5.9M1774.8 2229.4h11.9M1809.2 2245.6h5.9M1844 2202.6h5.9M1878.7 2245.6h5.9M1913.5 2235.1h5.9" stroke="#2e2e2e" stroke-width="2.1" fill="none"/>
<path d="M1540.6 2198.4V2252.5M1610.1 2187.3V2255.5M1643.8 2216.1V2257.6M1714.5 2205V2255.5M1749.2 2223V2259.4M1818.8 2219.7V2248.9M1853.5 2188.5V2257.9M1888.3 2216.4V2254.6M1923.1 2203.5V2256.4" stroke="#2e2e2e" stroke-width="1.1" fill="none"/>
<path d="M1537.6 2225.8h5.9V2247.1h-5.9zM1607.2 2224.2h5.9V2249.5h-5.9zM1639.8 2235.1h7.9V2251.9h-7.9zM1711.5 2229.4h5.9V2245.6h-5.9zM1746.2 2238.7h5.9V2251.9h-5.9zM1815.8 2228.8h5.9V2241.4h-5.9zM1850.6 2221.8h5.9V2247.1h-5.9zM1885.3 2230.6h5.9V2246.5h-5.9zM1920.1 2227.3h5.9V2247.4h-5.9z" stroke="#2e2e2e" stroke-width="1.1" fill="#f0f0f0"/>
<path d="M1537.6 2241.4h5.9M1607.2 2244.1h5.9M1639.8 2246.5h7.9M1711.5 2240.5h5.9M1746.2 2245h5.9M1815.8 2236h5.9M1850.6 2239h5.9M1885.3 2241.4h5.9M1920.1 2236.6h5.9" stroke="#2e2e2e" stroke-width="2.1" fill="none"/>
<path d="M1510.6 2141.3V2265.4H1933.6" stroke="#222" stroke-width="1.25" fill="none"/>
<path d="M1506.6 2156.4h4M1506.6 2192.4h4M1506.6 2228.8h4M1506.6 2265.1h4" stroke="#2e2e2e" stroke-width="1.1"/>
<text x="1504.6" y="2161.9" font-size="15.5" text-anchor="end" fill="#4d4d4d">6</text>
<text x="1504.6" y="2197.9" font-size="15.5" text-anchor="end" fill="#4d4d4d">4</text>
<text x="1504.6" y="2234.3" font-size="15.5" text-anchor="end" fill="#4d4d4d">2</text>
<text x="1504.6" y="2270.6" font-size="15.5" text-anchor="end" fill="#4d4d4d">0</text>
<path d="M1530.7 2265.4v4M1565.5 2265.4v4M1600.2 2265.4v4M1635 2265.4v4M1669.8 2265.4v4M1704.6 2265.4v4M1739.3 2265.4v4M1774.1 2265.4v4M1808.9 2265.4v4M1843.6 2265.4v4M1878.4 2265.4v4M1913.2 2265.4v4" stroke="#2e2e2e" stroke-width="1.1"/>
<text x="1530.7" y="2282.6" font-size="17" text-anchor="middle" fill="#4d4d4d">A</text>
<text x="1565.5" y="2282.6" font-size="17" text-anchor="middle" fill="#4d4d4d">E</text>
<text x="1600.2" y="2282.6" font-size="17" text-anchor="middle" fill="#4d4d4d">G</text>
<text x="1635" y="2282.6" font-size="17" text-anchor="middle" fill="#4d4d4d">I</text>
<text x="1669.8" y="2282.6" font-size="17" text-anchor="middle" fill="#4d4d4d">K</text>
<text x="1704.6" y="2282.6" font-size="17" text-anchor="middle" fill="#4d4d4d">L</text>
<text x="1739.3" y="2282.6" font-size="17" text-anchor="middle" fill="#4d4d4d">P</text>
<text x="1774.1" y="2282.6" font-size="17" text-anchor="middle" fill="#4d4d4d">Q</text>
<text x="1808.9" y="2282.6" font-size="17" text-anchor="middle" fill="#4d4d4d">R</text>
<text x="1843.6" y="2282.6" font-size="17" text-anchor="middle" fill="#4d4d4d">S</text>
<text x="1878.4" y="2282.6" font-size="17" text-anchor="middle" fill="#4d4d4d">T</text>
<text x="1913.2" y="2282.6" font-size="17" text-anchor="middle" fill="#4d4d4d">V</text>
<text x="1722.4" y="2144.9" font-size="16" text-anchor="middle">SJ6986</text>
<text x="1516.6" y="2150.3" font-size="14.8">p=9e^-6</text>
<text x="1493.6" y="2303.8" font-size="20" text-anchor="middle">Aminoacid upstream of the UGA</text>
<text font-size="20.3" text-anchor="middle" transform="translate(1019,2113.5) rotate(-90)">Readthrough (%)</text>
<text x="1008.5" y="1950.6" font-size="23.2" font-weight="bold" font-family="DejaVu Sans, sans-serif">i</text>
<text x="1352.9" y="1948" font-size="15">Nt upstream UGA</text>
<path d="M1488 1935.3V1949.7" stroke="#2e2e2e" stroke-width="1.15"/>
<rect x="1481.4" y="1937.7" width="13.2" height="9.6" fill="#6dc96d" stroke="#2e2e2e" stroke-width="1.15"/>
<path d="M1481.4 1942.5h13.2" stroke="#2e2e2e" stroke-width="1.2075"/>
<text x="1503.7" y="1946.5" font-size="11">A</text>
<path d="M1528.3 1935.3V1949.7" stroke="#2e2e2e" stroke-width="1.15"/>
<rect x="1521.7" y="1937.7" width="13.2" height="9.6" fill="#666666" stroke="#2e2e2e" stroke-width="1.15"/>
<path d="M1521.7 1942.5h13.2" stroke="#2e2e2e" stroke-width="1.2075"/>
<text x="1545.1" y="1946.5" font-size="11">C</text>
<path d="M1569.4 1935.3V1949.7" stroke="#2e2e2e" stroke-width="1.15"/>
<rect x="1562.8" y="1937.7" width="13.2" height="9.6" fill="#e0e65a" stroke="#2e2e2e" stroke-width="1.15"/>
<path d="M1562.8 1942.5h13.2" stroke="#2e2e2e" stroke-width="1.2075"/>
<text x="1586.3" y="1946.5" font-size="11">G</text>
<path d="M1610.9 1935.3V1949.7" stroke="#2e2e2e" stroke-width="1.15"/>
<rect x="1604.3" y="1937.7" width="13.2" height="9.6" fill="#f0f0f0" stroke="#2e2e2e" stroke-width="1.15"/>
<path d="M1604.3 1942.5h13.2" stroke="#2e2e2e" stroke-width="1.2075"/>
<text x="1627.7" y="1946.5" font-size="11">U</text>
<rect x="22.8" y="2403.3" width="321.8" height="17" fill="#f08a92"/>
<path d="M22.8 2403.3H344.6V2556.1H22.8zM22.8 2420.3H344.6M99.3 2403.3V2556.1M192 2403.3V2556.1M268.3 2403.3V2556.1" stroke="#1a1a1a" stroke-width="1.1" fill="none"/>
<text x="61.1" y="2414.1" font-size="10.2" text-anchor="middle" font-weight="bold" font-family="DejaVu Sans, sans-serif">Same aa</text>
<text x="145.7" y="2414.1" font-size="10.2" text-anchor="middle" font-weight="bold" font-family="DejaVu Sans, sans-serif">Different aa</text>
<text x="230" y="2414.1" font-size="10.2" text-anchor="middle" font-weight="bold" font-family="DejaVu Sans, sans-serif">pvalue</text>
<text x="306.6" y="2414.1" font-size="10.2" text-anchor="middle" font-weight="bold" font-family="DejaVu Sans, sans-serif">Drug</text>
<text x="61.1" y="2431.3" font-size="10.8" text-anchor="middle" font-family="DejaVu Sans, sans-serif">0.057</text>
<text x="145.7" y="2431.3" font-size="10.8" text-anchor="middle" font-family="DejaVu Sans, sans-serif">0.0735</text>
<text x="230" y="2431.3" font-size="10.8" text-anchor="middle" font-family="DejaVu Sans, sans-serif">0.1326</text>
<text x="306.6" y="2431.3" font-size="10.8" text-anchor="middle" font-family="DejaVu Sans, sans-serif">FUr</text>
<text x="61.1" y="2448.2" font-size="10.8" text-anchor="middle" font-family="DejaVu Sans, sans-serif">0.0621</text>
<text x="145.7" y="2448.2" font-size="10.8" text-anchor="middle" font-family="DejaVu Sans, sans-serif">0.079</text>
<text x="230" y="2448.2" font-size="10.8" text-anchor="middle" font-family="DejaVu Sans, sans-serif">0.0376</text>
<text x="306.6" y="2448.2" font-size="10.8" text-anchor="middle" font-family="DejaVu Sans, sans-serif">Gentamicin</text>
<text x="61.1" y="2465.1" font-size="10.8" text-anchor="middle" font-family="DejaVu Sans, sans-serif">0.1096</text>
<text x="145.7" y="2465.1" font-size="10.8" text-anchor="middle" font-family="DejaVu Sans, sans-serif">0.1255</text>
<text x="230" y="2465.1" font-size="10.8" text-anchor="middle" font-family="DejaVu Sans, sans-serif">0.7506</text>
<text x="306.6" y="2465.1" font-size="10.8" text-anchor="middle" font-family="DejaVu Sans, sans-serif">CC90009</text>
<text x="61.1" y="2482" font-size="10.8" text-anchor="middle" font-family="DejaVu Sans, sans-serif">0.2751</text>
<text x="145.7" y="2482" font-size="10.8" text-anchor="middle" font-family="DejaVu Sans, sans-serif">0.3379</text>
<text x="230" y="2482" font-size="10.8" text-anchor="middle" font-family="DejaVu Sans, sans-serif">0.0442</text>
<text x="306.6" y="2482" font-size="10.8" text-anchor="middle" font-family="DejaVu Sans, sans-serif">G418</text>
<text x="61.1" y="2498.9" font-size="10.8" text-anchor="middle" font-family="DejaVu Sans, sans-serif">0.1906</text>
<text x="145.7" y="2498.9" font-size="10.8" text-anchor="middle" font-family="DejaVu Sans, sans-serif">0.2337</text>
<text x="230" y="2498.9" font-size="10.8" text-anchor="middle" font-family="DejaVu Sans, sans-serif">0.083</text>
<text x="306.6" y="2498.9" font-size="10.8" text-anchor="middle" font-family="DejaVu Sans, sans-serif">Clitocine</text>
<text x="61.1" y="2515.9" font-size="10.8" text-anchor="middle" font-family="DejaVu Sans, sans-serif">0.404</text>
<text x="145.7" y="2515.9" font-size="10.8" text-anchor="middle" font-family="DejaVu Sans, sans-serif">0.4896</text>
<text x="230" y="2515.9" font-size="10.8" text-anchor="middle" font-family="DejaVu Sans, sans-serif">0.0544</text>
<text x="306.6" y="2515.9" font-size="10.8" text-anchor="middle" font-family="DejaVu Sans, sans-serif">DAP</text>
<text x="61.1" y="2532.8" font-size="10.8" text-anchor="middle" font-family="DejaVu Sans, sans-serif">0.5064</text>
<text x="145.7" y="2532.8" font-size="10.8" text-anchor="middle" font-family="DejaVu Sans, sans-serif">0.5151</text>
<text x="230" y="2532.8" font-size="10.8" text-anchor="middle" font-family="DejaVu Sans, sans-serif">0.8736</text>
<text x="306.6" y="2532.8" font-size="10.8" text-anchor="middle" font-family="DejaVu Sans, sans-serif">SJ6986</text>
<text x="61.1" y="2549.7" font-size="10.8" text-anchor="middle" font-family="DejaVu Sans, sans-serif">0.5191</text>
<text x="145.7" y="2549.7" font-size="10.8" text-anchor="middle" font-family="DejaVu Sans, sans-serif">0.5688</text>
<text x="230" y="2549.7" font-size="10.8" text-anchor="middle" font-family="DejaVu Sans, sans-serif">0.4443</text>
<text x="306.6" y="2549.7" font-size="10.8" text-anchor="middle" font-family="DejaVu Sans, sans-serif">SRI</text>
<text x="23" y="2385.2" font-size="23.2" font-weight="bold" font-family="DejaVu Sans, sans-serif">j</text>
<path d="M480.8 2450.3C482.8 2449.9 489.3 2450.2 492.7 2448.2C496.1 2446.2 498.3 2443.6 501.1 2438.5C504 2433.3 506.8 2425.1 509.6 2417.3C512.4 2409.5 515.2 2399 518.1 2391.9C520.9 2384.9 523.7 2378.9 526.5 2375C529.4 2371.1 532.2 2369.9 535 2368.7C537.8 2367.4 539.9 2367.6 543.5 2367.4C547 2367.2 551.9 2366.8 556.1 2367.4C560.4 2367.9 563.9 2370.1 568.8 2370.8C573.8 2371.5 580.8 2370.9 585.8 2371.6C590.7 2372.3 594.2 2373.6 598.4 2375C602.7 2376.4 606.9 2377.6 611.1 2380.1C615.4 2382.5 618.9 2386.8 623.8 2389.8C628.8 2392.8 635.1 2394.7 640.8 2398.3C646.4 2401.8 652 2407.6 657.7 2411C663.3 2414.3 669 2416 674.6 2418.1C680.2 2420.3 685.9 2422 691.5 2423.6C697.2 2425.3 702.8 2426.4 708.4 2427.9C714.1 2429.4 719.7 2431.3 725.4 2432.5C731 2433.7 736.6 2434.3 742.3 2435.1C747.9 2435.8 753.6 2436.9 759.2 2437.2C764.8 2437.5 771.5 2436.3 776.1 2436.8C780.7 2437.2 782.5 2438.6 786.7 2439.7C790.9 2440.9 796.2 2442.8 801.5 2443.5C806.8 2444.3 812.8 2444.2 818.4 2444.4C824.1 2444.5 829 2444.1 835.4 2444.4C841.7 2444.7 850.2 2445.9 856.5 2446.1C862.9 2446.2 867.8 2445.2 873.4 2445.2C879.1 2445.3 884 2445.9 890.4 2446.5C896.7 2447.1 903 2448.4 911.5 2449C920 2449.7 923.5 2450 941.1 2450.3C958.7 2450.6 1004.6 2450.7 1017.3 2450.7L1017.3 2450.7L480.8 2450.7z" fill="#b3b3b3" stroke="none"/>
<path d="M480.8 2450.3C482.8 2449.9 489.3 2450.2 492.7 2448.2C496.1 2446.2 498.3 2443.6 501.1 2438.5C504 2433.3 506.8 2425.1 509.6 2417.3C512.4 2409.5 515.2 2399 518.1 2391.9C520.9 2384.9 523.7 2378.9 526.5 2375C529.4 2371.1 532.2 2369.9 535 2368.7C537.8 2367.4 539.9 2367.6 543.5 2367.4C547 2367.2 551.9 2366.8 556.1 2367.4C560.4 2367.9 563.9 2370.1 568.8 2370.8C573.8 2371.5 580.8 2370.9 585.8 2371.6C590.7 2372.3 594.2 2373.6 598.4 2375C602.7 2376.4 606.9 2377.6 611.1 2380.1C615.4 2382.5 618.9 2386.8 623.8 2389.8C628.8 2392.8 635.1 2394.7 640.8 2398.3C646.4 2401.8 652 2407.6 657.7 2411C663.3 2414.3 669 2416 674.6 2418.1C680.2 2420.3 685.9 2422 691.5 2423.6C697.2 2425.3 702.8 2426.4 708.4 2427.9C714.1 2429.4 719.7 2431.3 725.4 2432.5C731 2433.7 736.6 2434.3 742.3 2435.1C747.9 2435.8 753.6 2436.9 759.2 2437.2C764.8 2437.5 771.5 2436.3 776.1 2436.8C780.7 2437.2 782.5 2438.6 786.7 2439.7C790.9 2440.9 796.2 2442.8 801.5 2443.5C806.8 2444.3 812.8 2444.2 818.4 2444.4C824.1 2444.5 829 2444.1 835.4 2444.4C841.7 2444.7 850.2 2445.9 856.5 2446.1C862.9 2446.2 867.8 2445.2 873.4 2445.2C879.1 2445.3 884 2445.9 890.4 2446.5C896.7 2447.1 903 2448.4 911.5 2449C920 2449.7 923.5 2450 941.1 2450.3C958.7 2450.6 1004.6 2450.7 1017.3 2450.7" fill="none" stroke="#111" stroke-width="1.1"/>
<path d="M480.8 2553.5C482.1 2552.7 485.8 2551.8 488.5 2548.4C491.1 2545.1 494.1 2540.7 496.9 2533.6C499.7 2526.6 502.6 2515.7 505.4 2506.1C508.2 2496.6 511 2483.9 513.8 2476.5C516.7 2469.1 519.8 2465.4 522.3 2461.7C524.8 2458.1 526.5 2455.9 528.6 2454.5C530.8 2453.2 532.5 2453.2 535 2453.7C537.5 2454.2 540.6 2456.2 543.5 2457.5C546.3 2458.8 548.4 2460.3 551.9 2461.7C555.4 2463.1 560.4 2463.8 564.6 2466C568.8 2468.1 573.1 2471.2 577.3 2474.4C581.5 2477.6 585.8 2481.7 590 2485C594.2 2488.3 597.7 2491.1 602.7 2494.3C607.6 2497.5 614 2501 619.6 2504C625.2 2507.1 630.9 2509.7 636.5 2512.5C642.2 2515.3 647.8 2518.5 653.4 2521C659.1 2523.4 664.7 2525.5 670.4 2527.3C676 2529.1 681.6 2530.1 687.3 2531.5C692.9 2532.9 698.6 2534.5 704.2 2535.8C709.9 2537 715.5 2538.4 721.1 2539.1C726.8 2539.8 732.8 2539.8 738.1 2540C743.3 2540.1 747.9 2539.4 752.9 2540C757.8 2540.6 762.4 2542.5 767.7 2543.4C773 2544.2 779 2544.5 784.6 2545.1C790.2 2545.6 795.2 2546.2 801.5 2546.8C807.9 2547.3 815.6 2547.8 822.7 2548.4C829.7 2549.1 836.8 2550.1 843.8 2550.6C850.9 2551 857.2 2551 865 2551C872.7 2551 881.9 2550.4 890.4 2550.6C898.8 2550.7 907.3 2551.5 915.7 2551.8C924.2 2552.2 932 2552.4 941.1 2552.7C950.3 2553 958 2553.3 970.7 2553.5C983.4 2553.7 1009.5 2553.9 1017.3 2553.9L1017.3 2554L480.8 2554z" fill="#b3b3b3" stroke="none"/>
<path d="M480.8 2553.5C482.1 2552.7 485.8 2551.8 488.5 2548.4C491.1 2545.1 494.1 2540.7 496.9 2533.6C499.7 2526.6 502.6 2515.7 505.4 2506.1C508.2 2496.6 511 2483.9 513.8 2476.5C516.7 2469.1 519.8 2465.4 522.3 2461.7C524.8 2458.1 526.5 2455.9 528.6 2454.5C530.8 2453.2 532.5 2453.2 535 2453.7C537.5 2454.2 540.6 2456.2 543.5 2457.5C546.3 2458.8 548.4 2460.3 551.9 2461.7C555.4 2463.1 560.4 2463.8 564.6 2466C568.8 2468.1 573.1 2471.2 577.3 2474.4C581.5 2477.6 585.8 2481.7 590 2485C594.2 2488.3 597.7 2491.1 602.7 2494.3C607.6 2497.5 614 2501 619.6 2504C625.2 2507.1 630.9 2509.7 636.5 2512.5C642.2 2515.3 647.8 2518.5 653.4 2521C659.1 2523.4 664.7 2525.5 670.4 2527.3C676 2529.1 681.6 2530.1 687.3 2531.5C692.9 2532.9 698.6 2534.5 704.2 2535.8C709.9 2537 715.5 2538.4 721.1 2539.1C726.8 2539.8 732.8 2539.8 738.1 2540C743.3 2540.1 747.9 2539.4 752.9 2540C757.8 2540.6 762.4 2542.5 767.7 2543.4C773 2544.2 779 2544.5 784.6 2545.1C790.2 2545.6 795.2 2546.2 801.5 2546.8C807.9 2547.3 815.6 2547.8 822.7 2548.4C829.7 2549.1 836.8 2550.1 843.8 2550.6C850.9 2551 857.2 2551 865 2551C872.7 2551 881.9 2550.4 890.4 2550.6C898.8 2550.7 907.3 2551.5 915.7 2551.8C924.2 2552.2 932 2552.4 941.1 2552.7C950.3 2553 958 2553.3 970.7 2553.5C983.4 2553.7 1009.5 2553.9 1017.3 2553.9" fill="none" stroke="#111" stroke-width="1.1"/>
<path d="M480.8 2649.1C481.8 2646.5 484.7 2642.1 486.3 2633.1C488 2624 489.2 2609.1 490.6 2595C492 2580.9 493.4 2563.3 494.8 2548.4C496.2 2533.6 497.6 2518.1 499 2506.1C500.4 2494.2 501.9 2484.3 503.3 2476.5C504.7 2468.8 506.1 2463.7 507.5 2459.6C508.9 2455.5 510.5 2453.5 511.7 2452C512.9 2450.4 513.6 2449.9 514.7 2450.3C515.7 2450.7 516.8 2451.2 518.1 2454.5C519.3 2457.8 520.2 2462.3 522.3 2470.2C524.4 2478.1 527.9 2491.7 530.8 2501.9C533.6 2512.1 536.4 2522 539.2 2531.5C542 2541 544.9 2550.6 547.7 2559C550.5 2567.5 553.3 2575.6 556.1 2582.3C559 2589 561.8 2594.6 564.6 2599.2C567.4 2603.8 569.5 2606.3 573.1 2609.8C576.6 2613.3 581.5 2617.2 585.8 2620.4C590 2623.5 594.2 2626.5 598.4 2628.8C602.7 2631.2 606.9 2632.6 611.1 2634.3C615.4 2636.1 619.6 2637.9 623.8 2639.4C628.1 2641 631.6 2642.4 636.5 2643.6C641.5 2644.8 647.8 2645.8 653.4 2646.6C659.1 2647.4 664 2648.3 670.4 2648.7C676.7 2649.1 685.2 2648.6 691.5 2649.1C697.9 2649.7 702.1 2651.4 708.4 2652.1C714.8 2652.8 722.5 2652.9 729.6 2653.4C736.6 2653.9 743.7 2654.8 750.7 2655.1C757.8 2655.3 764.8 2654.9 771.9 2655.1C779 2655.2 783.9 2655.8 793.1 2655.9C802.2 2656 816.3 2655.3 826.9 2655.5C837.5 2655.7 845.9 2657 856.5 2657.2C867.1 2657.4 876.3 2656.7 890.4 2656.8C904.5 2656.8 920 2657.5 941.1 2657.6C962.3 2657.7 1004.6 2657.6 1017.3 2657.6L1017.3 2657.6L480.8 2657.6z" fill="#b3b3b3" stroke="none"/>
<path d="M480.8 2649.1C481.8 2646.5 484.7 2642.1 486.3 2633.1C488 2624 489.2 2609.1 490.6 2595C492 2580.9 493.4 2563.3 494.8 2548.4C496.2 2533.6 497.6 2518.1 499 2506.1C500.4 2494.2 501.9 2484.3 503.3 2476.5C504.7 2468.8 506.1 2463.7 507.5 2459.6C508.9 2455.5 510.5 2453.5 511.7 2452C512.9 2450.4 513.6 2449.9 514.7 2450.3C515.7 2450.7 516.8 2451.2 518.1 2454.5C519.3 2457.8 520.2 2462.3 522.3 2470.2C524.4 2478.1 527.9 2491.7 530.8 2501.9C533.6 2512.1 536.4 2522 539.2 2531.5C542 2541 544.9 2550.6 547.7 2559C550.5 2567.5 553.3 2575.6 556.1 2582.3C559 2589 561.8 2594.6 564.6 2599.2C567.4 2603.8 569.5 2606.3 573.1 2609.8C576.6 2613.3 581.5 2617.2 585.8 2620.4C590 2623.5 594.2 2626.5 598.4 2628.8C602.7 2631.2 606.9 2632.6 611.1 2634.3C615.4 2636.1 619.6 2637.9 623.8 2639.4C628.1 2641 631.6 2642.4 636.5 2643.6C641.5 2644.8 647.8 2645.8 653.4 2646.6C659.1 2647.4 664 2648.3 670.4 2648.7C676.7 2649.1 685.2 2648.6 691.5 2649.1C697.9 2649.7 702.1 2651.4 708.4 2652.1C714.8 2652.8 722.5 2652.9 729.6 2653.4C736.6 2653.9 743.7 2654.8 750.7 2655.1C757.8 2655.3 764.8 2654.9 771.9 2655.1C779 2655.2 783.9 2655.8 793.1 2655.9C802.2 2656 816.3 2655.3 826.9 2655.5C837.5 2655.7 845.9 2657 856.5 2657.2C867.1 2657.4 876.3 2656.7 890.4 2656.8C904.5 2656.8 920 2657.5 941.1 2657.6C962.3 2657.7 1004.6 2657.6 1017.3 2657.6" fill="none" stroke="#111" stroke-width="1.1"/>
<path d="M454.4 2367.4V2657.6H1043.9" stroke="#222" stroke-width="1.25" fill="none"/>
<path d="M450.4 2450.7h4M450.4 2554h4M450.4 2657.6h4" stroke="#2e2e2e" stroke-width="1.1"/>
<text x="447.9" y="2456.2" font-size="15.3" text-anchor="end" fill="#4d4d4d">20µM</text>
<text x="447.9" y="2559.5" font-size="15.3" text-anchor="end" fill="#4d4d4d">5µM</text>
<text x="447.9" y="2663.1" font-size="15.3" text-anchor="end" fill="#4d4d4d">0.5µM</text>
<path d="M480.8 2657.6v4M634 2657.6v4M787.5 2657.6v4M941.1 2657.6v4" stroke="#2e2e2e" stroke-width="1.1"/>
<text x="480.8" y="2676.5" font-size="15.3" text-anchor="middle" fill="#4d4d4d">0</text>
<text x="634" y="2676.5" font-size="15.3" text-anchor="middle" fill="#4d4d4d">2</text>
<text x="787.5" y="2676.5" font-size="15.3" text-anchor="middle" fill="#4d4d4d">4</text>
<text x="941.1" y="2676.5" font-size="15.3" text-anchor="middle" fill="#4d4d4d">6</text>
<text x="748.6" y="2701.5" font-size="21" text-anchor="middle">Readthrough (%)</text>
<text font-size="20.5" text-anchor="middle" transform="translate(399.5,2512) rotate(-90)">Density</text>
<text x="387.5" y="2388.5" font-size="23.2" font-weight="bold" font-family="DejaVu Sans, sans-serif">k</text>
<path d="M1206.8 2588.1h0M1242.4 2531.7h0M1290.4 2539.8h0M1243.9 2523.7h0M1220.7 2580.1h0M1200.5 2598.9h0M1191.2 2615h0M1231.5 2545.2h0M1305.9 2480.7h0M1236.2 2547.9h0M1268.8 2539.8h0M1188.1 2572h0M1186.6 2580.1h0M1338.5 2424.4h0M1236.2 2553.2h0M1267.2 2515.6h0M1192.8 2564h0M1214.5 2580.1h0M1216 2593.5h0M1194.3 2566.6h0M1226.9 2547.9h0M1253.2 2507.6h0M1203.6 2561.3h0M1261 2478.1h0M1292 2542.5h0M1253.2 2539.8h0M1212.9 2577.4h0M1355.5 2410.9h0M1264.1 2510.3h0M1242.4 2553.2h0M1191.2 2598.9h0M1222.2 2550.5h0M1321.4 2480.7h0M1310.6 2510.3h0M1208.3 2558.6h0M1298.2 2402.9h0M1222.2 2588.1h0M1149.4 2617.7h0M1256.3 2539.8h0M1228.4 2561.3h0M1214.5 2558.6h0M1168 2590.8h0M1206.8 2609.6h0M1282.7 2531.7h0M1285.8 2478.1h0M1192.8 2569.3h0M1254.8 2526.4h0M1271.8 2534.4h0M1160.2 2598.9h0M1178.8 2620.3h0M1236.2 2569.3h0M1160.2 2631.1h0M1197.4 2604.2h0M1233.1 2564h0M1152.5 2612.3h0M1223.8 2526.4h0M1264.1 2467.3h0M1327.6 2518.3h0M1330.8 2448.5h0M1223.8 2531.7h0M1217.6 2574.7h0M1248.6 2553.2h0M1288.9 2521h0M1287.3 2480.7h0M1333.8 2443.2h0M1237.8 2555.9h0M1239.3 2558.6h0M1216 2555.9h0M1191.2 2604.2h0M1202.1 2612.3h0M1195.9 2623h0M1230 2569.3h0M1270.3 2553.2h0M1231.5 2550.5h0M1199 2623h0M1197.4 2598.9h0M1203.6 2588.1h0M1253.2 2550.5h0M1211.4 2580.1h0M1296.6 2534.4h0M1287.3 2475.4h0M1195.9 2596.2h0M1214.5 2569.3h0M1290.4 2496.8h0M1231.5 2529.1h0M1310.6 2456.6h0M1309 2459.3h0M1158.7 2633.8h0M1209.8 2545.2h0M1168 2596.2h0M1226.9 2601.5h0M1316.8 2456.6h0M1236.2 2526.4h0M1223.8 2569.3h0M1240.8 2518.3h0M1349.3 2459.3h0M1164.9 2639.1h0M1247 2513h0M1147.8 2636.4h0M1228.4 2529.1h0M1259.4 2507.6h0M1295.1 2494.2h0M1163.3 2593.5h0M1288.9 2478.1h0M1199 2547.9h0M1155.6 2633.8h0M1230 2547.9h0M1230 2521h0M1168 2585.4h0M1245.5 2537.1h0M1214.5 2574.7h0M1214.5 2596.2h0M1253.2 2518.3h0M1137 2639.1h0M1242.4 2542.5h0M1284.2 2459.3h0M1219.1 2561.3h0M1279.6 2504.9h0M1222.2 2577.4h0M1326.1 2472.7h0M1209.8 2534.4h0M1225.3 2513h0M1225.3 2545.2h0M1223.8 2585.4h0M1332.3 2499.5h0M1228.4 2545.2h0M1278 2496.8h0M1219.1 2582.8h0M1264.1 2547.9h0M1195.9 2542.5h0M1203.6 2555.9h0M1230 2531.7h0M1219.1 2588.1h0M1228.4 2539.8h0M1226.9 2553.2h0M1279.6 2461.9h0M1242.4 2547.9h0M1236.2 2542.5h0M1261 2504.9h0M1330.8 2486.1h0M1250.1 2539.8h0M1143.2 2623h0M1171.1 2590.8h0M1209.8 2555.9h0M1164.9 2596.2h0M1216 2539.8h0M1284.2 2486.1h0M1219.1 2566.6h0M1288.9 2435.1h0M1290.4 2486.1h0M1233.1 2547.9h0M1205.2 2553.2h0M1315.2 2453.9h0M1288.9 2494.2h0M1216 2577.4h0M1181.9 2577.4h0M1208.3 2553.2h0M1264.1 2521h0M1212.9 2561.3h0M1231.5 2566.6h0M1180.4 2574.7h0M1282.7 2472.7h0M1240.8 2555.9h0M1301.3 2451.2h0M1230 2542.5h0M1239.3 2526.4h0M1155.6 2606.9h0M1264.1 2504.9h0M1230 2494.2h0M1278 2502.2h0M1231.5 2523.7h0M1233.1 2553.2h0M1281.1 2480.7h0M1158.7 2606.9h0M1230 2553.2h0M1243.9 2539.8h0M1240.8 2550.5h0M1171.1 2628.4h0M1329.2 2424.4h0M1194.3 2604.2h0M1149.4 2612.3h0M1216 2550.5h0M1205.2 2558.6h0M1202.1 2596.2h0M1261 2483.4h0M1259.4 2502.2h0M1189.7 2558.6h0M1239.3 2499.5h0M1276.5 2515.6h0M1254.8 2531.7h0M1226.9 2580.1h0M1220.7 2547.9h0M1256.3 2561.3h0M1164.9 2585.4h0M1230 2499.5h0M1261 2510.3h0M1281.1 2513h0M1352.4 2475.4h0M1273.4 2531.7h0M1245.5 2510.3h0M1191.2 2566.6h0M1248.6 2537.1h0M1270.3 2504.9h0M1285.8 2461.9h0M1203.6 2609.6h0M1247 2534.4h0M1220.7 2553.2h0M1264.1 2542.5h0M1214.5 2553.2h0M1219.1 2550.5h0M1240.8 2529.1h0M1160.2 2636.4h0M1245.5 2526.4h0M1259.4 2491.5h0M1287.3 2486.1h0M1209.8 2561.3h0M1206.8 2545.2h0M1302.8 2453.9h0M1267.2 2510.3h0M1256.3 2518.3h0M1195.9 2558.6h0M1247 2507.6h0M1225.3 2572h0M1309 2437.8h0M1261 2542.5h0M1214.5 2494.2h0M1203.6 2604.2h0M1202.1 2526.4h0M1181.9 2566.6h0M1302.8 2443.2h0M1212.9 2550.5h0M1237.8 2539.8h0M1223.8 2558.6h0M1223.8 2564h0M1222.2 2561.3h0M1262.5 2545.2h0M1344.7 2435.1h0M1178.8 2631.1h0M1185 2572h0M1188.1 2609.6h0M1346.2 2453.9h0M1222.2 2582.8h0M1157.1 2631.1h0M1212.9 2593.5h0M1253.2 2545.2h0M1310.6 2483.4h0M1146.3 2617.7h0M1202.1 2606.9h0M1301.3 2515.6h0M1212.9 2555.9h0M1236.2 2574.7h0M1254.8 2510.3h0M1164.9 2628.4h0M1202.1 2590.8h0M1243.9 2545.2h0M1225.3 2555.9h0M1262.5 2529.1h0M1203.6 2593.5h0M1174.2 2617.7h0M1138.5 2631.1h0M1270.3 2531.7h0M1233.1 2542.5h0M1307.5 2483.4h0M1265.6 2518.3h0M1233.1 2558.6h0M1202.1 2558.6h0M1344.7 2478.1h0M1251.7 2547.9h0M1284.2 2502.2h0M1194.3 2572h0M1273.4 2472.7h0M1194.3 2550.5h0M1326.1 2488.8h0M1166.4 2598.9h0M1161.8 2628.4h0M1245.5 2547.9h0M1222.2 2545.2h0M1225.3 2550.5h0M1146.3 2639.1h0M1223.8 2547.9h0M1205.2 2537.1h0M1299.8 2480.7h0M1239.3 2574.7h0M1296.6 2502.2h0M1234.6 2550.5h0M1233.1 2585.4h0M1234.6 2555.9h0M1223.8 2537.1h0M1206.8 2604.2h0M1192.8 2601.5h0M1265.6 2539.8h0M1150.9 2615h0M1243.9 2518.3h0M1157.1 2604.2h0M1181.9 2615h0M1199 2558.6h0M1279.6 2515.6h0M1293.5 2480.7h0M1226.9 2537.1h0M1253.2 2513h0M1168 2623h0M1228.4 2555.9h0M1245.5 2542.5h0M1270.3 2488.8h0M1166.4 2593.5h0M1247 2550.5h0M1206.8 2577.4h0M1191.2 2572h0M1180.4 2612.3h0M1240.8 2598.9h0M1230 2574.7h0M1265.6 2513h0M1343.1 2437.8h0M1220.7 2542.5h0M1265.6 2566.6h0M1233.1 2574.7h0M1242.4 2521h0M1243.9 2534.4h0M1304.4 2445.8h0M1174.2 2585.4h0M1223.8 2553.2h0M1267.2 2521h0M1259.4 2496.8h0M1273.4 2499.5h0M1160.2 2604.2h0M1231.5 2561.3h0M1141.6 2625.7h0M1254.8 2499.5h0M1315.2 2421.7h0M1211.4 2596.2h0M1257.9 2510.3h0M1222.2 2555.9h0M1217.6 2547.9h0M1208.3 2542.5h0M1217.6 2569.3h0M1274.9 2534.4h0M1228.4 2550.5h0M1236.2 2521h0M1239.3 2521h0M1302.8 2464.6h0M1172.6 2582.8h0M1185 2615h0M1261 2499.5h0M1186.6 2574.7h0M1217.6 2553.2h0M1253.2 2502.2h0M1239.3 2531.7h0M1211.4 2590.8h0M1234.6 2539.8h0M1191.2 2555.9h0M1338.5 2402.9h0M1206.8 2555.9h0M1200.5 2561.3h0M1220.7 2574.7h0M1175.8 2588.1h0M1299.8 2491.5h0M1195.9 2606.9h0M1219.1 2545.2h0M1234.6 2529.1h0M1267.2 2478.1h0M1214.5 2542.5h0M1177.3 2617.7h0M1194.3 2598.9h0M1313.7 2451.2h0M1177.3 2580.1h0M1175.8 2582.8h0M1178.8 2615h0M1284.2 2507.6h0M1234.6 2534.4h0M1171.1 2585.4h0M1270.3 2456.6h0M1248.6 2542.5h0M1237.8 2545.2h0M1267.2 2494.2h0M1268.8 2529.1h0M1274.9 2496.8h0M1313.7 2472.7h0M1230 2526.4h0M1186.6 2612.3h0M1202.1 2564h0M1245.5 2504.9h0M1285.8 2531.7h0M1137 2633.8h0M1296.6 2561.3h0M1206.8 2539.8h0M1330.8 2410.9h0M1259.4 2534.4h0M1200.5 2588.1h0M1178.8 2572h0M1212.9 2545.2h0M1242.4 2564h0M1287.3 2502.2h0M1281.1 2523.7h0M1225.3 2561.3h0M1211.4 2553.2h0M1326.1 2456.6h0M1243.9 2566.6h0M1324.5 2507.6h0M1200.5 2593.5h0M1278 2555.9h0M1253.2 2523.7h0M1335.4 2429.7h0M1293.5 2534.4h0M1256.3 2545.2h0M1240.8 2534.4h0M1250.1 2550.5h0M1195.9 2564h0M1264.1 2531.7h0M1180.4 2617.7h0M1209.8 2598.9h0M1259.4 2518.3h0M1284.2 2555.9h0M1304.4 2424.4h0M1298.2 2488.8h0M1234.6 2523.7h0M1257.9 2494.2h0M1318.3 2448.5h0M1216 2529.1h0M1177.3 2585.4h0M1216 2507.6h0M1199 2564h0M1304.4 2585.4h0M1236.2 2537.1h0M1316.8 2478.1h0M1270.3 2580.1h0M1197.4 2561.3h0M1237.8 2550.5h0M1350.9 2488.8h0M1247 2496.8h0M1197.4 2609.6h0M1264.1 2515.6h0M1262.5 2518.3h0M1304.4 2402.9h0M1231.5 2577.4h0M1242.4 2590.8h0M1240.8 2572h0M1278 2486.1h0M1281.1 2507.6h0M1309 2470h0M1273.4 2467.3h0M1323 2445.8h0M1312.1 2443.2h0M1188.1 2566.6h0M1211.4 2585.4h0M1206.8 2615h0M1181.9 2572h0M1243.9 2550.5h0M1281.1 2496.8h0M1323 2461.9h0M1251.7 2537.1h0M1222.2 2566.6h0M1225.3 2582.8h0M1329.2 2488.8h0M1240.8 2545.2h0M1183.5 2574.7h0M1225.3 2534.4h0M1234.6 2507.6h0M1299.8 2507.6h0M1270.3 2521h0M1209.8 2550.5h0M1285.8 2483.4h0M1256.3 2550.5h0M1222.2 2572h0M1181.9 2609.6h0M1278 2529.1h0M1237.8 2502.2h0M1234.6 2561.3h0M1251.7 2472.7h0M1205.2 2601.5h0M1220.7 2569.3h0M1273.4 2542.5h0M1248.6 2547.9h0M1292 2531.7h0M1199 2596.2h0M1282.7 2504.9h0M1228.4 2523.7h0M1217.6 2585.4h0M1163.3 2598.9h0M1245.5 2590.8h0M1242.4 2504.9h0M1341.6 2435.1h0M1197.4 2555.9h0M1248.6 2510.3h0M1237.8 2534.4h0M1172.6 2588.1h0M1245.5 2531.7h0M1226.9 2569.3h0M1225.3 2518.3h0M1274.9 2470h0M1233.1 2521h0M1161.8 2633.8h0M1268.8 2507.6h0M1357.1 2424.4h0M1236.2 2531.7h0M1307.5 2488.8h0M1247 2588.1h0M1206.8 2593.5h0M1251.7 2526.4h0M1299.8 2534.4h0M1216 2545.2h0M1228.4 2534.4h0M1180.4 2580.1h0M1282.7 2488.8h0M1285.8 2499.5h0M1233.1 2606.9h0M1248.6 2558.6h0M1287.3 2507.6h0M1242.4 2526.4h0M1236.2 2564h0M1216 2588.1h0M1243.9 2555.9h0M1250.1 2513h0M1301.3 2494.2h0M1282.7 2483.4h0M1200.5 2620.3h0M1250.1 2545.2h0M1228.4 2566.6h0M1217.6 2542.5h0M1243.9 2572h0M1189.7 2569.3h0M1223.8 2590.8h0M1177.3 2569.3h0M1234.6 2582.8h0M1228.4 2598.9h0M1177.3 2628.4h0M1333.8 2480.7h0M1279.6 2569.3h0M1309 2475.4h0M1202.1 2542.5h0M1273.4 2510.3h0M1247 2523.7h0M1209.8 2582.8h0M1166.4 2625.7h0M1285.8 2504.9h0M1161.8 2601.5h0M1309 2496.8h0M1276.5 2547.9h0M1214.5 2590.8h0M1278 2518.3h0M1166.4 2631.1h0M1205.2 2585.4h0M1217.6 2580.1h0M1281.1 2453.9h0M1247 2561.3h0M1295.1 2510.3h0M1247 2539.8h0M1295.1 2537.1h0M1336.9 2448.5h0M1281.1 2491.5h0M1230 2472.7h0M1332.3 2451.2h0M1152.5 2639.1h0M1271.8 2518.3h0M1164.9 2590.8h0M1240.8 2539.8h0M1284.2 2523.7h0M1274.9 2507.6h0M1243.9 2502.2h0M1265.6 2534.4h0M1257.9 2537.1h0M1172.6 2625.7h0M1205.2 2596.2h0M1254.8 2542.5h0M1302.8 2470h0M1305.9 2486.1h0M1268.8 2518.3h0M1212.9 2588.1h0M1239.3 2510.3h0M1209.8 2588.1h0M1250.1 2523.7h0M1231.5 2582.8h0M1316.8 2504.9h0M1335.4 2456.6h0M1279.6 2499.5h0M1199 2553.2h0M1226.9 2558.6h0M1149.4 2639.1h0M1273.4 2488.8h0M1332.3 2445.8h0M1211.4 2547.9h0M1248.6 2569.3h0M1150.9 2636.4h0M1211.4 2542.5h0M1223.8 2542.5h0M1312.1 2405.6h0M1346.2 2534.4h0M1310.6 2451.2h0M1293.5 2470h0M1278 2443.2h0M1199 2601.5h0M1271.8 2475.4h0M1237.8 2529.1h0M1268.8 2545.2h0M1212.9 2582.8h0M1192.8 2596.2h0M1279.6 2537.1h0M1223.8 2574.7h0M1185 2577.4h0M1324.5 2480.7h0M1208.3 2596.2h0M1261 2521h0M1242.4 2574.7h0M1234.6 2572h0M1239.3 2547.9h0M1318.3 2443.2h0M1154 2636.4h0M1279.6 2521h0M1194.3 2615h0M1259.4 2475.4h0M1261 2537.1h0M1169.5 2572h0M1250.1 2534.4h0M1296.6 2480.7h0M1200.5 2555.9h0M1284.2 2491.5h0M1169.5 2593.5h0M1267.2 2499.5h0M1234.6 2577.4h0M1281.1 2443.2h0M1278 2534.4h0M1169.5 2588.1h0M1285.8 2488.8h0M1243.9 2577.4h0M1208.3 2585.4h0M1219.1 2513h0M1216 2582.8h0M1219.1 2577.4h0M1226.9 2574.7h0M1195.9 2612.3h0M1264.1 2494.2h0M1248.6 2564h0M1186.6 2617.7h0M1154 2609.6h0M1150.9 2609.6h0M1267.2 2526.4h0M1278 2432.4h0M1243.9 2529.1h0M1254.8 2483.4h0M1312.1 2529.1h0M1296.6 2486.1h0M1248.6 2580.1h0M1199 2606.9h0M1181.9 2631.1h0M1211.4 2531.7h0M1240.8 2593.5h0M1304.4 2488.8h0M1164.9 2633.8h0M1253.2 2486.1h0M1290.4 2523.7h0M1208.3 2537.1h0M1236.2 2515.6h0M1304.4 2499.5h0M1242.4 2558.6h0M1225.3 2539.8h0M1284.2 2464.6h0M1271.8 2529.1h0M1169.5 2625.7h0M1192.8 2558.6h0M1231.5 2539.8h0M1236.2 2585.4h0M1197.4 2566.6h0M1273.4 2483.4h0M1254.8 2521h0M1199 2617.7h0M1214.5 2547.9h0M1248.6 2515.6h0M1257.9 2515.6h0M1208.3 2574.7h0M1157.1 2636.4h0M1141.6 2641.8h0M1200.5 2566.6h0M1228.4 2572h0M1168 2628.4h0M1243.9 2491.5h0M1295.1 2499.5h0M1346.2 2416.3h0M1222.2 2534.4h0M1245.5 2569.3h0M1262.5 2539.8h0M1265.6 2507.6h0M1237.8 2523.7h0M1220.7 2596.2h0M1318.3 2502.2h0M1290.4 2448.5h0M1254.8 2537.1h0M1288.9 2488.8h0M1276.5 2504.9h0M1256.3 2534.4h0M1226.9 2542.5h0M1230 2537.1h0M1257.9 2526.4h0M1302.8 2507.6h0M1273.4 2504.9h0M1332.3 2435.1h0M1257.9 2504.9h0M1333.8 2453.9h0M1261 2531.7h0M1247 2529.1h0M1220.7 2531.7h0M1247 2545.2h0M1267.2 2472.7h0M1315.2 2502.2h0M1315.2 2437.8h0M1287.3 2464.6h0M1336.9 2539.8h0M1262.5 2507.6h0M1288.9 2504.9h0M1261 2526.4h0M1282.7 2542.5h0M1305.9 2443.2h0M1287.3 2470h0M1183.5 2617.7h0M1250.1 2566.6h0M1191.2 2561.3h0M1174.2 2623h0M1310.6 2461.9h0M1296.6 2491.5h0M1324.5 2437.8h0M1234.6 2513h0M1219.1 2539.8h0M1239.3 2542.5h0M1288.9 2499.5h0M1237.8 2513h0M1222.2 2507.6h0M1262.5 2523.7h0M1191.2 2609.6h0M1230 2580.1h0M1265.6 2491.5h0M1189.7 2612.3h0M1293.5 2513h0M1295.1 2467.3h0M1226.9 2617.7h0M1226.9 2526.4h0M1265.6 2496.8h0M1290.4 2507.6h0M1336.9 2421.7h0M1310.6 2494.2h0M1257.9 2547.9h0M1197.4 2593.5h0M1247 2555.9h0M1175.8 2625.7h0M1240.8 2566.6h0M1223.8 2580.1h0M1219.1 2604.2h0M1302.8 2480.7h0M1319.9 2478.1h0M1177.3 2574.7h0M1247 2518.3h0M1282.7 2521h0M1284.2 2475.4h0M1330.8 2464.6h0M1203.6 2598.9h0M1292 2478.1h0M1239.3 2553.2h0M1271.8 2480.7h0M1276.5 2472.7h0M1318.3 2437.8h0M1199 2612.3h0M1318.3 2453.9h0M1326.1 2461.9h0M1217.6 2590.8h0M1194.3 2609.6h0M1281.1 2529.1h0M1228.4 2593.5h0M1237.8 2518.3h0M1270.3 2526.4h0M1296.6 2555.9h0M1302.8 2459.3h0M1220.7 2537.1h0M1253.2 2496.8h0M1240.8 2513h0M1219.1 2572h0M1287.3 2523.7h0M1250.1 2518.3h0M1234.6 2545.2h0M1262.5 2550.5h0M1214.5 2526.4h0M1231.5 2534.4h0M1288.9 2612.3h0M1256.3 2502.2h0M1206.8 2550.5h0M1264.1 2499.5h0M1239.3 2580.1h0M1327.6 2421.7h0M1273.4 2494.2h0M1240.8 2523.7h0M1312.1 2453.9h0M1237.8 2491.5h0M1312.1 2534.4h0M1257.9 2542.5h0M1205.2 2590.8h0M1256.3 2507.6h0M1161.8 2596.2h0M1254.8 2456.6h0M1265.6 2545.2h0M1257.9 2558.6h0M1274.9 2523.7h0M1261 2488.8h0M1239.3 2537.1h0M1191.2 2539.8h0M1264.1 2478.1h0M1349.3 2432.4h0M1225.3 2577.4h0M1226.9 2596.2h0M1158.7 2601.5h0M1281.1 2518.3h0M1316.8 2521h0M1200.5 2604.2h0M1174.2 2580.1h0M1265.6 2486.1h0M1216 2609.6h0M1189.7 2617.7h0M1340 2459.3h0M1318.3 2432.4h0M1223.8 2515.6h0M1327.6 2507.6h0M1307.5 2494.2h0M1253.2 2561.3h0M1233.1 2537.1h0M1327.6 2405.6h0M1332.3 2472.7h0M1245.5 2558.6h0M1321.4 2502.2h0M1307.5 2515.6h0M1202.1 2553.2h0M1251.7 2499.5h0M1230 2515.6h0M1144.8 2641.8h0M1230 2564h0M1178.8 2555.9h0M1236.2 2510.3h0M1171.1 2633.8h0M1265.6 2572h0M1270.3 2499.5h0M1147.8 2641.8h0M1350.9 2478.1h0M1243.9 2513h0M1172.6 2572h0M1233.1 2531.7h0M1200.5 2550.5h0M1250.1 2529.1h0M1298.2 2445.8h0M1250.1 2620.3h0M1231.5 2507.6h0M1270.3 2547.9h0M1273.4 2526.4h0M1259.4 2529.1h0M1248.6 2488.8h0M1192.8 2606.9h0M1200.5 2545.2h0M1262.5 2513h0M1177.3 2623h0M1208.3 2547.9h0M1236.2 2558.6h0M1222.2 2539.8h0M1174.2 2628.4h0M1270.3 2542.5h0M1251.7 2515.6h0M1253.2 2529.1h0M1329.2 2456.6h0M1191.2 2550.5h0M1327.6 2486.1h0M1208.3 2590.8h0M1352.4 2427h0M1270.3 2510.3h0M1268.8 2513h0M1228.4 2518.3h0M1276.5 2494.2h0M1284.2 2432.4h0M1259.4 2480.7h0M1189.7 2564h0M1175.8 2620.3h0M1178.8 2577.4h0M1254.8 2435.1h0M1257.9 2596.2h0M1282.7 2510.3h0M1321.4 2437.8h0M1293.5 2496.8h0M1307.5 2445.8h0M1262.5 2534.4h0M1319.9 2499.5h0M1281.1 2534.4h0M1194.3 2534.4h0M1254.8 2564h0M1270.3 2478.1h0M1171.1 2574.7h0M1195.9 2601.5h0M1257.9 2521h0M1251.7 2531.7h0M1228.4 2507.6h0M1253.2 2475.4h0M1332.3 2419h0M1355.5 2427h0M1248.6 2531.7h0M1304.4 2531.7h0M1251.7 2504.9h0M1248.6 2526.4h0M1301.3 2510.3h0M1267.2 2542.5h0M1247 2572h0M1343.1 2486.1h0M1233.1 2580.1h0M1225.3 2588.1h0M1214.5 2601.5h0M1265.6 2523.7h0M1312.1 2475.4h0M1290.4 2480.7h0M1315.2 2513h0M1347.8 2435.1h0M1319.9 2483.4h0M1188.1 2561.3h0M1270.3 2472.7h0M1293.5 2475.4h0M1281.1 2464.6h0M1175.8 2577.4h0M1336.9 2453.9h0M1242.4 2478.1h0M1237.8 2561.3h0M1333.8 2496.8h0M1248.6 2521h0M1309 2480.7h0M1243.9 2507.6h0M1261 2564h0M1256.3 2513h0M1268.8 2534.4h0M1254.8 2547.9h0M1316.8 2440.5h0M1330.8 2432.4h0M1316.8 2445.8h0M1288.9 2547.9h0M1299.8 2453.9h0M1256.3 2480.7h0M1299.8 2470h0M1245.5 2553.2h0M1202.1 2547.9h0M1304.4 2483.4h0M1185 2566.6h0M1270.3 2494.2h0M1355.5 2507.6h0M1302.8 2502.2h0M1271.8 2550.5h0M1285.8 2542.5h0M1231.5 2572h0M1239.3 2488.8h0M1253.2 2491.5h0M1259.4 2523.7h0M1245.5 2521h0M1205.2 2521h0M1186.6 2558.6h0M1349.3 2416.3h0M1261 2515.6h0M1209.8 2539.8h0M1287.3 2577.4h0M1228.4 2582.8h0M1305.9 2453.9h0M1295.1 2478.1h0M1313.7 2494.2h0M1288.9 2553.2h0M1288.9 2531.7h0M1268.8 2550.5h0M1285.8 2521h0M1192.8 2547.9h0M1305.9 2437.8h0M1350.9 2435.1h0M1197.4 2550.5h0M1231.5 2555.9h0M1234.6 2480.7h0M1181.9 2625.7h0M1225.3 2529.1h0M1239.3 2585.4h0M1321.4 2513h0M1251.7 2553.2h0M1265.6 2555.9h0M1264.1 2537.1h0M1216 2598.9h0M1352.4 2491.5h0M1316.8 2435.1h0M1321.4 2470h0M1323 2451.2h0M1138.5 2641.8h0M1279.6 2494.2h0M1285.8 2494.2h0M1279.6 2478.1h0M1267.2 2483.4h0M1214.5 2585.4h0M1254.8 2553.2h0M1236.2 2499.5h0M1333.8 2437.8h0M1319.9 2467.3h0M1323 2521h0M1292 2510.3h0M1279.6 2467.3h0M1256.3 2523.7h0M1312.1 2432.4h0M1265.6 2529.1h0M1233.1 2612.3h0M1245.5 2564h0M1276.5 2510.3h0M1140.1 2628.4h0M1350.9 2429.7h0M1285.8 2510.3h0M1301.3 2445.8h0M1261 2494.2h0M1285.8 2467.3h0M1208.3 2606.9h0M1237.8 2572h0M1183.5 2612.3h0M1199 2628.4h0M1251.7 2521h0M1183.5 2623h0M1346.2 2443.2h0M1222.2 2598.9h0M1264.1 2488.8h0M1259.4 2513h0M1188.1 2615h0M1330.8 2475.4h0M1282.7 2537.1h0M1290.4 2513h0M1261 2547.9h0M1349.3 2470h0M1262.5 2496.8h0M1251.7 2494.2h0M1211.4 2521h0M1350.9 2408.3h0M1274.9 2539.8h0M1166.4 2582.8h0M1212.9 2534.4h0M1259.4 2539.8h0M1313.7 2478.1h0M1212.9 2598.9h0M1332.3 2424.4h0M1230 2596.2h0M1245.5 2580.1h0M1321.4 2518.3h0M1174.2 2564h0M1298.2 2472.7h0M1264.1 2440.5h0M1181.9 2561.3h0M1234.6 2486.1h0M1239.3 2504.9h0M1152.5 2606.9h0M1309 2491.5h0M1282.7 2494.2h0M1287.3 2518.3h0M1225.3 2598.9h0M1261 2553.2h0M1203.6 2550.5h0M1217.6 2596.2h0M1168 2580.1h0M1284.2 2513h0M1226.9 2531.7h0M1276.5 2521h0M1302.8 2496.8h0M1217.6 2526.4h0M1296.6 2529.1h0M1316.8 2429.7h0M1245.5 2472.7h0M1202.1 2601.5h0M1292 2494.2h0M1250.1 2470h0M1327.6 2502.2h0M1319.9 2413.6h0M1305.9 2507.6h0M1242.4 2510.3h0M1321.4 2491.5h0M1299.8 2459.3h0M1288.9 2483.4h0M1271.8 2507.6h0M1242.4 2585.4h0M1279.6 2483.4h0M1307.5 2499.5h0M1228.4 2577.4h0M1274.9 2513h0M1160.2 2641.8h0M1233.1 2596.2h0M1251.7 2542.5h0M1222.2 2593.5h0M1257.9 2531.7h0M1295.1 2429.7h0M1327.6 2470h0M1254.8 2558.6h0M1273.4 2521h0M1234.6 2518.3h0M1310.6 2542.5h0M1354 2445.8h0M1336.9 2464.6h0M1310.6 2521h0M1194.3 2555.9h0M1226.9 2515.6h0M1261 2461.9h0M1217.6 2531.7h0M1239.3 2515.6h0M1326.1 2445.8h0M1268.8 2523.7h0M1233.1 2569.3h0M1205.2 2606.9h0M1276.5 2499.5h0M1256.3 2529.1h0M1310.6 2537.1h0M1299.8 2475.4h0M1273.4 2537.1h0M1309 2513h0M1304.4 2467.3h0M1341.6 2456.6h0M1343.1 2470h0M1278 2545.2h0M1208.3 2601.5h0M1298.2 2494.2h0M1217.6 2537.1h0M1271.8 2513h0M1205.2 2547.9h0M1278 2550.5h0M1243.9 2604.2h0M1157.1 2641.8h0M1298.2 2504.9h0M1206.8 2523.7h0M1287.3 2459.3h0M1247 2566.6h0M1220.7 2585.4h0M1223.8 2521h0M1219.1 2593.5h0M1278 2491.5h0M1276.5 2526.4h0M1304.4 2521h0M1194.3 2561.3h0M1268.8 2496.8h0M1310.6 2472.7h0M1301.3 2478.1h0M1278 2513h0M1169.5 2631.1h0M1219.1 2598.9h0M1284.2 2470h0M1268.8 2480.7h0M1250.1 2507.6h0M1279.6 2510.3h0M1292 2472.7h0M1298.2 2526.4h0M1296.6 2464.6h0M1287.3 2491.5h0M1243.9 2561.3h0M1262.5 2572h0M1274.9 2518.3h0M1209.8 2604.2h0M1172.6 2631.1h0M1200.5 2609.6h0M1186.6 2569.3h0M1305.9 2416.3h0M1256.3 2555.9h0M1240.8 2577.4h0M1199 2531.7h0M1330.8 2437.8h0M1212.9 2539.8h0M1340 2427h0M1234.6 2593.5h0M1226.9 2585.4h0M1208.3 2612.3h0M1287.3 2453.9h0M1247 2502.2h0M1313.7 2461.9h0M1302.8 2555.9h0M1302.8 2486.1h0M1225.3 2604.2h0M1298.2 2429.7h0M1288.9 2413.6h0M1273.4 2515.6h0M1298.2 2510.3h0M1293.5 2486.1h0M1292 2499.5h0M1292 2456.6h0M1175.8 2566.6h0M1180.4 2569.3h0M1265.6 2502.2h0M1206.8 2598.9h0M1271.8 2555.9h0M1270.3 2483.4h0M1270.3 2515.6h0M1344.7 2429.7h0M1276.5 2467.3h0M1301.3 2531.7h0M1315.2 2486.1h0M1304.4 2515.6h0M1329.2 2478.1h0M1219.1 2620.3h0M1267.2 2488.8h0M1352.4 2421.7h0M1259.4 2550.5h0M1347.8 2478.1h0M1315.2 2518.3h0M1278 2539.8h0M1290.4 2518.3h0M1217.6 2601.5h0M1245.5 2515.6h0M1274.9 2491.5h0M1346.2 2432.4h0" stroke="#5c2d87" stroke-width="3.5" stroke-linecap="round" fill="none"/>
<path d="M1203.6 2572h0M1171.1 2596.2h0M1138.5 2636.4h0M1143.2 2639.1h0M1140.1 2633.8h0M1197.4 2577.4h0M1220.7 2558.6h0M1230 2558.6h0M1225.3 2566.6h0M1195.9 2569.3h0M1185 2604.2h0M1202.1 2585.4h0M1189.7 2606.9h0M1202.1 2580.1h0M1205.2 2569.3h0M1189.7 2574.7h0M1158.7 2628.4h0M1191.2 2577.4h0M1192.8 2574.7h0M1199 2590.8h0M1163.3 2625.7h0M1208.3 2564h0M1186.6 2601.5h0M1188.1 2577.4h0M1211.4 2569.3h0M1216 2572h0M1199 2585.4h0M1209.8 2572h0M1211.4 2574.7h0M1186.6 2606.9h0M1217.6 2558.6h0M1194.3 2593.5h0M1211.4 2564h0M1199 2574.7h0M1169.5 2620.3h0M1216 2561.3h0M1188.1 2582.8h0M1195.9 2585.4h0M1208.3 2580.1h0M1172.6 2620.3h0M1203.6 2566.6h0M1214.5 2564h0M1205.2 2574.7h0M1200.5 2572h0M1200.5 2582.8h0M1203.6 2582.8h0M1202.1 2574.7h0M1181.9 2582.8h0M1209.8 2566.6h0M1200.5 2577.4h0M1220.7 2564h0M1202.1 2569.3h0M1206.8 2561.3h0M1189.7 2596.2h0M1189.7 2601.5h0M1208.3 2569.3h0M1185 2609.6h0M1206.8 2566.6h0M1140.1 2639.1h0M1242.4 2537.1h0M1164.9 2623h0M1183.5 2606.9h0M1219.1 2555.9h0M1205.2 2580.1h0M1180.4 2585.4h0M1205.2 2564h0M1197.4 2582.8h0M1164.9 2601.5h0M1206.8 2572h0M1226.9 2564h0M1188.1 2604.2h0M1152.5 2633.8h0M1211.4 2558.6h0M1174.2 2590.8h0M1206.8 2582.8h0M1172.6 2593.5h0M1217.6 2564h0M1212.9 2572h0M1178.8 2588.1h0M1178.8 2609.6h0M1203.6 2577.4h0M1212.9 2566.6h0M1177.3 2612.3h0M1195.9 2590.8h0M1216 2566.6h0M1171.1 2617.7h0M1183.5 2580.1h0M1209.8 2577.4h0M1199 2569.3h0M1147.8 2620.3h0M1178.8 2582.8h0M1175.8 2615h0M1154 2631.1h0M1195.9 2574.7h0" stroke="#4f3f8c" stroke-width="3.5" stroke-linecap="round" fill="none"/>
<path d="M1191.2 2582.8h0M1177.3 2590.8h0M1175.8 2593.5h0M1181.9 2588.1h0M1194.3 2582.8h0M1189.7 2580.1h0M1146.3 2623h0M1188.1 2598.9h0M1160.2 2625.7h0M1192.8 2585.4h0M1181.9 2604.2h0M1183.5 2601.5h0M1192.8 2590.8h0M1161.8 2606.9h0M1185 2598.9h0M1178.8 2604.2h0M1172.6 2615h0M1149.4 2633.8h0M1199 2580.1h0M1155.6 2612.3h0M1163.3 2604.2h0M1166.4 2620.3h0M1189.7 2590.8h0M1194.3 2588.1h0M1141.6 2631.1h0M1143.2 2628.4h0M1191.2 2593.5h0M1157.1 2609.6h0M1155.6 2628.4h0M1183.5 2585.4h0M1174.2 2612.3h0M1186.6 2585.4h0M1144.8 2625.7h0M1197.4 2572h0M1178.8 2593.5h0M1197.4 2588.1h0M1191.2 2588.1h0M1194.3 2577.4h0M1161.8 2623h0M1188.1 2593.5h0M1185 2582.8h0M1180.4 2606.9h0M1192.8 2580.1h0M1141.6 2636.4h0M1195.9 2580.1h0" stroke="#3f5490" stroke-width="3.5" stroke-linecap="round" fill="none"/>
<path d="M1168 2617.7h0M1150.9 2620.3h0M1174.2 2596.2h0M1177.3 2606.9h0M1185 2588.1h0M1177.3 2596.2h0M1166.4 2604.2h0M1169.5 2615h0M1169.5 2598.9h0M1168 2601.5h0M1180.4 2590.8h0M1171.1 2612.3h0M1188.1 2588.1h0M1186.6 2596.2h0M1169.5 2609.6h0M1152.5 2617.7h0M1144.8 2636.4h0M1183.5 2596.2h0M1189.7 2585.4h0M1154 2615h0M1146.3 2633.8h0M1175.8 2609.6h0M1180.4 2601.5h0M1174.2 2606.9h0" stroke="#31688e" stroke-width="3.5" stroke-linecap="round" fill="none"/>
<path d="M1178.8 2598.9h0M1181.9 2593.5h0M1183.5 2590.8h0M1180.4 2596.2h0M1158.7 2612.3h0M1164.9 2617.7h0M1171.1 2601.5h0M1157.1 2625.7h0M1186.6 2590.8h0M1149.4 2623h0M1152.5 2628.4h0M1181.9 2598.9h0M1177.3 2601.5h0M1169.5 2604.2h0M1185 2593.5h0M1150.9 2631.1h0M1172.6 2598.9h0M1172.6 2609.6h0M1160.2 2609.6h0M1143.2 2633.8h0" stroke="#26828e" stroke-width="3.5" stroke-linecap="round" fill="none"/>
<path d="M1174.2 2601.5h0M1144.8 2631.1h0M1166.4 2615h0M1154 2620.3h0M1163.3 2620.3h0M1172.6 2604.2h0M1171.1 2606.9h0M1164.9 2606.9h0M1160.2 2620.3h0M1175.8 2598.9h0M1168 2612.3h0M1175.8 2604.2h0" stroke="#1f9e89" stroke-width="3.5" stroke-linecap="round" fill="none"/>
<path d="M1161.8 2617.7h0M1147.8 2625.7h0M1168 2606.9h0M1158.7 2623h0M1146.3 2628.4h0M1157.1 2615h0M1161.8 2612.3h0M1163.3 2609.6h0M1157.1 2620.3h0M1147.8 2631.1h0M1160.2 2615h0M1164.9 2612.3h0" stroke="#35b779" stroke-width="3.5" stroke-linecap="round" fill="none"/>
<path d="M1155.6 2617.7h0M1166.4 2609.6h0M1152.5 2623h0M1149.4 2628.4h0M1150.9 2625.7h0M1154 2625.7h0M1163.3 2615h0M1158.7 2617.7h0M1155.6 2623h0" stroke="#6ece58" stroke-width="3.5" stroke-linecap="round" fill="none"/>
<path d="M1568.9 2484.5h0M1455.8 2594.6h0M1517.8 2519.4h0M1462 2605.3h0M1434.1 2621.5h0M1463.5 2586.6h0M1468.2 2562.4h0M1441.8 2602.7h0M1462 2583.9h0M1455.8 2519.4h0M1527.1 2530.2h0M1462 2578.5h0M1491.4 2549h0M1458.9 2589.2h0M1517.8 2524.8h0M1485.2 2565.1h0M1468.2 2594.6h0M1441.8 2634.9h0M1486.8 2583.9h0M1480.6 2557h0M1494.5 2559.7h0M1483.7 2567.8h0M1466.6 2586.6h0M1539.5 2455h0M1460.4 2586.6h0M1519.3 2543.6h0M1499.2 2530.2h0M1489.9 2557h0M1472.8 2581.2h0M1468.2 2567.8h0M1469.8 2554.3h0M1517.8 2498h0M1483.7 2562.4h0M1466.6 2565.1h0M1483.7 2535.5h0M1452.7 2551.7h0M1503.8 2543.6h0M1482.1 2532.9h0M1497.6 2511.4h0M1448 2586.6h0M1448 2570.4h0M1471.3 2578.5h0M1465.1 2573.1h0M1460.4 2597.3h0M1525.5 2543.6h0M1472.8 2554.3h0M1493 2551.7h0M1432.5 2624.1h0M1493 2524.8h0M1465.1 2605.3h0M1496.1 2514.1h0M1458.9 2610.7h0M1520.9 2514.1h0M1480.6 2524.8h0M1457.3 2591.9h0M1502.3 2540.9h0M1480.6 2573.1h0M1493 2546.3h0M1455.8 2562.4h0M1471.3 2551.7h0M1454.2 2613.4h0M1455.8 2583.9h0M1506.9 2522.1h0M1472.8 2570.4h0M1444.9 2624.1h0M1514.7 2519.4h0M1472.8 2500.6h0M1444.9 2629.5h0M1479 2549h0M1472.8 2532.9h0M1454.2 2570.4h0M1463.5 2565.1h0M1458.9 2583.9h0M1500.8 2511.4h0M1503.8 2506h0M1522.4 2527.5h0M1460.4 2581.2h0M1457.3 2570.4h0M1500.8 2532.9h0M1468.2 2540.9h0M1469.8 2559.7h0M1489.9 2551.7h0M1451.1 2570.4h0M1427.9 2642.9h0M1449.6 2578.5h0M1455.8 2546.3h0M1462 2557h0M1508.5 2557h0M1465.1 2594.6h0M1462 2562.4h0M1454.2 2581.2h0M1443.4 2594.6h0M1452.7 2616.1h0M1475.9 2565.1h0M1486.8 2546.3h0M1482.1 2570.4h0M1437.2 2610.7h0M1486.8 2535.5h0M1474.4 2546.3h0M1466.6 2549h0M1477.5 2540.9h0M1469.8 2565.1h0M1503.8 2532.9h0M1462 2567.8h0M1454.2 2586.6h0M1514.7 2524.8h0M1455.8 2573.1h0M1458.9 2594.6h0M1457.3 2602.7h0M1469.8 2543.6h0M1482.1 2565.1h0M1475.9 2554.3h0M1513.1 2511.4h0M1519.3 2554.3h0M1500.8 2527.5h0M1489.9 2540.9h0M1434.1 2642.9h0M1465.1 2583.9h0M1528.6 2516.8h0M1497.6 2532.9h0M1454.2 2575.8h0M1463.5 2549h0M1458.9 2567.8h0M1454.2 2608h0M1506.9 2559.7h0M1485.2 2543.6h0M1462 2573.1h0M1466.6 2575.8h0M1511.6 2514.1h0M1488.3 2554.3h0M1485.2 2532.9h0M1471.3 2562.4h0M1491.4 2543.6h0M1475.9 2538.2h0M1479 2581.2h0M1465.1 2551.7h0M1452.7 2610.7h0M1499.2 2540.9h0M1455.8 2557h0M1466.6 2570.4h0M1465.1 2562.4h0M1465.1 2567.8h0M1474.4 2573.1h0M1503.8 2538.2h0M1494.5 2549h0M1505.4 2540.9h0M1572 2500.6h0M1449.6 2616.1h0M1452.7 2578.5h0M1524 2519.4h0M1455.8 2567.8h0M1474.4 2557h0M1438.8 2602.7h0M1502.3 2514.1h0M1482.1 2559.7h0M1472.8 2575.8h0M1480.6 2551.7h0M1463.5 2591.9h0M1452.7 2573.1h0M1475.9 2549h0M1463.5 2559.7h0M1488.3 2538.2h0M1516.2 2527.5h0M1475.9 2559.7h0M1452.7 2605.3h0M1472.8 2559.7h0M1471.3 2540.9h0M1556.5 2495.3h0M1449.6 2626.8h0M1471.3 2573.1h0M1517.8 2546.3h0M1466.6 2581.2h0M1458.9 2573.1h0M1474.4 2551.7h0M1444.9 2634.9h0M1483.7 2557h0M1474.4 2535.5h0M1513.1 2506h0M1435.6 2613.4h0M1477.5 2573.1h0M1452.7 2567.8h0M1472.8 2591.9h0M1457.3 2565.1h0M1443.4 2626.8h0M1479 2565.1h0M1582.9 2492.6h0M1474.4 2583.9h0M1449.6 2621.5h0M1541 2506h0M1449.6 2573.1h0M1567.4 2498h0M1513.1 2532.9h0M1448 2581.2h0M1451.1 2608h0M1527.1 2551.7h0M1513.1 2554.3h0M1489.9 2546.3h0M1469.8 2575.8h0M1581.3 2463.1h0M1457.3 2597.3h0M1446.5 2621.5h0M1460.4 2554.3h0M1462 2589.2h0M1460.4 2559.7h0M1497.6 2543.6h0M1539.5 2508.7h0M1496.1 2498h0M1458.9 2557h0M1477.5 2562.4h0M1531.8 2506h0M1446.5 2626.8h0M1438.8 2640.2h0M1463.5 2581.2h0M1465.1 2578.5h0M1562.8 2473.8h0M1449.6 2610.7h0M1480.6 2540.9h0M1479 2554.3h0M1472.8 2565.1h0M1579.8 2481.9h0M1517.8 2481.9h0M1468.2 2573.1h0M1505.4 2503.3h0M1508.5 2530.2h0M1480.6 2562.4h0M1483.7 2573.1h0M1468.2 2578.5h0M1508.5 2519.4h0M1455.8 2600h0M1503.8 2549h0M1496.1 2524.8h0M1463.5 2554.3h0M1544.1 2511.4h0M1496.1 2551.7h0M1502.3 2498h0M1451.1 2618.8h0M1477.5 2557h0M1524 2498h0M1496.1 2546.3h0M1462 2594.6h0M1465.1 2535.5h0M1446.5 2589.2h0M1475.9 2543.6h0M1548.8 2508.7h0M1561.2 2492.6h0M1458.9 2600h0M1444.9 2591.9h0M1440.3 2605.3h0M1486.8 2557h0M1519.3 2495.3h0M1493 2514.1h0M1479 2575.8h0M1477.5 2535.5h0M1579.8 2471.1h0M1465.1 2589.2h0M1448 2613.4h0M1468.2 2551.7h0M1460.4 2565.1h0M1494.5 2570.4h0M1488.3 2570.4h0M1485.2 2575.8h0M1480.6 2589.2h0M1497.6 2516.8h0M1448 2618.8h0M1516.2 2500.6h0M1429.4 2629.5h0M1520.9 2524.8h0M1510 2549h0M1469.8 2570.4h0M1544.1 2495.3h0M1465.1 2557h0M1590.6 2463.1h0M1448 2624.1h0M1479 2538.2h0M1431 2626.8h0M1488.3 2559.7h0M1466.6 2629.5h0M1551.9 2487.2h0M1475.9 2522.1h0M1457.3 2608h0M1472.8 2549h0M1587.5 2463.1h0M1477.5 2514.1h0M1500.8 2522.1h0M1575.1 2484.5h0M1454.2 2559.7h0M1511.6 2524.8h0M1479 2543.6h0M1466.6 2597.3h0M1514.7 2508.7h0M1455.8 2605.3h0M1441.8 2591.9h0M1587.5 2468.4h0M1493 2562.4h0M1489.9 2562.4h0M1480.6 2530.2h0M1548.8 2471.1h0M1525.5 2522.1h0M1468.2 2583.9h0M1438.8 2608h0M1485.2 2527.5h0M1502.3 2530.2h0M1483.7 2551.7h0M1482.1 2527.5h0M1485.2 2591.9h0M1455.8 2621.5h0M1454.2 2554.3h0M1575.1 2495.3h0M1499.2 2546.3h0M1480.6 2535.5h0M1474.4 2562.4h0M1479 2586.6h0M1497.6 2522.1h0M1485.2 2554.3h0M1477.5 2583.9h0M1451.1 2613.4h0M1598.4 2455h0M1500.8 2554.3h0M1469.8 2591.9h0M1448 2629.5h0M1465.1 2540.9h0M1494.5 2565.1h0M1482.1 2597.3h0M1454.2 2618.8h0M1471.3 2546.3h0M1475.9 2597.3h0M1454.2 2549h0M1452.7 2562.4h0M1525.5 2506h0M1444.9 2565.1h0M1503.8 2516.8h0M1513.1 2538.2h0M1525.5 2473.8h0M1477.5 2546.3h0M1556.5 2506h0M1488.3 2581.2h0M1440.3 2637.6h0M1479 2500.6h0M1564.3 2514.1h0M1539.5 2492.6h0M1503.8 2527.5h0M1503.8 2489.9h0M1458.9 2562.4h0M1561.2 2498h0M1488.3 2543.6h0M1500.8 2516.8h0M1451.1 2575.8h0M1475.9 2581.2h0M1537.9 2489.9h0M1483.7 2616.1h0M1458.9 2605.3h0M1446.5 2578.5h0M1528.6 2532.9h0M1489.9 2535.5h0M1520.9 2476.5h0M1493 2557h0M1477.5 2551.7h0M1541 2495.3h0M1548.8 2519.4h0M1466.6 2527.5h0M1486.8 2530.2h0M1533.3 2503.3h0M1472.8 2543.6h0M1491.4 2559.7h0M1466.6 2538.2h0M1527.1 2503.3h0M1479 2570.4h0M1488.3 2532.9h0M1454.2 2634.9h0M1516.2 2522.1h0M1564.3 2508.7h0M1533.3 2508.7h0M1466.6 2559.7h0M1466.6 2591.9h0M1483.7 2530.2h0M1499.2 2573.1h0M1525.5 2500.6h0M1469.8 2586.6h0M1496.1 2519.4h0M1474.4 2567.8h0M1576.7 2492.6h0M1468.2 2589.2h0M1525.5 2516.8h0M1474.4 2540.9h0M1482.1 2581.2h0M1556.5 2500.6h0M1598.4 2471.1h0M1568.9 2463.1h0M1494.5 2527.5h0M1553.4 2479.2h0M1612.3 2463.1h0M1558.1 2498h0M1482.1 2554.3h0M1531.8 2500.6h0M1471.3 2557h0M1522.4 2489.9h0M1505.4 2530.2h0M1556.5 2489.9h0M1500.8 2549h0M1489.9 2530.2h0M1522.4 2506h0M1463.5 2608h0M1530.2 2498h0M1493 2535.5h0M1500.8 2575.8h0M1502.3 2524.8h0M1466.6 2543.6h0M1491.4 2527.5h0M1502.3 2546.3h0M1578.2 2473.8h0M1592.2 2460.4h0M1440.3 2600h0M1480.6 2546.3h0M1565.8 2468.4h0M1471.3 2567.8h0M1460.4 2618.8h0M1496.1 2540.9h0M1463.5 2597.3h0M1463.5 2538.2h0M1489.9 2524.8h0M1441.8 2597.3h0M1548.8 2514.1h0M1475.9 2591.9h0M1562.8 2500.6h0M1573.6 2492.6h0M1502.3 2519.4h0M1537.9 2527.5h0M1561.2 2487.2h0M1584.4 2506h0M1553.4 2511.4h0M1505.4 2557h0M1539.5 2514.1h0M1483.7 2519.4h0M1494.5 2538.2h0M1496.1 2557h0M1485.2 2516.8h0M1480.6 2583.9h0M1452.7 2557h0M1516.2 2565.1h0M1534.8 2516.8h0M1505.4 2524.8h0M1536.4 2492.6h0M1505.4 2508.7h0M1479 2559.7h0M1550.3 2489.9h0M1545.7 2503.3h0M1427.9 2637.6h0M1489.9 2594.6h0M1454.2 2602.7h0M1516.2 2532.9h0M1553.4 2484.5h0M1457.3 2559.7h0M1537.9 2511.4h0M1502.3 2551.7h0M1510 2532.9h0M1511.6 2530.2h0M1553.4 2473.8h0M1572 2495.3h0M1570.5 2471.1h0M1443.4 2567.8h0M1534.8 2538.2h0M1533.3 2498h0M1499.2 2535.5h0M1553.4 2489.9h0M1491.4 2506h0M1434.1 2610.7h0M1438.8 2586.6h0M1491.4 2538.2h0M1465.1 2546.3h0M1519.3 2511.4h0M1547.2 2532.9h0M1524 2546.3h0M1510 2511.4h0M1517.8 2530.2h0M1500.8 2543.6h0M1528.6 2489.9h0M1465.1 2610.7h0M1503.8 2554.3h0M1620.1 2455h0M1475.9 2570.4h0M1524 2524.8h0M1500.8 2538.2h0M1469.8 2549h0M1496.1 2535.5h0M1513.1 2527.5h0M1497.6 2549h0M1482.1 2543.6h0M1502.3 2503.3h0M1573.6 2487.2h0M1460.4 2602.7h0M1493 2530.2h0M1486.8 2562.4h0M1626.3 2465.7h0M1531.8 2511.4h0M1530.2 2492.6h0M1446.5 2583.9h0M1508.5 2546.3h0M1511.6 2535.5h0M1516.2 2516.8h0M1531.8 2489.9h0M1537.9 2522.1h0M1448 2640.2h0M1444.9 2586.6h0M1474.4 2578.5h0M1506.9 2516.8h0M1468.2 2546.3h0M1522.4 2511.4h0M1460.4 2591.9h0M1465.1 2600h0M1479 2532.9h0M1485.2 2538.2h0M1491.4 2554.3h0M1488.3 2527.5h0M1480.6 2578.5h0M1505.4 2546.3h0M1534.8 2484.5h0M1516.2 2489.9h0M1454.2 2565.1h0M1443.4 2637.6h0M1564.3 2487.2h0M1536.4 2530.2h0M1519.3 2532.9h0M1468.2 2557h0M1471.3 2594.6h0M1474.4 2589.2h0M1469.8 2581.2h0M1506.9 2538.2h0M1567.4 2546.3h0M1460.4 2608h0M1506.9 2543.6h0M1527.1 2498h0M1497.6 2527.5h0M1494.5 2516.8h0M1516.2 2506h0M1457.3 2549h0M1506.9 2489.9h0M1567.4 2487.2h0M1618.5 2468.4h0M1457.3 2543.6h0M1598.4 2476.5h0M1482.1 2495.3h0M1551.9 2508.7h0M1443.4 2632.2h0M1496.1 2567.8h0M1469.8 2608h0M1500.8 2570.4h0M1452.7 2621.5h0M1497.6 2575.8h0M1458.9 2621.5h0M1486.8 2540.9h0M1593.8 2473.8h0M1593.8 2457.7h0M1506.9 2527.5h0M1483.7 2524.8h0M1525.5 2489.9h0M1613.9 2471.1h0M1513.1 2516.8h0M1458.9 2551.7h0M1451.1 2629.5h0M1541 2511.4h0M1508.5 2514.1h0M1458.9 2535.5h0M1485.2 2549h0M1480.6 2567.8h0M1550.3 2532.9h0M1527.1 2514.1h0M1483.7 2546.3h0M1480.6 2594.6h0M1444.9 2570.4h0M1564.3 2492.6h0M1573.6 2519.4h0M1466.6 2554.3h0M1524 2514.1h0M1477.5 2578.5h0M1441.8 2586.6h0M1494.5 2532.9h0M1469.8 2538.2h0M1527.1 2492.6h0M1517.8 2503.3h0M1499.2 2524.8h0M1482.1 2575.8h0M1471.3 2530.2h0M1497.6 2506h0M1486.8 2551.7h0M1486.8 2514.1h0M1537.9 2495.3h0M1536.4 2519.4h0M1533.3 2492.6h0M1511.6 2546.3h0M1570.5 2476.5h0M1468.2 2535.5h0M1610.8 2471.1h0M1586 2465.7h0M1514.7 2503.3h0M1472.8 2586.6h0M1460.4 2538.2h0M1472.8 2538.2h0M1528.6 2506h0M1482.1 2549h0M1551.9 2481.9h0M1606.1 2468.4h0M1533.3 2530.2h0M1486.8 2573.1h0M1465.1 2626.8h0M1510 2527.5h0M1443.4 2589.2h0M1503.8 2511.4h0M1528.6 2511.4h0M1503.8 2495.3h0M1469.8 2527.5h0M1572 2489.9h0M1485.2 2586.6h0M1589.1 2455h0M1491.4 2532.9h0M1508.5 2503.3h0M1567.4 2481.9h0M1462 2535.5h0M1491.4 2522.1h0M1559.6 2457.7h0M1508.5 2508.7h0M1499.2 2519.4h0M1539.5 2535.5h0M1496.1 2600h0M1449.6 2567.8h0M1475.9 2575.8h0M1466.6 2532.9h0M1558.1 2492.6h0M1460.4 2549h0M1534.8 2479.2h0M1626.3 2455h0M1517.8 2514.1h0M1558.1 2487.2h0M1517.8 2540.9h0M1590.6 2473.8h0M1458.9 2540.9h0M1542.6 2508.7h0M1511.6 2540.9h0M1468.2 2600h0M1517.8 2487.2h0M1559.6 2484.5h0M1514.7 2540.9h0M1485.2 2559.7h0M1488.3 2549h0M1520.9 2530.2h0M1446.5 2637.6h0M1522.4 2500.6h0M1435.6 2608h0M1547.2 2522.1h0M1534.8 2489.9h0M1516.2 2538.2h0M1604.6 2460.4h0M1539.5 2530.2h0M1491.4 2516.8h0M1561.2 2476.5h0M1457.3 2511.4h0M1565.8 2511.4h0M1534.8 2500.6h0M1505.4 2519.4h0M1573.6 2503.3h0M1462 2600h0M1520.9 2503.3h0M1503.8 2565.1h0M1620.1 2481.9h0M1482.1 2538.2h0M1462 2632.2h0M1581.3 2511.4h0M1462 2551.7h0M1502.3 2535.5h0M1449.6 2562.4h0M1541 2500.6h0M1454.2 2624.1h0M1491.4 2575.8h0M1451.1 2559.7h0M1519.3 2506h0M1510 2538.2h0M1444.9 2575.8h0M1437.2 2642.9h0M1486.8 2567.8h0M1527.1 2519.4h0M1455.8 2626.8h0M1517.8 2535.5h0M1544.1 2500.6h0M1534.8 2506h0M1489.9 2498h0M1522.4 2538.2h0M1469.8 2597.3h0M1462 2540.9h0M1451.1 2624.1h0M1506.9 2532.9h0M1471.3 2583.9h0M1446.5 2632.2h0M1542.6 2492.6h0M1572 2457.7h0M1493 2540.9h0M1516.2 2549h0M1485.2 2511.4h0M1491.4 2565.1h0M1494.5 2543.6h0M1486.8 2610.7h0M1558.1 2503.3h0M1506.9 2554.3h0M1479 2522.1h0M1565.8 2479.2h0M1511.6 2519.4h0M1448 2565.1h0M1497.6 2559.7h0M1457.3 2538.2h0M1514.7 2535.5h0M1531.8 2522.1h0M1581.3 2468.4h0M1483.7 2578.5h0M1519.3 2489.9h0M1542.6 2487.2h0M1550.3 2500.6h0M1516.2 2511.4h0M1477.5 2530.2h0M1533.3 2487.2h0M1513.1 2522.1h0M1486.8 2508.7h0M1545.7 2508.7h0M1502.3 2562.4h0M1510 2543.6h0M1565.8 2495.3h0M1508.5 2535.5h0M1493 2503.3h0M1477.5 2567.8h0M1483.7 2540.9h0M1562.8 2549h0M1547.2 2516.8h0M1485.2 2500.6h0M1545.7 2487.2h0M1606.1 2479.2h0M1506.9 2500.6h0" stroke="#5c2d87" stroke-width="3.5" stroke-linecap="round" fill="none"/>
<path d="M1446.5 2594.6h0M1444.9 2597.3h0M1451.1 2597.3h0M1463.5 2570.4h0M1457.3 2586.6h0M1449.6 2594.6h0M1457.3 2581.2h0M1454.2 2597.3h0M1457.3 2575.8h0M1437.2 2616.1h0M1451.1 2591.9h0M1452.7 2600h0M1451.1 2602.7h0M1448 2591.9h0M1441.8 2629.5h0M1454.2 2591.9h0M1449.6 2600h0M1435.6 2618.8h0M1452.7 2594.6h0M1446.5 2616.1h0M1452.7 2589.2h0M1449.6 2589.2h0M1429.4 2634.9h0M1448 2608h0M1458.9 2578.5h0M1460.4 2575.8h0M1444.9 2618.8h0M1455.8 2578.5h0M1449.6 2605.3h0M1452.7 2583.9h0M1460.4 2570.4h0M1455.8 2589.2h0M1451.1 2581.2h0M1451.1 2586.6h0M1437.2 2637.6h0M1443.4 2600h0M1463.5 2575.8h0M1435.6 2640.2h0M1440.3 2632.2h0M1438.8 2634.9h0M1449.6 2583.9h0" stroke="#4f3f8c" stroke-width="3.5" stroke-linecap="round" fill="none"/>
<path d="M1441.8 2608h0M1438.8 2613.4h0M1441.8 2624.1h0M1440.3 2610.7h0M1443.4 2610.7h0M1448 2597.3h0M1443.4 2605.3h0M1448 2602.7h0M1443.4 2621.5h0M1444.9 2602.7h0M1444.9 2608h0M1446.5 2605.3h0M1446.5 2610.7h0M1446.5 2600h0M1444.9 2613.4h0" stroke="#3f5490" stroke-width="3.5" stroke-linecap="round" fill="none"/>
<path d="M1431 2632.2h0M1432.5 2629.5h0M1437.2 2632.2h0M1438.8 2629.5h0M1440.3 2626.8h0M1443.4 2616.1h0" stroke="#31688e" stroke-width="3.5" stroke-linecap="round" fill="none"/>
<path d="M1441.8 2618.8h0M1440.3 2616.1h0M1438.8 2618.8h0M1435.6 2624.1h0M1441.8 2613.4h0M1435.6 2634.9h0M1437.2 2621.5h0M1434.1 2626.8h0M1440.3 2621.5h0" stroke="#26828e" stroke-width="3.5" stroke-linecap="round" fill="none"/>
<path d="M1429.4 2640.2h0M1432.5 2640.2h0M1431 2642.9h0" stroke="#1f9e89" stroke-width="3.5" stroke-linecap="round" fill="none"/>
<path d="M1434.1 2637.6h0M1437.2 2626.8h0M1438.8 2624.1h0" stroke="#35b779" stroke-width="3.5" stroke-linecap="round" fill="none"/>
<path d="M1435.6 2629.5h0" stroke="#6ece58" stroke-width="3.5" stroke-linecap="round" fill="none"/>
<path d="M1432.5 2634.9h0M1434.1 2632.2h0M1431 2637.6h0" stroke="#fde725" stroke-width="3.5" stroke-linecap="round" fill="none"/>
<path d="M1748.6 2543.6h0M1761 2532.9h0M1775 2540.9h0M1761 2516.8h0M1737.8 2567.8h0M1753.3 2562.4h0M1798.2 2522.1h0M1753.3 2535.5h0M1801.3 2500.6h0M1736.2 2586.6h0M1759.5 2562.4h0M1757.9 2543.6h0M1860.2 2479.2h0M1768.8 2530.2h0M1744 2578.5h0M1782.8 2511.4h0M1914.5 2465.7h0M1793.6 2524.8h0M1745.5 2591.9h0M1795.1 2522.1h0M1740.9 2562.4h0M1778.1 2546.3h0M1740.9 2578.5h0M1745.5 2543.6h0M1897.4 2479.2h0M1750.2 2557h0M1812.2 2492.6h0M1754.8 2532.9h0M1778.1 2519.4h0M1776.5 2559.7h0M1750.2 2567.8h0M1762.6 2573.1h0M1750.2 2583.9h0M1767.2 2543.6h0M1745.5 2581.2h0M1734.7 2567.8h0M1753.3 2567.8h0M1714.5 2618.8h0M1739.3 2591.9h0M1849.4 2476.5h0M1768.8 2562.4h0M1773.4 2543.6h0M1734.7 2605.3h0M1781.2 2524.8h0M1762.6 2557h0M1739.3 2602.7h0M1751.8 2608h0M1742.4 2575.8h0M1796.7 2508.7h0M1709.9 2637.6h0M1731.6 2610.7h0M1751.8 2575.8h0M1728.5 2557h0M1725.4 2583.9h0M1750.2 2546.3h0M1770.3 2538.2h0M1881.9 2511.4h0M1719.2 2600h0M1792 2511.4h0M1751.8 2532.9h0M1799.8 2503.3h0M1716.1 2605.3h0M1717.6 2640.2h0M1744 2562.4h0M1779.6 2532.9h0M1736.2 2602.7h0M1854 2489.9h0M1790.5 2514.1h0M1771.9 2514.1h0M1742.4 2527.5h0M1775 2514.1h0M1737.8 2562.4h0M1765.7 2535.5h0M1756.4 2530.2h0M1747.1 2546.3h0M1782.8 2527.5h0M1740.9 2557h0M1742.4 2591.9h0M1726.9 2618.8h0M1726.9 2624.1h0M1784.3 2530.2h0M1730 2570.4h0M1751.8 2549h0M1795.1 2527.5h0M1753.3 2546.3h0M1759.5 2519.4h0M1765.7 2578.5h0M1835.4 2527.5h0M1747.1 2551.7h0M1778.1 2535.5h0M1838.5 2500.6h0M1761 2554.3h0M1827.7 2503.3h0M1745.5 2549h0M1781.2 2535.5h0M1795.1 2538.2h0M1771.9 2519.4h0M1781.2 2540.9h0M1737.8 2589.2h0M1765.7 2514.1h0M1745.5 2570.4h0M1759.5 2557h0M1838.5 2511.4h0M1739.3 2543.6h0M1739.3 2554.3h0M1739.3 2624.1h0M1773.4 2549h0M1739.3 2559.7h0M1761 2543.6h0M1784.3 2535.5h0M1823 2500.6h0M1731.6 2567.8h0M1742.4 2597.3h0M1773.4 2554.3h0M1722.3 2637.6h0M1830.8 2492.6h0M1742.4 2554.3h0M1739.3 2549h0M1742.4 2586.6h0M1764.1 2538.2h0M1753.3 2530.2h0M1748.6 2575.8h0M1759.5 2540.9h0M1723.8 2586.6h0M1756.4 2551.7h0M1737.8 2551.7h0M1775 2578.5h0M1816.8 2511.4h0M1744 2551.7h0M1736.2 2591.9h0M1757.9 2554.3h0M1756.4 2578.5h0M1742.4 2559.7h0M1750.2 2551.7h0M1737.8 2546.3h0M1788.9 2532.9h0M1757.9 2570.4h0M1793.6 2498h0M1728.5 2642.9h0M1857.1 2484.5h0M1788.9 2511.4h0M1748.6 2549h0M1720.8 2597.3h0M1812.2 2498h0M1730 2581.2h0M1802.9 2508.7h0M1776.5 2538.2h0M1723.8 2591.9h0M1734.7 2610.7h0M1728.5 2578.5h0M1748.6 2586.6h0M1812.2 2530.2h0M1775 2557h0M1773.4 2506h0M1765.7 2551.7h0M1733.1 2559.7h0M1748.6 2570.4h0M1730 2613.4h0M1739.3 2597.3h0M1804.4 2527.5h0M1720.8 2634.9h0M1753.3 2540.9h0M1765.7 2519.4h0M1778.1 2530.2h0M1740.9 2583.9h0M1722.3 2589.2h0M1781.2 2492.6h0M1740.9 2605.3h0M1742.4 2581.2h0M1716.1 2616.1h0M1810.6 2522.1h0M1768.8 2524.8h0M1792 2538.2h0M1740.9 2540.9h0M1744 2589.2h0M1740.9 2600h0M1762.6 2567.8h0M1739.3 2581.2h0M1751.8 2554.3h0M1759.5 2535.5h0M1761 2570.4h0M1745.5 2575.8h0M1770.3 2527.5h0M1812.2 2540.9h0M1759.5 2524.8h0M1740.9 2567.8h0M1751.8 2559.7h0M1802.9 2519.4h0M1818.4 2481.9h0M1747.1 2540.9h0M1744 2605.3h0M1728.5 2573.1h0M1753.3 2578.5h0M1728.5 2567.8h0M1819.9 2527.5h0M1736.2 2549h0M1829.2 2511.4h0M1767.2 2538.2h0M1810.6 2495.3h0M1795.1 2489.9h0M1812.2 2514.1h0M1733.1 2608h0M1813.8 2495.3h0M1726.9 2575.8h0M1731.6 2562.4h0M1747.1 2562.4h0M1740.9 2589.2h0M1759.5 2551.7h0M1762.6 2524.8h0M1830.8 2487.2h0M1716.1 2610.7h0M1756.4 2524.8h0M1782.8 2516.8h0M1733.1 2613.4h0M1731.6 2605.3h0M1782.8 2549h0M1782.8 2479.2h0M1745.5 2613.4h0M1740.9 2551.7h0M1754.8 2565.1h0M1757.9 2559.7h0M1719.2 2605.3h0M1801.3 2538.2h0M1833.9 2508.7h0M1717.6 2608h0M1765.7 2546.3h0M1761 2559.7h0M1753.3 2573.1h0M1736.2 2565.1h0M1750.2 2562.4h0M1770.3 2511.4h0M1737.8 2540.9h0M1779.6 2527.5h0M1725.4 2637.6h0M1816.8 2479.2h0M1737.8 2594.6h0M1716.1 2642.9h0M1754.8 2575.8h0M1807.5 2538.2h0M1745.5 2559.7h0M1748.6 2538.2h0M1799.8 2508.7h0M1761 2565.1h0M1771.9 2535.5h0M1776.5 2554.3h0M1823 2479.2h0M1757.9 2581.2h0M1728.5 2632.2h0M1756.4 2557h0M1757.9 2538.2h0M1796.7 2514.1h0M1737.8 2557h0M1804.4 2495.3h0M1781.2 2530.2h0M1818.4 2530.2h0M1722.3 2594.6h0M1751.8 2570.4h0M1734.7 2600h0M1770.3 2516.8h0M1754.8 2554.3h0M1768.8 2492.6h0M1832.3 2511.4h0M1726.9 2581.2h0M1734.7 2557h0M1736.2 2559.7h0M1767.2 2522.1h0M1723.8 2629.5h0M1768.8 2519.4h0M1813.8 2516.8h0M1768.8 2535.5h0M1756.4 2567.8h0M1733.1 2565.1h0M1731.6 2616.1h0M1835.4 2489.9h0M1785.8 2511.4h0M1742.4 2549h0M1821.5 2508.7h0M1773.4 2511.4h0M1767.2 2549h0M1761 2549h0M1736.2 2538.2h0M1788.9 2538.2h0M1826.1 2495.3h0M1761 2575.8h0M1826.1 2511.4h0M1796.7 2524.8h0M1788.9 2543.6h0M1748.6 2581.2h0M1719.2 2637.6h0M1765.7 2524.8h0M1818.4 2514.1h0M1747.1 2589.2h0M1717.6 2602.7h0M1775 2524.8h0M1730 2618.8h0M1754.8 2570.4h0M1748.6 2554.3h0M1759.5 2546.3h0M1773.4 2532.9h0M1778.1 2551.7h0M1728.5 2621.5h0M1762.6 2540.9h0M1802.9 2503.3h0M1787.4 2540.9h0M1739.3 2527.5h0M1744 2600h0M1771.9 2562.4h0M1748.6 2591.9h0M1753.3 2583.9h0M1868 2471.1h0M1762.6 2503.3h0M1740.9 2546.3h0M1730 2640.2h0M1748.6 2559.7h0M1793.6 2535.5h0M1852.5 2481.9h0M1771.9 2567.8h0M1771.9 2583.9h0M1782.8 2565.1h0M1754.8 2581.2h0M1838.5 2522.1h0M1770.3 2543.6h0M1754.8 2586.6h0M1742.4 2565.1h0M1809.1 2519.4h0M1776.5 2543.6h0M1757.9 2565.1h0M1793.6 2519.4h0M1801.3 2532.9h0M1764.1 2532.9h0M1733.1 2602.7h0M1733.1 2618.8h0M1807.5 2532.9h0M1801.3 2522.1h0M1778.1 2540.9h0M1757.9 2549h0M1757.9 2591.9h0M1750.2 2540.9h0M1762.6 2535.5h0M1764.1 2516.8h0M1719.2 2642.9h0M1767.2 2532.9h0M1713 2621.5h0M1798.2 2516.8h0M1764.1 2543.6h0M1745.5 2554.3h0M1793.6 2492.6h0M1792 2559.7h0M1744 2540.9h0M1764.1 2575.8h0M1759.5 2567.8h0M1730 2608h0M1750.2 2481.9h0M1782.8 2554.3h0M1790.5 2524.8h0M1778.1 2557h0M1785.8 2538.2h0M1761 2538.2h0M1764.1 2586.6h0M1790.5 2519.4h0M1778.1 2524.8h0M1885 2495.3h0M1796.7 2519.4h0M1768.8 2583.9h0M1849.4 2481.9h0M1751.8 2565.1h0M1775 2498h0M1776.5 2532.9h0M1731.6 2535.5h0M1736.2 2554.3h0M1745.5 2597.3h0M1779.6 2538.2h0M1816.8 2484.5h0M1773.4 2516.8h0M1740.9 2594.6h0M1754.8 2522.1h0M1807.5 2500.6h0M1765.7 2573.1h0M1726.9 2634.9h0M1744 2546.3h0M1830.8 2508.7h0M1770.3 2532.9h0M1771.9 2551.7h0M1771.9 2546.3h0M1792 2532.9h0M1892.8 2476.5h0M1829.2 2495.3h0M1826.1 2506h0M1742.4 2570.4h0M1835.4 2473.8h0M1764.1 2549h0M1754.8 2543.6h0M1757.9 2575.8h0M1790.5 2540.9h0M1779.6 2543.6h0M1723.8 2581.2h0M1784.3 2524.8h0M1747.1 2583.9h0M1858.7 2492.6h0M1807.5 2495.3h0M1827.7 2524.8h0M1753.3 2589.2h0M1759.5 2589.2h0M1737.8 2535.5h0M1768.8 2551.7h0M1754.8 2549h0M1823 2484.5h0M1730 2565.1h0M1841.6 2511.4h0M1754.8 2559.7h0M1781.2 2557h0M1733.1 2527.5h0M1787.4 2530.2h0M1792 2549h0M1767.2 2511.4h0M1734.7 2546.3h0M1711.4 2624.1h0M1804.4 2479.2h0M1768.8 2546.3h0M1792 2516.8h0M1816.8 2506h0M1750.2 2535.5h0M1750.2 2530.2h0M1773.4 2527.5h0M1788.9 2549h0M1734.7 2551.7h0M1728.5 2626.8h0M1737.8 2605.3h0M1781.2 2514.1h0M1846.3 2508.7h0M1838.5 2489.9h0M1799.8 2514.1h0M1806 2519.4h0M1728.5 2562.4h0M1720.8 2591.9h0M1750.2 2573.1h0M1802.9 2535.5h0M1756.4 2562.4h0M1745.5 2586.6h0M1734.7 2562.4h0M1775 2583.9h0M1722.3 2632.2h0M1765.7 2530.2h0M1759.5 2492.6h0M1737.8 2600h0M1795.1 2511.4h0M1787.4 2514.1h0M1860.2 2495.3h0M1815.3 2514.1h0M1744 2583.9h0M1756.4 2546.3h0M1767.2 2581.2h0M1787.4 2519.4h0M1764.1 2527.5h0M1744 2535.5h0M1765.7 2557h0M1807.5 2554.3h0M1806 2524.8h0M1737.8 2610.7h0M1824.6 2503.3h0M1807.5 2511.4h0M1753.3 2519.4h0M1736.2 2597.3h0M1801.3 2516.8h0M1775 2546.3h0M1782.8 2506h0M1812.2 2524.8h0M1765.7 2562.4h0M1813.8 2473.8h0M1795.1 2506h0M1728.5 2546.3h0M1785.8 2549h0M1819.9 2522.1h0M1747.1 2594.6h0M1798.2 2484.5h0M1829.2 2484.5h0M1750.2 2578.5h0M1751.8 2538.2h0M1776.5 2549h0M1785.8 2543.6h0M1801.3 2506h0M1788.9 2516.8h0M1771.9 2530.2h0M1815.3 2471.1h0M1844.8 2489.9h0M1748.6 2597.3h0M1849.4 2524.8h0M1740.9 2524.8h0M1871.1 2498h0M1748.6 2565.1h0M1771.9 2573.1h0M1725.4 2626.8h0M1733.1 2543.6h0M1753.3 2551.7h0M1869.5 2479.2h0M1793.6 2546.3h0M1751.8 2543.6h0M1757.9 2532.9h0M1757.9 2484.5h0M1788.9 2570.4h0M1779.6 2516.8h0M1850.9 2484.5h0M1744 2594.6h0M1734.7 2616.1h0M1775 2530.2h0M1784.3 2551.7h0M1740.9 2508.7h0M1792 2506h0M1788.9 2522.1h0M1804.4 2506h0M1756.4 2540.9h0M1788.9 2527.5h0M1742.4 2543.6h0M1813.8 2506h0M1740.9 2610.7h0M1804.4 2500.6h0M1747.1 2600h0M1734.7 2621.5h0M1737.8 2573.1h0M1762.6 2562.4h0M1781.2 2567.8h0M1767.2 2575.8h0M1773.4 2559.7h0M1720.8 2640.2h0M1809.1 2492.6h0M1790.5 2498h0M1747.1 2535.5h0M1818.4 2492.6h0M1737.8 2621.5h0M1756.4 2589.2h0M1809.1 2514.1h0M1790.5 2530.2h0M1764.1 2559.7h0M1908.3 2481.9h0M1857.1 2473.8h0M1829.2 2479.2h0M1790.5 2535.5h0M1790.5 2508.7h0M1799.8 2519.4h0M1762.6 2508.7h0M1807.5 2506h0M1875.8 2489.9h0M1787.4 2546.3h0M1829.2 2500.6h0M1810.6 2532.9h0M1809.1 2540.9h0M1807.5 2489.9h0M1775 2535.5h0M1787.4 2551.7h0M1823 2495.3h0M1773.4 2538.2h0M1798.2 2549h0M1850.9 2473.8h0M1802.9 2524.8h0M1747.1 2573.1h0M1779.6 2522.1h0M1745.5 2538.2h0M1821.5 2540.9h0M1723.8 2634.9h0M1770.3 2549h0M1748.6 2613.4h0M1798.2 2532.9h0M1889.7 2465.7h0M1837 2492.6h0M1877.3 2465.7h0M1787.4 2557h0M1798.2 2511.4h0M1785.8 2527.5h0M1818.4 2508.7h0M1807.5 2522.1h0M1860.2 2489.9h0M1812.2 2508.7h0M1792 2543.6h0M1858.7 2476.5h0M1782.8 2532.9h0M1767.2 2527.5h0M1757.9 2602.7h0M1788.9 2484.5h0M1753.3 2557h0M1790.5 2481.9h0M1785.8 2554.3h0M1824.6 2530.2h0M1736.2 2618.8h0M1809.1 2498h0M1762.6 2551.7h0M1748.6 2532.9h0M1728.5 2616.1h0M1813.8 2489.9h0M1799.8 2530.2h0M1762.6 2514.1h0M1742.4 2538.2h0M1759.5 2573.1h0M1748.6 2602.7h0M1764.1 2565.1h0M1779.6 2559.7h0M1762.6 2583.9h0M1784.3 2540.9h0M1802.9 2546.3h0M1813.8 2511.4h0M1757.9 2522.1h0M1754.8 2527.5h0M1765.7 2567.8h0M1751.8 2516.8h0M1726.9 2570.4h0M1779.6 2554.3h0M1778.1 2567.8h0M1736.2 2629.5h0M1762.6 2530.2h0M1806 2514.1h0M1872.6 2473.8h0M1795.1 2549h0M1768.8 2540.9h0M1781.2 2551.7h0M1750.2 2524.8h0M1730 2554.3h0M1812.2 2481.9h0M1861.8 2492.6h0M1719.2 2594.6h0M1847.8 2500.6h0M1835.4 2500.6h0M1790.5 2546.3h0M1773.4 2565.1h0M1809.1 2535.5h0M1905.2 2465.7h0M1785.8 2532.9h0M1771.9 2540.9h0M1841.6 2554.3h0M1759.5 2605.3h0M1726.9 2629.5h0M1850.9 2500.6h0M1787.4 2503.3h0M1731.6 2637.6h0M1773.4 2522.1h0M1801.3 2511.4h0M1881.9 2479.2h0M1833.9 2514.1h0M1767.2 2570.4h0M1753.3 2594.6h0M1762.6 2546.3h0M1740.9 2530.2h0M1903.6 2463.1h0M1804.4 2511.4h0M1747.1 2578.5h0M1733.1 2554.3h0M1775 2562.4h0M1750.2 2600h0M1860.2 2506h0M1798.2 2500.6h0M1759.5 2530.2h0M1736.2 2532.9h0M1731.6 2546.3h0M1725.4 2632.2h0M1843.2 2487.2h0M1778.1 2514.1h0M1753.3 2600h0M1754.8 2538.2h0M1776.5 2522.1h0M1806 2557h0M1792 2527.5h0M1751.8 2586.6h0M1881.9 2500.6h0M1742.4 2602.7h0M1782.8 2543.6h0M1812.2 2503.3h0M1742.4 2618.8h0M1815.3 2519.4h0M1745.5 2527.5h0M1821.5 2481.9h0M1819.9 2554.3h0M1827.7 2514.1h0M1764.1 2554.3h0M1757.9 2516.8h0M1764.1 2581.2h0M1759.5 2514.1h0M1745.5 2522.1h0M1750.2 2519.4h0M1751.8 2581.2h0M1912.9 2468.4h0M1764.1 2570.4h0M1827.7 2508.7h0M1854 2495.3h0M1731.6 2557h0M1838.5 2495.3h0M1757.9 2586.6h0M1841.6 2473.8h0M1770.3 2565.1h0M1751.8 2613.4h0M1778.1 2508.7h0M1750.2 2594.6h0M1888.1 2463.1h0M1823 2511.4h0M1730 2629.5h0M1833.9 2535.5h0M1784.3 2519.4h0M1751.8 2618.8h0M1872.6 2479.2h0M1768.8 2514.1h0M1866.4 2473.8h0M1784.3 2503.3h0M1745.5 2624.1h0M1826.1 2527.5h0M1796.7 2498h0M1742.4 2511.4h0M1714.5 2613.4h0M1833.9 2492.6h0M1785.8 2516.8h0M1864.9 2481.9h0M1736.2 2511.4h0M1761 2586.6h0M1903.6 2473.8h0M1785.8 2522.1h0M1785.8 2506h0M1759.5 2508.7h0M1779.6 2506h0M1747.1 2605.3h0M1827.7 2519.4h0M1767.2 2495.3h0M1807.5 2516.8h0M1833.9 2476.5h0M1840.1 2476.5h0M1846.3 2465.7h0M1787.4 2535.5h0M1776.5 2511.4h0M1747.1 2524.8h0M1855.6 2476.5h0M1778.1 2498h0M1830.8 2476.5h0M1748.6 2527.5h0M1785.8 2559.7h0M1779.6 2549h0M1781.2 2546.3h0M1778.1 2589.2h0M1765.7 2540.9h0M1756.4 2573.1h0M1784.3 2471.1h0M1744 2530.2h0M1756.4 2594.6h0M1818.4 2519.4h0M1775 2551.7h0M1731.6 2621.5h0M1816.8 2516.8h0M1841.6 2484.5h0M1776.5 2527.5h0M1793.6 2514.1h0M1788.9 2554.3h0M1793.6 2508.7h0M1799.8 2524.8h0M1788.9 2559.7h0" stroke="#5c2d87" stroke-width="3.5" stroke-linecap="round" fill="none"/>
<path d="M1730 2602.7h0M1733.1 2575.8h0M1731.6 2600h0M1730 2575.8h0M1734.7 2583.9h0M1726.9 2586.6h0M1722.3 2626.8h0M1728.5 2610.7h0M1736.2 2581.2h0M1714.5 2640.2h0M1719.2 2610.7h0M1734.7 2594.6h0M1733.1 2586.6h0M1720.8 2602.7h0M1734.7 2578.5h0M1713 2626.8h0M1731.6 2578.5h0M1739.3 2570.4h0M1736.2 2575.8h0M1733.1 2591.9h0M1745.5 2565.1h0M1723.8 2624.1h0M1736.2 2570.4h0M1733.1 2581.2h0M1717.6 2613.4h0M1723.8 2597.3h0M1744 2573.1h0M1731.6 2573.1h0M1734.7 2573.1h0M1740.9 2573.1h0M1733.1 2597.3h0M1711.4 2629.5h0M1739.3 2565.1h0M1734.7 2589.2h0M1744 2567.8h0M1720.8 2629.5h0M1744 2557h0M1728.5 2583.9h0M1739.3 2586.6h0M1737.8 2583.9h0M1739.3 2575.8h0M1737.8 2578.5h0M1747.1 2557h0M1725.4 2621.5h0M1733.1 2570.4h0M1747.1 2567.8h0M1726.9 2613.4h0M1725.4 2589.2h0" stroke="#4f3f8c" stroke-width="3.5" stroke-linecap="round" fill="none"/>
<path d="M1716.1 2637.6h0M1725.4 2616.1h0M1730 2597.3h0M1730 2586.6h0M1731.6 2583.9h0M1728.5 2605.3h0M1719.2 2632.2h0M1730 2591.9h0M1720.8 2608h0M1731.6 2594.6h0M1722.3 2600h0M1725.4 2594.6h0M1728.5 2600h0M1713 2642.9h0M1728.5 2589.2h0M1731.6 2589.2h0M1717.6 2634.9h0" stroke="#3f5490" stroke-width="3.5" stroke-linecap="round" fill="none"/>
<path d="M1723.8 2618.8h0M1726.9 2597.3h0M1728.5 2594.6h0M1726.9 2591.9h0M1725.4 2600h0M1725.4 2610.7h0M1726.9 2602.7h0M1723.8 2608h0M1722.3 2605.3h0M1726.9 2608h0" stroke="#31688e" stroke-width="3.5" stroke-linecap="round" fill="none"/>
<path d="M1722.3 2621.5h0M1723.8 2602.7h0M1723.8 2613.4h0M1719.2 2626.8h0M1714.5 2624.1h0M1711.4 2640.2h0M1725.4 2605.3h0M1720.8 2624.1h0M1722.3 2610.7h0" stroke="#26828e" stroke-width="3.5" stroke-linecap="round" fill="none"/>
<path d="M1716.1 2621.5h0M1719.2 2616.1h0M1722.3 2616.1h0M1720.8 2618.8h0M1717.6 2618.8h0M1717.6 2629.5h0" stroke="#1f9e89" stroke-width="3.5" stroke-linecap="round" fill="none"/>
<path d="M1720.8 2613.4h0M1711.4 2634.9h0" stroke="#35b779" stroke-width="3.5" stroke-linecap="round" fill="none"/>
<path d="M1719.2 2621.5h0M1714.5 2634.9h0" stroke="#6ece58" stroke-width="3.5" stroke-linecap="round" fill="none"/>
<path d="M1716.1 2632.2h0M1717.6 2624.1h0" stroke="#b5de2b" stroke-width="3.5" stroke-linecap="round" fill="none"/>
<path d="M1713 2637.6h0M1714.5 2629.5h0M1713 2632.2h0M1716.1 2626.8h0" stroke="#fde725" stroke-width="3.5" stroke-linecap="round" fill="none"/>
<path d="M1245.8 2386.4h0M1336 2556h0M1484 2441h0M1608 2584h0M1514 2458h0M1750 2473h0M1778 2457h0" stroke="#5c2d87" stroke-width="3.4" stroke-linecap="round"/>
<path d="M1137.3 2641.2L1355.6 2430.5" stroke="#000" stroke-width="2.0" fill="none"/>
<path d="M1126.4 2373.4V2655.4H1364.9" stroke="#222" stroke-width="1.25" fill="none"/>
<path d="M1122.9 2644.5h3.5M1122.9 2572.6h3.5M1122.9 2500.8h3.5M1122.9 2429.4h3.5" stroke="#2e2e2e" stroke-width="1.1"/>
<text x="1120.9" y="2649.5" font-size="14" text-anchor="end" fill="#4d4d4d">0</text>
<text x="1120.9" y="2577.6" font-size="14" text-anchor="end" fill="#4d4d4d">2</text>
<text x="1120.9" y="2505.8" font-size="14" text-anchor="end" fill="#4d4d4d">4</text>
<text x="1120.9" y="2434.4" font-size="14" text-anchor="end" fill="#4d4d4d">6</text>
<path d="M1130.8 2655.4v3.5M1202.6 2655.4v3.5M1274.5 2655.4v3.5M1346.4 2655.4v3.5" stroke="#2e2e2e" stroke-width="1.1"/>
<text x="1130.8" y="2673.5" font-size="14" text-anchor="middle" fill="#4d4d4d">0</text>
<text x="1202.6" y="2673.5" font-size="14" text-anchor="middle" fill="#4d4d4d">2</text>
<text x="1274.5" y="2673.5" font-size="14" text-anchor="middle" fill="#4d4d4d">4</text>
<text x="1346.4" y="2673.5" font-size="14" text-anchor="middle" fill="#4d4d4d">6</text>
<text x="1246.2" y="2688.3" font-size="17.8" text-anchor="middle">20µM</text>
<text font-size="17.8" text-anchor="middle" transform="translate(1109.5,2514.4) rotate(-90)">5µM</text>
<text x="1137.9" y="2405.5" font-size="17.5"><tspan font-style="italic">R</tspan> = 0.92</text>
<path d="M1429.1 2629.3L1636.6 2389.1" stroke="#000" stroke-width="2.0" fill="none"/>
<path d="M1419.9 2373.4V2655.4H1646.9" stroke="#222" stroke-width="1.25" fill="none"/>
<path d="M1416.4 2648.3h3.5M1416.4 2576.4h3.5M1416.4 2505.1h3.5M1416.4 2433.2h3.5" stroke="#2e2e2e" stroke-width="1.1"/>
<text x="1414.4" y="2653.3" font-size="14" text-anchor="end" fill="#4d4d4d">0.0</text>
<text x="1414.4" y="2581.4" font-size="14" text-anchor="end" fill="#4d4d4d">2.5</text>
<text x="1414.4" y="2510.1" font-size="14" text-anchor="end" fill="#4d4d4d">5.0</text>
<text x="1414.4" y="2438.2" font-size="14" text-anchor="end" fill="#4d4d4d">7.5</text>
<path d="M1424.8 2655.4v3.5M1484.7 2655.4v3.5M1544.6 2655.4v3.5M1604.5 2655.4v3.5" stroke="#2e2e2e" stroke-width="1.1"/>
<text x="1424.8" y="2673.5" font-size="14" text-anchor="middle" fill="#4d4d4d">0</text>
<text x="1484.7" y="2673.5" font-size="14" text-anchor="middle" fill="#4d4d4d">2</text>
<text x="1544.6" y="2673.5" font-size="14" text-anchor="middle" fill="#4d4d4d">4</text>
<text x="1604.5" y="2673.5" font-size="14" text-anchor="middle" fill="#4d4d4d">6</text>
<text x="1533.7" y="2688.3" font-size="17.8" text-anchor="middle">0.5µM</text>
<text font-size="17.8" text-anchor="middle" transform="translate(1391,2514.4) rotate(-90)">5µM</text>
<text x="1430.8" y="2405.5" font-size="17.5"><tspan font-style="italic">R</tspan> = 0.89</text>
<path d="M1711.7 2620.5L1919.1 2389.1" stroke="#000" stroke-width="2.0" fill="none"/>
<path d="M1701.9 2373.4V2655.4H1929.5" stroke="#222" stroke-width="1.25" fill="none"/>
<path d="M1698.4 2648.3h3.5M1698.4 2574.8h3.5M1698.4 2501.3h3.5M1698.4 2428.9h3.5" stroke="#2e2e2e" stroke-width="1.1"/>
<text x="1696.4" y="2653.3" font-size="14" text-anchor="end" fill="#4d4d4d">0.0</text>
<text x="1696.4" y="2579.8" font-size="14" text-anchor="end" fill="#4d4d4d">2.5</text>
<text x="1696.4" y="2506.3" font-size="14" text-anchor="end" fill="#4d4d4d">5.0</text>
<text x="1696.4" y="2433.9" font-size="14" text-anchor="end" fill="#4d4d4d">7.5</text>
<path d="M1706.8 2655.4v3.5M1766.7 2655.4v3.5M1826.6 2655.4v3.5M1886.5 2655.4v3.5" stroke="#2e2e2e" stroke-width="1.1"/>
<text x="1706.8" y="2673.5" font-size="14" text-anchor="middle" fill="#4d4d4d">0</text>
<text x="1766.7" y="2673.5" font-size="14" text-anchor="middle" fill="#4d4d4d">2</text>
<text x="1826.6" y="2673.5" font-size="14" text-anchor="middle" fill="#4d4d4d">4</text>
<text x="1886.5" y="2673.5" font-size="14" text-anchor="middle" fill="#4d4d4d">6</text>
<text x="1815.7" y="2688.3" font-size="17.8" text-anchor="middle">0.5µM</text>
<text font-size="17.8" text-anchor="middle" transform="translate(1671.5,2514.4) rotate(-90)">20µM</text>
<text x="1712.8" y="2405.5" font-size="17.5"><tspan font-style="italic">R</tspan> = 0.88</text>
<text x="1099" y="2388" font-size="23.2" font-weight="bold" font-family="DejaVu Sans, sans-serif">l</text>
</svg>
</body></html>
